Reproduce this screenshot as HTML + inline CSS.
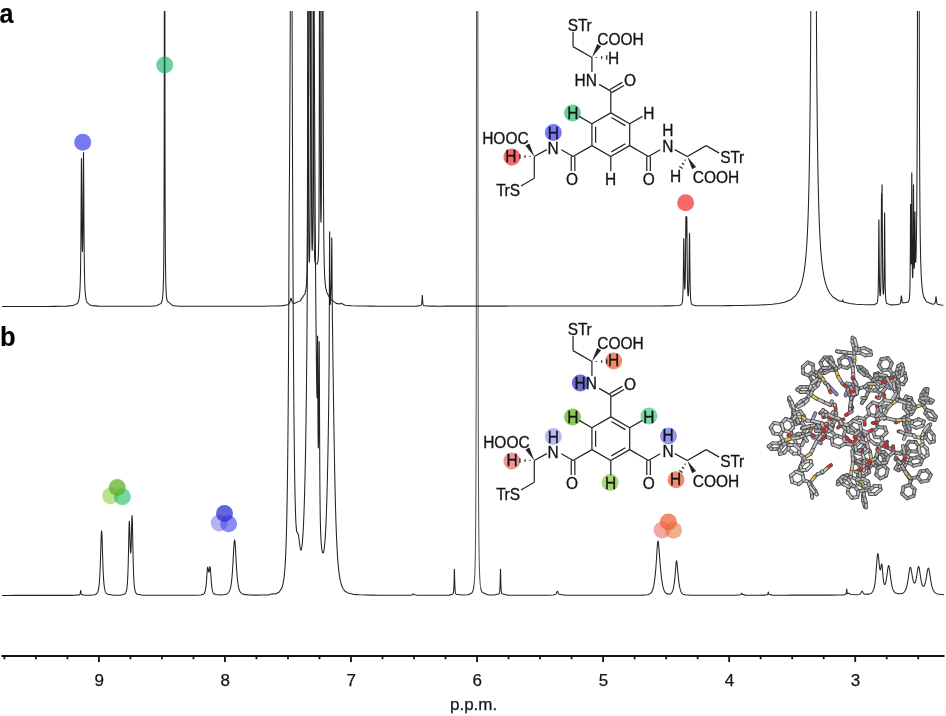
<!DOCTYPE html>
<html><head><meta charset="utf-8"><style>
html,body{margin:0;padding:0;background:#fff;overflow:hidden}
svg{display:block}
</style></head><body>
<svg width="946" height="716" viewBox="0 0 946 716">
<rect width="946" height="716" fill="#fff"/>
<defs><clipPath id="clp"><rect x="0" y="11" width="946" height="705"/></clipPath><clipPath id="clpb"><rect x="0" y="11" width="474" height="705"/><rect x="480.8" y="11" width="470" height="705"/><rect x="474" y="588" width="7" height="100"/></clipPath><clipPath id="clpg"><rect x="474" y="11" width="6.8" height="577"/></clipPath></defs>
<g clip-path="url(#clpb)" fill="none" stroke="#222" stroke-width="1.05" stroke-linejoin="round"><path d="M2.00 595.40 L8.50 595.40 L15.00 595.39 L21.50 595.39 L28.00 595.39 L34.50 595.39 L41.00 595.39 L47.50 595.38 L54.00 595.38 L60.50 595.38 L67.00 595.37 L73.50 595.35 L79.50 594.88 L79.90 594.40 L80.10 593.88 L80.23 593.33 L80.37 592.53 L80.57 591.05 L80.63 590.71 L80.70 590.57 L80.77 590.70 L80.83 591.05 L81.03 592.53 L81.17 593.33 L81.30 593.88 L81.50 594.39 L84.63 595.28 L90.78 595.19 L94.75 594.68 L96.16 594.01 L96.73 593.51 L97.01 593.17 L97.58 592.20 L97.86 591.52 L98.14 590.64 L98.43 589.50 L98.71 588.00 L99.00 585.98 L99.28 583.38 L99.50 580.69 L99.56 579.83 L99.84 575.13 L100.00 571.95 L100.13 568.97 L100.41 561.17 L100.50 558.45 L100.69 552.03 L101.00 541.83 L101.26 534.65 L101.50 531.12 L101.55 530.88 L101.83 532.58 L102.00 536.10 L102.11 539.14 L102.39 548.29 L102.50 551.86 L102.68 557.75 L102.96 566.14 L103.00 567.15 L103.25 572.92 L103.50 577.70 L103.53 578.15 L103.81 582.12 L104.00 584.18 L104.09 585.08 L104.38 587.29 L104.50 588.07 L104.66 588.96 L105.00 590.44 L105.23 591.20 L105.51 591.95 L105.80 592.54 L106.08 593.00 L106.64 593.68 L107.50 594.29 L113.73 595.21 L119.79 595.16 L123.75 594.54 L124.84 593.88 L125.50 593.08 L126.00 592.06 L126.35 590.95 L126.57 590.03 L126.79 588.84 L127.00 587.31 L127.16 585.90 L127.22 585.29 L127.38 583.43 L127.50 581.69 L127.59 580.15 L127.65 579.11 L127.81 575.82 L127.87 574.40 L128.00 570.86 L128.09 568.21 L128.24 562.61 L128.30 560.31 L128.46 553.41 L128.52 550.64 L128.74 539.92 L128.89 532.39 L128.95 529.90 L129.00 528.01 L129.11 524.42 L129.17 523.01 L129.33 521.28 L129.39 521.44 L129.50 522.89 L129.54 523.83 L129.60 525.32 L129.76 530.52 L130.00 539.58 L130.04 540.88 L130.19 546.02 L130.25 547.62 L130.41 550.99 L130.47 551.86 L130.50 552.22 L130.63 553.08 L130.69 553.11 L130.84 552.07 L130.90 551.27 L131.00 549.42 L131.06 547.99 L131.12 546.36 L131.28 541.05 L131.34 538.76 L131.50 531.85 L131.55 529.59 L131.71 523.07 L131.77 520.93 L131.93 516.67 L131.99 515.78 L132.00 515.63 L132.14 515.67 L132.20 516.49 L132.36 520.88 L132.42 523.21 L132.50 526.86 L132.58 530.70 L132.64 533.80 L132.85 545.42 L133.01 553.38 L133.07 556.13 L133.23 562.79 L133.29 565.01 L133.44 570.25 L133.50 571.94 L133.66 575.94 L133.72 577.24 L133.88 580.25 L134.00 582.19 L134.09 583.48 L134.15 584.20 L134.31 585.91 L134.37 586.47 L134.53 587.76 L134.74 589.19 L135.02 590.54 L135.24 591.35 L135.67 592.50 L136.10 593.26 L137.19 594.27 L143.19 595.24 L149.50 595.32 L156.00 595.33 L162.50 595.34 L169.00 595.34 L175.50 595.33 L182.00 595.33 L188.50 595.31 L194.80 595.27 L200.93 594.99 L203.17 594.32 L204.00 593.62 L204.50 592.88 L204.77 592.31 L205.03 591.57 L205.30 590.59 L205.57 589.30 L205.73 588.28 L205.83 587.58 L206.00 586.24 L206.10 585.32 L206.27 583.58 L206.37 582.41 L206.53 580.27 L206.63 578.87 L207.07 572.41 L207.22 570.42 L207.33 569.12 L207.43 568.24 L207.50 567.79 L207.60 567.33 L207.70 567.15 L207.87 567.41 L208.00 568.02 L208.40 570.67 L208.52 571.34 L208.67 571.93 L208.77 572.13 L208.95 572.06 L209.03 571.83 L209.20 571.07 L209.38 569.86 L209.57 568.50 L209.73 567.42 L209.83 566.96 L210.00 566.66 L210.10 566.83 L210.27 567.73 L210.37 568.62 L210.53 570.58 L210.68 572.70 L211.12 579.26 L211.33 582.14 L211.50 584.08 L211.60 585.11 L211.70 586.04 L211.87 587.41 L212.00 588.35 L212.13 589.16 L212.23 589.70 L212.50 590.88 L212.85 592.01 L213.30 592.98 L213.83 593.69 L215.17 594.54 L221.30 594.96 L225.00 594.52 L226.72 593.93 L227.58 593.40 L228.02 593.04 L228.50 592.52 L229.00 591.80 L229.50 590.85 L229.75 590.25 L230.00 589.56 L230.18 588.97 L230.50 587.77 L230.62 587.26 L231.05 584.99 L231.50 581.82 L231.92 577.90 L232.00 576.99 L232.35 572.61 L232.50 570.46 L232.78 565.94 L233.00 562.11 L233.22 558.06 L233.50 552.67 L233.65 549.90 L234.00 544.24 L234.08 543.16 L234.50 539.96 L234.52 539.92 L234.95 541.40 L235.00 541.86 L235.38 547.02 L235.50 549.01 L235.82 554.89 L236.00 558.38 L236.25 563.01 L236.50 567.32 L236.68 570.20 L237.00 574.60 L237.12 576.03 L237.50 580.07 L237.55 580.52 L238.00 584.03 L238.42 586.46 L238.50 586.87 L238.85 588.36 L239.00 588.90 L239.28 589.79 L239.72 590.88 L240.15 591.71 L240.58 592.36 L241.02 592.86 L242.00 593.65 L243.62 594.36 L249.68 595.05 L255.75 595.14 L261.82 595.09 L267.97 594.86 L270.63 594.40 L271.64 593.85 L275.13 594.03 L279.02 592.30 L281.81 588.10 L283.02 583.83 L283.72 579.86 L284.19 576.14 L284.56 572.49 L284.86 568.94 L285.11 565.26 L285.33 561.60 L285.51 558.16 L285.70 554.26 L285.92 548.93 L286.15 542.44 L286.32 536.81 L286.48 531.26 L286.58 527.34 L286.69 522.56 L286.81 517.07 L286.91 512.29 L287.02 506.12 L287.09 502.33 L287.17 497.99 L287.27 491.01 L287.35 486.01 L287.43 480.01 L287.50 474.96 L287.57 469.50 L287.65 463.09 L287.73 456.14 L287.79 450.22 L287.86 443.12 L287.90 439.28 L287.98 430.94 L288.02 426.75 L288.08 419.30 L288.15 410.48 L288.19 405.82 L288.23 401.01 L288.26 396.19 L288.31 389.67 L288.34 385.79 L288.38 380.48 L288.43 372.78 L288.45 368.95 L288.49 363.01 L288.53 355.25 L288.56 350.01 L288.60 342.28 L288.63 335.94 L288.66 330.58 L288.68 325.87 L288.70 320.34 L288.72 317.60 L288.74 311.74 L288.78 302.63 L288.81 293.27 L288.83 288.41 L288.85 283.16 L288.90 269.42 L288.96 250.69 L288.98 246.38 L289.00 240.48 L289.01 238.30 L289.04 231.22 L289.07 223.60 L289.07 222.50 L289.11 215.12 L289.12 212.37 L289.15 209.16 L289.18 204.45 L289.22 200.75 L289.25 197.57 L289.31 192.75 L289.33 191.23 L289.37 187.78 L289.40 183.80 L289.42 182.05 L289.44 179.35 L289.48 174.01 L289.51 169.21 L289.53 165.99 L289.55 163.46 L289.59 156.34 L289.62 151.13 L289.66 144.47 L289.71 135.31 L289.73 130.71 L289.77 123.49 L289.84 108.89 L289.92 93.95 L290.06 63.31 L290.25 24.75 L290.32 9.00 L290.41 -10.26 L290.43 -14.90 L290.48 -26.14 L290.50 -29.00 L290.54 -29.00 L290.57 -29.00 L290.58 -29.00 L290.61 -29.00 L290.65 -29.00 L290.67 -29.00 L290.69 -29.00 L290.70 -29.00 L290.72 -29.00 L290.76 -29.00 L290.80 -29.00 L290.81 -29.00 L290.82 -29.00 L290.83 -29.00 L290.87 -29.00 L290.88 -29.00 L290.90 -29.00 L290.90 -29.00 L290.93 -29.00 L290.94 -29.00 L290.95 -29.00 L290.98 -29.00 L290.99 -29.00 L291.00 -29.00 L291.01 -29.00 L291.03 -29.00 L291.05 -29.00 L291.05 -29.00 L291.09 -29.00 L291.11 -29.00 L291.12 -29.00 L291.15 -29.00 L291.16 -29.00 L291.17 -29.00 L291.20 -29.00 L291.23 -29.00 L291.24 -29.00 L291.24 -29.00 L291.27 -29.00 L291.28 -29.00 L291.31 -29.00 L291.31 -29.00 L291.34 -29.00 L291.35 -29.00 L291.38 -29.00 L291.40 -29.00 L291.42 -29.00 L291.45 -29.00 L291.46 -29.00 L291.48 -29.00 L291.49 -29.00 L291.50 -29.00 L291.52 -29.00 L291.53 -29.00 L291.56 -29.00 L291.57 -29.00 L291.60 -29.00 L291.63 -29.00 L291.64 -29.00 L291.65 -29.00 L291.68 -29.00 L291.69 -29.00 L291.71 -29.00 L291.75 -29.00 L291.75 -29.00 L291.79 -29.00 L291.80 -29.00 L291.81 -29.00 L291.81 -29.00 L291.82 -29.00 L291.86 -29.00 L291.87 -29.00 L291.89 -29.00 L291.90 -29.00 L291.93 -29.00 L291.93 -29.00 L291.97 -29.00 L291.98 -29.00 L292.00 -29.00 L292.00 -29.00 L292.03 -21.35 L292.04 -15.15 L292.08 2.92 L292.09 7.10 L292.10 12.56 L292.12 19.20 L292.15 32.36 L292.16 37.26 L292.19 49.51 L292.22 60.11 L292.23 63.06 L292.26 76.32 L292.27 80.84 L292.30 89.01 L292.31 93.34 L292.33 100.87 L292.37 112.62 L292.41 123.98 L292.45 136.14 L292.48 145.35 L292.52 155.72 L292.56 165.54 L292.59 175.37 L292.63 184.96 L292.67 194.06 L292.70 203.19 L292.74 212.82 L292.77 220.58 L292.81 229.09 L292.86 239.41 L292.90 248.58 L292.94 257.10 L293.00 269.49 L293.03 276.12 L293.07 283.20 L293.11 290.12 L293.15 297.82 L293.18 303.88 L293.22 311.95 L293.25 316.85 L293.29 323.20 L293.32 329.24 L293.36 335.31 L293.40 341.39 L293.44 346.87 L293.48 353.57 L293.55 363.28 L293.58 368.54 L293.62 373.67 L293.65 378.54 L293.69 383.43 L293.73 388.19 L293.76 392.71 L293.81 398.45 L293.88 405.85 L293.91 410.05 L293.95 414.14 L294.00 419.60 L294.08 427.38 L294.15 434.17 L294.20 439.63 L294.24 442.93 L294.31 449.18 L294.36 452.87 L294.43 457.98 L294.50 463.56 L294.57 468.61 L294.65 473.52 L294.72 478.08 L294.83 484.46 L294.90 488.39 L295.01 493.85 L295.08 497.21 L295.16 500.39 L295.23 503.32 L295.31 506.32 L295.42 509.86 L295.53 513.41 L295.65 516.58 L295.75 519.00 L295.86 521.38 L296.00 524.10 L296.15 526.35 L296.37 528.92 L296.55 530.44 L296.74 531.49 L297.03 532.43 L298.06 533.69 L298.42 535.12 L298.86 537.97 L299.93 546.52 L300.37 548.96 L300.69 549.96 L301.03 550.17 L301.36 549.56 L301.69 548.12 L302.05 545.54 L302.35 542.73 L302.64 539.20 L302.93 534.96 L303.09 532.35 L303.26 529.35 L303.45 525.54 L303.59 522.47 L303.76 518.60 L303.92 514.37 L304.03 511.48 L304.17 507.38 L304.34 502.23 L304.42 499.51 L304.53 495.86 L304.59 493.73 L304.67 490.69 L304.76 487.53 L304.92 480.79 L305.03 476.20 L305.17 469.71 L305.26 465.74 L305.34 461.57 L305.44 456.60 L305.53 451.52 L305.59 448.16 L305.67 443.35 L305.76 438.36 L305.84 433.11 L305.92 427.71 L306.03 420.43 L306.09 416.18 L306.17 410.09 L306.26 403.73 L306.34 397.02 L306.42 390.08 L306.51 382.81 L306.59 375.07 L306.67 367.02 L306.76 358.50 L306.84 349.33 L306.90 342.39 L306.92 339.63 L307.01 329.16 L307.03 325.97 L307.09 317.61 L307.14 310.17 L307.17 305.00 L307.26 290.90 L307.34 274.67 L307.40 261.58 L307.42 255.94 L307.50 236.31 L307.53 227.76 L307.59 209.20 L307.67 180.39 L307.71 167.33 L307.76 148.92 L307.84 117.27 L307.90 97.44 L307.92 90.95 L307.99 76.39 L308.00 75.22 L308.01 74.42 L308.03 71.86 L308.09 69.60 L308.17 74.05 L308.26 82.64 L308.28 84.79 L308.34 90.97 L308.40 95.17 L308.42 96.28 L308.50 97.93 L308.53 97.73 L308.56 97.09 L308.59 96.04 L308.67 91.25 L308.68 90.42 L308.76 84.13 L308.78 81.82 L308.84 74.63 L308.88 70.90 L308.90 67.76 L308.92 64.79 L308.97 58.31 L309.01 53.40 L309.03 49.94 L309.07 44.63 L309.09 41.02 L309.13 35.19 L309.17 28.13 L309.26 14.39 L309.35 -1.48 L309.45 -17.94 L309.55 -29.00 L309.70 -29.00 L310.34 -29.00 L310.55 -29.00 L310.69 -29.00 L310.84 -29.00 L310.92 -29.00 L311.03 -29.00 L311.12 -29.00 L311.17 -29.00 L311.27 -29.00 L311.36 -29.00 L311.42 -29.00 L311.46 -29.00 L311.51 -29.00 L311.55 -29.00 L311.59 -29.00 L311.65 -29.00 L311.68 -29.00 L311.75 -29.00 L311.76 -29.00 L311.84 -29.00 L311.90 -29.00 L311.94 -29.00 L311.97 -29.00 L312.01 -29.00 L312.03 -29.00 L312.09 -29.00 L312.13 -29.00 L312.17 -29.00 L312.22 -29.00 L312.26 -29.00 L312.31 -29.00 L312.32 -29.00 L312.34 -29.00 L312.37 -29.00 L312.40 -29.00 L312.43 -29.00 L312.49 -29.00 L312.51 -29.00 L312.54 -29.00 L312.55 -29.00 L312.59 -29.00 L312.61 -29.00 L312.67 -29.00 L312.67 -29.00 L312.70 -29.00 L312.73 -29.00 L312.76 -29.00 L312.78 -29.00 L312.80 -29.00 L312.82 -29.00 L312.84 -29.00 L312.89 -29.00 L312.92 -29.00 L312.96 -29.00 L313.01 -29.00 L313.03 -29.00 L313.09 -29.00 L313.14 -29.00 L313.18 -29.00 L313.20 -29.00 L313.28 -29.00 L313.53 -29.00 L313.59 -29.00 L313.68 -29.00 L313.76 -29.00 L313.80 -29.00 L313.86 -29.00 L313.92 -29.00 L313.98 -29.00 L314.04 -25.31 L314.10 -10.68 L314.14 -0.43 L314.17 8.66 L314.24 25.23 L314.28 33.94 L314.34 49.10 L314.40 62.95 L314.45 75.32 L314.53 91.73 L314.59 104.46 L314.63 113.59 L314.69 125.75 L314.76 137.98 L314.81 148.93 L314.87 160.15 L314.93 170.90 L315.01 183.98 L315.05 191.89 L315.11 201.80 L315.19 214.50 L315.26 225.06 L315.29 230.29 L315.35 239.33 L315.42 250.00 L315.48 257.53 L315.53 265.01 L315.59 273.10 L315.67 283.93 L315.71 288.37 L315.77 295.81 L315.86 306.69 L315.95 317.55 L316.03 325.87 L316.09 332.20 L316.15 337.94 L316.19 341.83 L316.26 348.70 L316.31 353.27 L316.36 358.58 L316.43 364.54 L316.51 370.98 L316.54 373.39 L316.60 377.86 L316.66 382.04 L316.72 385.83 L316.78 389.31 L316.81 391.04 L316.84 392.35 L316.90 394.80 L316.91 395.15 L316.96 396.61 L317.01 397.43 L317.03 397.62 L317.08 397.41 L317.10 397.02 L317.14 395.84 L317.20 392.41 L317.26 386.82 L317.29 382.30 L317.32 378.51 L317.36 370.55 L317.39 365.61 L317.44 355.37 L317.49 346.03 L317.50 343.43 L317.53 339.18 L317.56 336.70 L317.58 335.97 L317.62 337.44 L317.65 341.25 L317.68 346.70 L317.74 362.06 L317.77 372.29 L317.80 379.37 L317.86 396.15 L317.87 399.24 L317.90 406.95 L317.92 410.51 L317.93 413.86 L317.96 419.78 L317.98 421.88 L318.00 425.90 L318.03 430.17 L318.06 433.75 L318.10 437.52 L318.15 442.34 L318.22 445.62 L318.25 446.82 L318.27 447.41 L318.33 448.02 L318.35 447.99 L318.39 447.41 L318.40 447.26 L318.44 445.98 L318.45 445.54 L318.50 443.16 L318.51 442.41 L318.54 440.67 L318.57 437.79 L318.63 431.50 L318.69 423.91 L318.73 418.07 L318.75 414.38 L318.78 408.42 L318.81 403.21 L318.82 400.60 L318.87 390.92 L318.93 377.70 L318.99 364.74 L319.00 362.70 L319.02 359.54 L319.03 356.90 L319.05 353.56 L319.07 350.54 L319.11 345.30 L319.11 345.09 L319.17 341.54 L319.21 341.90 L319.23 343.05 L319.29 349.92 L319.30 352.40 L319.35 361.36 L319.35 362.25 L319.40 373.93 L319.41 375.75 L319.47 392.08 L319.53 409.61 L319.59 425.62 L319.64 437.05 L319.65 439.41 L319.69 448.24 L319.71 452.71 L319.76 464.21 L319.78 467.07 L319.82 474.38 L319.88 482.06 L319.90 485.16 L319.92 487.71 L319.94 490.60 L319.97 493.76 L320.00 497.12 L320.03 499.66 L320.07 503.10 L320.12 507.55 L320.16 510.52 L320.20 513.16 L320.26 516.44 L320.30 518.75 L320.36 521.65 L320.42 524.24 L320.50 527.21 L320.55 528.78 L320.60 530.51 L320.66 532.20 L320.74 534.22 L320.84 536.53 L320.96 538.90 L321.08 540.94 L321.22 542.98 L321.44 545.66 L321.62 547.52 L321.79 548.91 L322.09 550.79 L322.40 552.10 L322.69 552.80 L322.94 553.02 L323.13 552.95 L323.42 552.47 L323.61 551.87 L323.80 551.10 L324.09 549.47 L324.40 547.16 L324.67 544.57 L325.04 540.19 L325.26 537.13 L325.43 534.34 L325.62 531.09 L325.84 526.67 L326.03 522.52 L326.19 518.66 L326.31 515.66 L326.54 509.17 L326.67 505.30 L326.77 501.95 L326.89 498.03 L327.07 491.78 L327.18 487.34 L327.36 480.28 L327.53 472.71 L327.65 467.39 L327.82 458.90 L327.94 452.89 L328.06 446.59 L328.21 438.04 L328.32 430.95 L328.41 425.66 L328.50 419.49 L328.58 413.59 L328.64 409.23 L328.70 404.63 L328.73 401.81 L328.79 396.64 L328.82 394.43 L328.85 391.16 L328.87 388.75 L328.91 385.17 L328.93 382.40 L328.97 378.42 L329.01 373.23 L329.03 370.25 L329.06 365.78 L329.08 362.39 L329.11 358.31 L329.14 352.29 L329.17 347.68 L329.20 340.60 L329.22 335.16 L329.25 328.33 L329.26 326.79 L329.28 320.11 L329.29 317.60 L329.32 310.30 L329.34 302.90 L329.35 300.67 L329.38 291.83 L329.40 283.71 L329.44 268.67 L329.46 263.65 L329.49 252.95 L329.50 250.63 L329.52 246.27 L329.53 242.82 L329.54 240.81 L329.55 238.60 L329.57 234.77 L329.58 234.51 L329.61 231.90 L329.63 231.76 L329.63 231.82 L329.67 234.06 L329.69 237.16 L329.73 243.12 L329.75 248.06 L329.81 261.11 L329.84 268.40 L329.87 273.21 L329.90 279.40 L329.92 283.28 L329.96 288.09 L329.98 291.12 L330.00 292.95 L330.02 294.60 L330.04 296.65 L330.07 299.04 L330.10 300.41 L330.13 301.93 L330.16 302.79 L330.19 303.65 L330.22 304.06 L330.25 304.42 L330.27 304.54 L330.31 304.53 L330.33 304.42 L330.37 304.14 L330.43 303.34 L330.51 301.90 L330.62 299.33 L331.01 289.62 L331.09 287.28 L331.15 285.48 L331.21 283.40 L331.24 282.06 L331.28 280.39 L331.30 279.42 L331.32 278.17 L331.36 276.20 L331.38 274.59 L331.42 272.15 L331.44 270.22 L331.48 267.19 L331.50 264.73 L331.53 261.19 L331.56 257.59 L331.65 247.05 L331.67 244.33 L331.71 241.05 L331.73 239.26 L331.77 237.96 L331.79 237.95 L331.82 239.34 L331.85 241.27 L331.88 245.21 L331.91 248.84 L331.94 254.45 L331.97 258.71 L332.03 270.33 L332.06 275.25 L332.08 279.46 L332.12 284.89 L332.14 288.50 L332.18 293.28 L332.20 296.45 L332.23 300.66 L332.26 303.57 L332.29 307.31 L332.32 309.81 L332.35 313.19 L332.37 315.47 L332.43 320.78 L332.50 326.44 L332.55 330.39 L332.67 339.42 L333.07 369.25 L333.42 394.07 L333.66 410.13 L333.89 425.48 L334.07 436.48 L334.24 446.99 L334.42 456.96 L334.59 466.38 L334.77 475.26 L334.94 483.58 L335.12 491.36 L335.27 497.66 L335.38 502.24 L335.56 508.74 L335.68 512.83 L335.82 517.76 L336.03 524.06 L336.11 526.30 L336.39 533.85 L336.53 537.18 L336.68 540.50 L336.96 546.35 L337.03 547.69 L337.24 551.52 L337.53 556.10 L337.81 560.08 L338.10 563.62 L338.38 566.75 L338.53 568.25 L338.66 569.52 L339.03 572.63 L339.23 574.15 L339.53 576.18 L339.80 577.82 L340.08 579.36 L340.53 581.45 L341.03 583.42 L341.53 585.04 L342.07 586.50 L342.64 587.76 L343.21 588.80 L344.06 590.05 L345.20 591.27 L347.18 592.65 L353.43 594.36 L359.50 594.85 L365.53 595.05 L372.00 595.14 L378.50 595.19 L385.00 595.22 L391.50 595.23 L398.00 595.24 L404.50 595.24 L410.55 595.20 L412.55 594.79 L413.22 593.81 L413.38 593.81 L414.05 594.79 L417.50 595.23 L424.00 595.24 L430.50 595.24 L437.00 595.23 L443.04 595.21 L449.09 595.12 L452.68 594.19 L453.16 593.30 L453.38 592.49 L453.50 591.80 L453.61 590.97 L453.67 590.39 L453.73 589.71 L453.78 588.89 L453.84 587.88 L453.90 586.68 L453.96 585.21 L454.02 583.40 L454.04 582.64 L454.09 580.50 L454.15 578.07 L454.26 572.88 L454.31 570.73 L454.37 569.46 L454.43 569.39 L454.48 570.64 L454.50 571.21 L454.54 572.92 L454.66 578.39 L454.72 580.95 L454.75 582.38 L454.81 584.24 L454.86 585.79 L454.92 587.09 L454.97 588.17 L455.03 589.07 L455.08 589.82 L455.19 590.98 L455.30 591.82 L455.53 592.94 L456.13 594.18 L462.18 595.07 L468.23 594.68 L471.86 592.91 L472.79 591.26 L473.29 589.70 L473.62 588.17 L473.84 586.81 L474.00 585.54 L474.17 584.01 L474.28 582.80 L474.39 581.41 L474.50 579.79 L474.61 577.93 L474.66 576.88 L474.72 575.73 L474.77 574.49 L474.83 573.14 L474.88 571.67 L474.94 570.07 L475.00 568.11 L475.05 566.39 L475.10 564.27 L475.16 561.94 L475.21 559.36 L475.27 556.51 L475.32 553.35 L475.38 549.83 L475.43 545.89 L475.49 541.49 L475.50 540.54 L475.54 536.54 L475.60 530.96 L475.65 524.64 L475.71 517.46 L475.76 509.27 L475.82 499.88 L475.87 489.07 L475.93 476.55 L475.98 461.99 L476.00 457.32 L476.04 444.96 L476.09 424.91 L476.15 401.15 L476.20 372.80 L476.26 338.74 L476.31 297.48 L476.37 247.11 L476.42 185.06 L476.48 107.94 L476.50 73.61 L476.53 11.20 L476.59 -29.00 L476.64 -29.00 L476.70 -29.00 L476.75 -29.00 L476.81 -29.00 L476.86 -29.00 L476.92 -29.00 L476.97 -29.00 L477.00 -29.00 L477.03 -29.00 L477.08 -29.00 L477.14 -29.00 L477.19 -29.00 L477.25 -29.00 L477.30 -29.00 L477.36 -29.00 L477.41 -29.00 L477.47 -29.00 L477.50 -29.00 L477.52 -29.00 L477.58 -29.00 L477.63 -29.00 L477.69 -29.00 L477.74 -29.00 L477.80 -29.00 L477.85 -13.07 L477.91 88.69 L477.96 169.65 L478.00 213.76 L478.02 234.67 L478.07 287.35 L478.13 330.41 L478.18 365.90 L478.24 395.39 L478.29 420.07 L478.35 440.86 L478.40 458.51 L478.46 473.56 L478.50 483.38 L478.51 486.49 L478.57 497.65 L478.62 507.33 L478.68 515.76 L478.73 523.15 L478.79 529.64 L478.84 535.38 L478.90 540.46 L478.95 544.97 L479.01 549.00 L479.06 552.61 L479.12 555.85 L479.17 558.76 L479.23 561.40 L479.28 563.78 L479.34 565.94 L479.39 567.91 L479.45 569.70 L479.50 571.33 L479.56 572.83 L479.61 574.21 L479.67 575.47 L479.72 576.63 L479.78 577.71 L479.89 579.61 L480.00 581.26 L480.11 582.66 L480.22 583.89 L480.38 585.44 L480.60 587.10 L480.88 588.67 L481.32 590.44 L482.31 592.60 L488.36 594.92 L494.41 595.06 L499.03 593.80 L499.30 593.15 L499.53 592.19 L499.65 591.43 L499.77 590.38 L499.85 589.31 L499.91 588.46 L499.96 587.44 L500.02 586.21 L500.07 584.74 L500.13 582.97 L500.18 580.90 L500.24 578.52 L500.35 573.27 L500.41 570.92 L500.46 569.59 L500.47 569.47 L500.50 569.24 L500.52 569.37 L500.57 570.21 L500.58 570.62 L500.62 572.14 L500.68 574.62 L500.76 578.38 L500.82 580.94 L500.84 582.00 L500.90 583.91 L500.95 585.52 L501.01 586.87 L501.06 587.98 L501.12 588.91 L501.17 589.69 L501.23 590.34 L501.28 590.89 L501.40 591.79 L501.57 592.72 L502.00 593.86 L508.05 595.16 L514.50 595.21 L521.00 595.22 L527.50 595.22 L534.00 595.22 L540.50 595.21 L547.00 595.19 L553.07 595.02 L555.07 594.60 L555.73 594.16 L556.07 593.78 L556.57 592.86 L557.07 591.62 L557.23 591.33 L557.40 591.22 L557.57 591.33 L557.73 591.62 L558.40 593.22 L558.73 593.78 L559.23 594.30 L565.50 595.16 L572.00 595.20 L578.50 595.21 L585.00 595.21 L591.50 595.21 L598.00 595.21 L604.50 595.20 L611.00 595.20 L617.40 595.20 L623.50 595.20 L629.90 595.19 L636.00 595.18 L642.23 595.11 L647.57 594.70 L649.57 594.02 L650.57 593.32 L651.57 592.12 L652.00 591.37 L652.57 590.07 L653.00 588.78 L653.40 587.29 L653.57 586.57 L653.90 584.93 L654.23 583.00 L654.57 580.73 L654.90 578.06 L655.00 577.18 L655.23 574.97 L655.50 572.14 L655.57 571.38 L655.90 567.27 L656.00 565.93 L656.23 562.63 L656.57 557.51 L657.00 550.59 L657.23 547.12 L657.40 544.95 L657.50 543.83 L657.57 543.17 L657.90 541.19 L658.00 541.06 L658.23 541.60 L658.40 542.63 L658.50 543.47 L658.57 544.10 L658.90 547.92 L659.57 556.81 L660.00 562.39 L660.23 565.21 L660.57 568.99 L660.90 572.44 L661.23 575.56 L661.57 578.35 L661.90 580.82 L662.23 582.97 L662.57 584.83 L663.00 586.86 L663.57 588.95 L664.00 590.17 L664.57 591.41 L665.00 592.13 L666.00 593.26 L667.00 593.88 L669.00 594.25 L670.57 593.80 L671.57 592.89 L672.00 592.23 L672.57 591.00 L673.00 589.69 L673.25 588.74 L673.57 587.31 L673.75 586.35 L674.00 584.85 L674.25 583.13 L674.50 581.16 L674.75 578.92 L675.00 576.37 L675.25 573.53 L675.50 570.41 L675.75 567.18 L675.90 565.30 L676.00 564.15 L676.25 561.83 L676.40 561.03 L676.50 560.79 L676.75 561.25 L676.90 562.19 L677.00 563.03 L677.25 565.59 L677.75 571.32 L678.00 574.03 L678.25 576.54 L678.50 578.83 L678.75 580.92 L679.00 582.80 L679.25 584.48 L679.50 585.98 L679.75 587.29 L680.00 588.44 L680.25 589.43 L680.50 590.28 L681.00 591.64 L681.50 592.61 L682.00 593.32 L683.00 594.17 L685.00 594.85 L691.40 595.15 L697.50 595.17 L703.90 595.17 L710.00 595.17 L716.50 595.17 L723.00 595.17 L729.50 595.16 L736.00 595.15 L740.52 594.81 L741.02 594.32 L741.52 593.22 L741.60 593.16 L741.68 593.22 L742.18 594.32 L745.52 595.13 L752.00 595.15 L758.50 595.15 L764.57 595.12 L767.30 594.74 L767.63 594.36 L767.83 593.89 L768.03 593.08 L768.17 592.45 L768.23 592.24 L768.30 592.16 L768.37 592.24 L768.43 592.45 L768.70 593.65 L768.90 594.23 L772.23 595.12 L778.50 595.15 L785.00 595.15 L791.50 595.14 L798.00 595.14 L804.50 595.14 L811.00 595.13 L817.50 595.13 L824.00 595.12 L830.50 595.11 L837.00 595.09 L843.05 595.00 L845.56 594.46 L845.91 593.99 L846.08 593.52 L846.20 593.02 L846.33 592.16 L846.43 591.27 L846.55 590.04 L846.61 589.52 L846.67 589.19 L846.73 589.15 L846.78 589.41 L846.84 589.90 L847.02 591.60 L847.13 592.44 L847.25 593.00 L847.42 593.49 L847.77 593.81 L849.00 593.13 L850.69 594.54 L856.80 594.82 L859.20 594.41 L860.03 593.95 L860.60 593.36 L861.00 592.72 L861.60 591.52 L861.80 591.24 L862.00 591.13 L862.20 591.22 L862.63 591.94 L863.20 593.00 L863.60 593.52 L864.60 594.17 L869.20 594.13 L871.00 593.39 L872.00 592.55 L872.60 591.77 L873.10 590.87 L873.50 589.91 L873.70 589.33 L874.00 588.31 L874.40 586.59 L874.60 585.54 L874.77 584.55 L875.00 582.97 L875.20 581.42 L875.40 579.67 L875.63 577.36 L875.80 575.52 L876.10 571.84 L876.50 566.39 L876.70 563.58 L876.93 560.43 L877.00 559.58 L877.30 556.29 L877.40 555.43 L877.50 554.73 L877.60 554.19 L877.80 553.62 L877.90 553.61 L878.00 553.77 L878.20 554.59 L878.40 555.98 L878.50 556.85 L878.67 558.47 L879.10 563.10 L879.40 566.03 L879.53 567.14 L879.70 568.32 L879.90 569.35 L880.00 569.70 L880.30 570.05 L880.40 569.92 L880.50 569.68 L880.60 569.33 L880.83 568.15 L881.27 565.35 L881.40 564.64 L881.50 564.25 L881.70 563.97 L881.80 564.12 L881.90 564.48 L882.00 565.04 L882.13 566.08 L882.40 568.92 L882.90 575.08 L883.10 577.29 L883.30 579.20 L883.50 580.78 L883.60 581.45 L883.90 583.03 L884.10 583.74 L884.30 584.22 L884.50 584.49 L884.80 584.56 L885.17 584.13 L885.40 583.59 L885.70 582.60 L886.10 580.78 L886.50 578.42 L886.90 575.58 L887.60 570.18 L887.80 568.77 L888.00 567.54 L888.20 566.56 L888.40 565.88 L888.50 565.66 L888.63 565.53 L888.70 565.52 L888.90 565.75 L889.10 566.35 L889.30 567.28 L889.50 568.49 L889.60 569.18 L890.00 572.31 L890.60 577.31 L891.00 580.35 L891.23 581.94 L891.70 584.67 L892.10 586.55 L892.60 588.40 L893.20 590.03 L893.60 590.84 L894.70 592.34 L895.60 593.04 L898.17 593.85 L900.60 593.80 L902.60 593.20 L903.60 592.57 L904.60 591.54 L905.10 590.79 L905.60 589.82 L906.10 588.56 L906.60 586.95 L907.10 584.89 L907.50 582.87 L907.90 580.51 L908.10 579.21 L909.10 572.19 L909.40 570.30 L909.60 569.23 L909.90 568.02 L910.10 567.52 L910.40 567.31 L910.60 567.53 L910.90 568.34 L911.10 569.17 L911.40 570.73 L912.50 577.39 L912.90 579.43 L913.10 580.29 L913.40 581.38 L913.60 581.96 L913.90 582.62 L914.10 582.91 L914.40 583.13 L914.60 583.13 L914.90 582.91 L915.10 582.62 L915.40 581.95 L915.60 581.35 L915.90 580.21 L916.10 579.30 L916.40 577.72 L916.60 576.53 L917.60 569.98 L917.90 568.34 L918.10 567.50 L918.40 566.74 L918.60 566.61 L918.90 567.01 L919.10 567.66 L919.40 569.11 L919.60 570.32 L920.60 577.31 L921.00 579.81 L921.10 580.37 L921.40 581.90 L921.60 582.79 L922.00 584.23 L922.40 585.27 L922.60 585.65 L923.00 586.15 L923.50 586.32 L924.00 585.99 L924.40 585.36 L924.60 584.92 L925.00 583.79 L925.40 582.29 L925.60 581.40 L926.00 579.37 L926.60 575.79 L927.10 572.66 L927.40 570.95 L927.60 569.97 L927.90 568.83 L928.10 568.35 L928.40 568.11 L928.60 568.28 L928.90 569.03 L929.10 569.83 L929.40 571.38 L929.60 572.58 L930.60 579.26 L931.10 582.28 L931.60 584.82 L932.10 586.88 L932.60 588.52 L933.10 589.80 L933.60 590.80 L934.10 591.58 L935.10 592.69 L936.10 593.39 L937.50 593.99 L943.90 594.84 L944.00 594.84"/></g>
<g clip-path="url(#clpg)" fill="none" stroke="#555" stroke-width="1.05" stroke-linejoin="round"><path d="M2.00 595.40 L8.50 595.40 L15.00 595.39 L21.50 595.39 L28.00 595.39 L34.50 595.39 L41.00 595.39 L47.50 595.38 L54.00 595.38 L60.50 595.38 L67.00 595.37 L73.50 595.35 L79.50 594.88 L79.90 594.40 L80.10 593.88 L80.23 593.33 L80.37 592.53 L80.57 591.05 L80.63 590.71 L80.70 590.57 L80.77 590.70 L80.83 591.05 L81.03 592.53 L81.17 593.33 L81.30 593.88 L81.50 594.39 L84.63 595.28 L90.78 595.19 L94.75 594.68 L96.16 594.01 L96.73 593.51 L97.01 593.17 L97.58 592.20 L97.86 591.52 L98.14 590.64 L98.43 589.50 L98.71 588.00 L99.00 585.98 L99.28 583.38 L99.50 580.69 L99.56 579.83 L99.84 575.13 L100.00 571.95 L100.13 568.97 L100.41 561.17 L100.50 558.45 L100.69 552.03 L101.00 541.83 L101.26 534.65 L101.50 531.12 L101.55 530.88 L101.83 532.58 L102.00 536.10 L102.11 539.14 L102.39 548.29 L102.50 551.86 L102.68 557.75 L102.96 566.14 L103.00 567.15 L103.25 572.92 L103.50 577.70 L103.53 578.15 L103.81 582.12 L104.00 584.18 L104.09 585.08 L104.38 587.29 L104.50 588.07 L104.66 588.96 L105.00 590.44 L105.23 591.20 L105.51 591.95 L105.80 592.54 L106.08 593.00 L106.64 593.68 L107.50 594.29 L113.73 595.21 L119.79 595.16 L123.75 594.54 L124.84 593.88 L125.50 593.08 L126.00 592.06 L126.35 590.95 L126.57 590.03 L126.79 588.84 L127.00 587.31 L127.16 585.90 L127.22 585.29 L127.38 583.43 L127.50 581.69 L127.59 580.15 L127.65 579.11 L127.81 575.82 L127.87 574.40 L128.00 570.86 L128.09 568.21 L128.24 562.61 L128.30 560.31 L128.46 553.41 L128.52 550.64 L128.74 539.92 L128.89 532.39 L128.95 529.90 L129.00 528.01 L129.11 524.42 L129.17 523.01 L129.33 521.28 L129.39 521.44 L129.50 522.89 L129.54 523.83 L129.60 525.32 L129.76 530.52 L130.00 539.58 L130.04 540.88 L130.19 546.02 L130.25 547.62 L130.41 550.99 L130.47 551.86 L130.50 552.22 L130.63 553.08 L130.69 553.11 L130.84 552.07 L130.90 551.27 L131.00 549.42 L131.06 547.99 L131.12 546.36 L131.28 541.05 L131.34 538.76 L131.50 531.85 L131.55 529.59 L131.71 523.07 L131.77 520.93 L131.93 516.67 L131.99 515.78 L132.00 515.63 L132.14 515.67 L132.20 516.49 L132.36 520.88 L132.42 523.21 L132.50 526.86 L132.58 530.70 L132.64 533.80 L132.85 545.42 L133.01 553.38 L133.07 556.13 L133.23 562.79 L133.29 565.01 L133.44 570.25 L133.50 571.94 L133.66 575.94 L133.72 577.24 L133.88 580.25 L134.00 582.19 L134.09 583.48 L134.15 584.20 L134.31 585.91 L134.37 586.47 L134.53 587.76 L134.74 589.19 L135.02 590.54 L135.24 591.35 L135.67 592.50 L136.10 593.26 L137.19 594.27 L143.19 595.24 L149.50 595.32 L156.00 595.33 L162.50 595.34 L169.00 595.34 L175.50 595.33 L182.00 595.33 L188.50 595.31 L194.80 595.27 L200.93 594.99 L203.17 594.32 L204.00 593.62 L204.50 592.88 L204.77 592.31 L205.03 591.57 L205.30 590.59 L205.57 589.30 L205.73 588.28 L205.83 587.58 L206.00 586.24 L206.10 585.32 L206.27 583.58 L206.37 582.41 L206.53 580.27 L206.63 578.87 L207.07 572.41 L207.22 570.42 L207.33 569.12 L207.43 568.24 L207.50 567.79 L207.60 567.33 L207.70 567.15 L207.87 567.41 L208.00 568.02 L208.40 570.67 L208.52 571.34 L208.67 571.93 L208.77 572.13 L208.95 572.06 L209.03 571.83 L209.20 571.07 L209.38 569.86 L209.57 568.50 L209.73 567.42 L209.83 566.96 L210.00 566.66 L210.10 566.83 L210.27 567.73 L210.37 568.62 L210.53 570.58 L210.68 572.70 L211.12 579.26 L211.33 582.14 L211.50 584.08 L211.60 585.11 L211.70 586.04 L211.87 587.41 L212.00 588.35 L212.13 589.16 L212.23 589.70 L212.50 590.88 L212.85 592.01 L213.30 592.98 L213.83 593.69 L215.17 594.54 L221.30 594.96 L225.00 594.52 L226.72 593.93 L227.58 593.40 L228.02 593.04 L228.50 592.52 L229.00 591.80 L229.50 590.85 L229.75 590.25 L230.00 589.56 L230.18 588.97 L230.50 587.77 L230.62 587.26 L231.05 584.99 L231.50 581.82 L231.92 577.90 L232.00 576.99 L232.35 572.61 L232.50 570.46 L232.78 565.94 L233.00 562.11 L233.22 558.06 L233.50 552.67 L233.65 549.90 L234.00 544.24 L234.08 543.16 L234.50 539.96 L234.52 539.92 L234.95 541.40 L235.00 541.86 L235.38 547.02 L235.50 549.01 L235.82 554.89 L236.00 558.38 L236.25 563.01 L236.50 567.32 L236.68 570.20 L237.00 574.60 L237.12 576.03 L237.50 580.07 L237.55 580.52 L238.00 584.03 L238.42 586.46 L238.50 586.87 L238.85 588.36 L239.00 588.90 L239.28 589.79 L239.72 590.88 L240.15 591.71 L240.58 592.36 L241.02 592.86 L242.00 593.65 L243.62 594.36 L249.68 595.05 L255.75 595.14 L261.82 595.09 L267.97 594.86 L270.63 594.40 L271.64 593.85 L275.13 594.03 L279.02 592.30 L281.81 588.10 L283.02 583.83 L283.72 579.86 L284.19 576.14 L284.56 572.49 L284.86 568.94 L285.11 565.26 L285.33 561.60 L285.51 558.16 L285.70 554.26 L285.92 548.93 L286.15 542.44 L286.32 536.81 L286.48 531.26 L286.58 527.34 L286.69 522.56 L286.81 517.07 L286.91 512.29 L287.02 506.12 L287.09 502.33 L287.17 497.99 L287.27 491.01 L287.35 486.01 L287.43 480.01 L287.50 474.96 L287.57 469.50 L287.65 463.09 L287.73 456.14 L287.79 450.22 L287.86 443.12 L287.90 439.28 L287.98 430.94 L288.02 426.75 L288.08 419.30 L288.15 410.48 L288.19 405.82 L288.23 401.01 L288.26 396.19 L288.31 389.67 L288.34 385.79 L288.38 380.48 L288.43 372.78 L288.45 368.95 L288.49 363.01 L288.53 355.25 L288.56 350.01 L288.60 342.28 L288.63 335.94 L288.66 330.58 L288.68 325.87 L288.70 320.34 L288.72 317.60 L288.74 311.74 L288.78 302.63 L288.81 293.27 L288.83 288.41 L288.85 283.16 L288.90 269.42 L288.96 250.69 L288.98 246.38 L289.00 240.48 L289.01 238.30 L289.04 231.22 L289.07 223.60 L289.07 222.50 L289.11 215.12 L289.12 212.37 L289.15 209.16 L289.18 204.45 L289.22 200.75 L289.25 197.57 L289.31 192.75 L289.33 191.23 L289.37 187.78 L289.40 183.80 L289.42 182.05 L289.44 179.35 L289.48 174.01 L289.51 169.21 L289.53 165.99 L289.55 163.46 L289.59 156.34 L289.62 151.13 L289.66 144.47 L289.71 135.31 L289.73 130.71 L289.77 123.49 L289.84 108.89 L289.92 93.95 L290.06 63.31 L290.25 24.75 L290.32 9.00 L290.41 -10.26 L290.43 -14.90 L290.48 -26.14 L290.50 -29.00 L290.54 -29.00 L290.57 -29.00 L290.58 -29.00 L290.61 -29.00 L290.65 -29.00 L290.67 -29.00 L290.69 -29.00 L290.70 -29.00 L290.72 -29.00 L290.76 -29.00 L290.80 -29.00 L290.81 -29.00 L290.82 -29.00 L290.83 -29.00 L290.87 -29.00 L290.88 -29.00 L290.90 -29.00 L290.90 -29.00 L290.93 -29.00 L290.94 -29.00 L290.95 -29.00 L290.98 -29.00 L290.99 -29.00 L291.00 -29.00 L291.01 -29.00 L291.03 -29.00 L291.05 -29.00 L291.05 -29.00 L291.09 -29.00 L291.11 -29.00 L291.12 -29.00 L291.15 -29.00 L291.16 -29.00 L291.17 -29.00 L291.20 -29.00 L291.23 -29.00 L291.24 -29.00 L291.24 -29.00 L291.27 -29.00 L291.28 -29.00 L291.31 -29.00 L291.31 -29.00 L291.34 -29.00 L291.35 -29.00 L291.38 -29.00 L291.40 -29.00 L291.42 -29.00 L291.45 -29.00 L291.46 -29.00 L291.48 -29.00 L291.49 -29.00 L291.50 -29.00 L291.52 -29.00 L291.53 -29.00 L291.56 -29.00 L291.57 -29.00 L291.60 -29.00 L291.63 -29.00 L291.64 -29.00 L291.65 -29.00 L291.68 -29.00 L291.69 -29.00 L291.71 -29.00 L291.75 -29.00 L291.75 -29.00 L291.79 -29.00 L291.80 -29.00 L291.81 -29.00 L291.81 -29.00 L291.82 -29.00 L291.86 -29.00 L291.87 -29.00 L291.89 -29.00 L291.90 -29.00 L291.93 -29.00 L291.93 -29.00 L291.97 -29.00 L291.98 -29.00 L292.00 -29.00 L292.00 -29.00 L292.03 -21.35 L292.04 -15.15 L292.08 2.92 L292.09 7.10 L292.10 12.56 L292.12 19.20 L292.15 32.36 L292.16 37.26 L292.19 49.51 L292.22 60.11 L292.23 63.06 L292.26 76.32 L292.27 80.84 L292.30 89.01 L292.31 93.34 L292.33 100.87 L292.37 112.62 L292.41 123.98 L292.45 136.14 L292.48 145.35 L292.52 155.72 L292.56 165.54 L292.59 175.37 L292.63 184.96 L292.67 194.06 L292.70 203.19 L292.74 212.82 L292.77 220.58 L292.81 229.09 L292.86 239.41 L292.90 248.58 L292.94 257.10 L293.00 269.49 L293.03 276.12 L293.07 283.20 L293.11 290.12 L293.15 297.82 L293.18 303.88 L293.22 311.95 L293.25 316.85 L293.29 323.20 L293.32 329.24 L293.36 335.31 L293.40 341.39 L293.44 346.87 L293.48 353.57 L293.55 363.28 L293.58 368.54 L293.62 373.67 L293.65 378.54 L293.69 383.43 L293.73 388.19 L293.76 392.71 L293.81 398.45 L293.88 405.85 L293.91 410.05 L293.95 414.14 L294.00 419.60 L294.08 427.38 L294.15 434.17 L294.20 439.63 L294.24 442.93 L294.31 449.18 L294.36 452.87 L294.43 457.98 L294.50 463.56 L294.57 468.61 L294.65 473.52 L294.72 478.08 L294.83 484.46 L294.90 488.39 L295.01 493.85 L295.08 497.21 L295.16 500.39 L295.23 503.32 L295.31 506.32 L295.42 509.86 L295.53 513.41 L295.65 516.58 L295.75 519.00 L295.86 521.38 L296.00 524.10 L296.15 526.35 L296.37 528.92 L296.55 530.44 L296.74 531.49 L297.03 532.43 L298.06 533.69 L298.42 535.12 L298.86 537.97 L299.93 546.52 L300.37 548.96 L300.69 549.96 L301.03 550.17 L301.36 549.56 L301.69 548.12 L302.05 545.54 L302.35 542.73 L302.64 539.20 L302.93 534.96 L303.09 532.35 L303.26 529.35 L303.45 525.54 L303.59 522.47 L303.76 518.60 L303.92 514.37 L304.03 511.48 L304.17 507.38 L304.34 502.23 L304.42 499.51 L304.53 495.86 L304.59 493.73 L304.67 490.69 L304.76 487.53 L304.92 480.79 L305.03 476.20 L305.17 469.71 L305.26 465.74 L305.34 461.57 L305.44 456.60 L305.53 451.52 L305.59 448.16 L305.67 443.35 L305.76 438.36 L305.84 433.11 L305.92 427.71 L306.03 420.43 L306.09 416.18 L306.17 410.09 L306.26 403.73 L306.34 397.02 L306.42 390.08 L306.51 382.81 L306.59 375.07 L306.67 367.02 L306.76 358.50 L306.84 349.33 L306.90 342.39 L306.92 339.63 L307.01 329.16 L307.03 325.97 L307.09 317.61 L307.14 310.17 L307.17 305.00 L307.26 290.90 L307.34 274.67 L307.40 261.58 L307.42 255.94 L307.50 236.31 L307.53 227.76 L307.59 209.20 L307.67 180.39 L307.71 167.33 L307.76 148.92 L307.84 117.27 L307.90 97.44 L307.92 90.95 L307.99 76.39 L308.00 75.22 L308.01 74.42 L308.03 71.86 L308.09 69.60 L308.17 74.05 L308.26 82.64 L308.28 84.79 L308.34 90.97 L308.40 95.17 L308.42 96.28 L308.50 97.93 L308.53 97.73 L308.56 97.09 L308.59 96.04 L308.67 91.25 L308.68 90.42 L308.76 84.13 L308.78 81.82 L308.84 74.63 L308.88 70.90 L308.90 67.76 L308.92 64.79 L308.97 58.31 L309.01 53.40 L309.03 49.94 L309.07 44.63 L309.09 41.02 L309.13 35.19 L309.17 28.13 L309.26 14.39 L309.35 -1.48 L309.45 -17.94 L309.55 -29.00 L309.70 -29.00 L310.34 -29.00 L310.55 -29.00 L310.69 -29.00 L310.84 -29.00 L310.92 -29.00 L311.03 -29.00 L311.12 -29.00 L311.17 -29.00 L311.27 -29.00 L311.36 -29.00 L311.42 -29.00 L311.46 -29.00 L311.51 -29.00 L311.55 -29.00 L311.59 -29.00 L311.65 -29.00 L311.68 -29.00 L311.75 -29.00 L311.76 -29.00 L311.84 -29.00 L311.90 -29.00 L311.94 -29.00 L311.97 -29.00 L312.01 -29.00 L312.03 -29.00 L312.09 -29.00 L312.13 -29.00 L312.17 -29.00 L312.22 -29.00 L312.26 -29.00 L312.31 -29.00 L312.32 -29.00 L312.34 -29.00 L312.37 -29.00 L312.40 -29.00 L312.43 -29.00 L312.49 -29.00 L312.51 -29.00 L312.54 -29.00 L312.55 -29.00 L312.59 -29.00 L312.61 -29.00 L312.67 -29.00 L312.67 -29.00 L312.70 -29.00 L312.73 -29.00 L312.76 -29.00 L312.78 -29.00 L312.80 -29.00 L312.82 -29.00 L312.84 -29.00 L312.89 -29.00 L312.92 -29.00 L312.96 -29.00 L313.01 -29.00 L313.03 -29.00 L313.09 -29.00 L313.14 -29.00 L313.18 -29.00 L313.20 -29.00 L313.28 -29.00 L313.53 -29.00 L313.59 -29.00 L313.68 -29.00 L313.76 -29.00 L313.80 -29.00 L313.86 -29.00 L313.92 -29.00 L313.98 -29.00 L314.04 -25.31 L314.10 -10.68 L314.14 -0.43 L314.17 8.66 L314.24 25.23 L314.28 33.94 L314.34 49.10 L314.40 62.95 L314.45 75.32 L314.53 91.73 L314.59 104.46 L314.63 113.59 L314.69 125.75 L314.76 137.98 L314.81 148.93 L314.87 160.15 L314.93 170.90 L315.01 183.98 L315.05 191.89 L315.11 201.80 L315.19 214.50 L315.26 225.06 L315.29 230.29 L315.35 239.33 L315.42 250.00 L315.48 257.53 L315.53 265.01 L315.59 273.10 L315.67 283.93 L315.71 288.37 L315.77 295.81 L315.86 306.69 L315.95 317.55 L316.03 325.87 L316.09 332.20 L316.15 337.94 L316.19 341.83 L316.26 348.70 L316.31 353.27 L316.36 358.58 L316.43 364.54 L316.51 370.98 L316.54 373.39 L316.60 377.86 L316.66 382.04 L316.72 385.83 L316.78 389.31 L316.81 391.04 L316.84 392.35 L316.90 394.80 L316.91 395.15 L316.96 396.61 L317.01 397.43 L317.03 397.62 L317.08 397.41 L317.10 397.02 L317.14 395.84 L317.20 392.41 L317.26 386.82 L317.29 382.30 L317.32 378.51 L317.36 370.55 L317.39 365.61 L317.44 355.37 L317.49 346.03 L317.50 343.43 L317.53 339.18 L317.56 336.70 L317.58 335.97 L317.62 337.44 L317.65 341.25 L317.68 346.70 L317.74 362.06 L317.77 372.29 L317.80 379.37 L317.86 396.15 L317.87 399.24 L317.90 406.95 L317.92 410.51 L317.93 413.86 L317.96 419.78 L317.98 421.88 L318.00 425.90 L318.03 430.17 L318.06 433.75 L318.10 437.52 L318.15 442.34 L318.22 445.62 L318.25 446.82 L318.27 447.41 L318.33 448.02 L318.35 447.99 L318.39 447.41 L318.40 447.26 L318.44 445.98 L318.45 445.54 L318.50 443.16 L318.51 442.41 L318.54 440.67 L318.57 437.79 L318.63 431.50 L318.69 423.91 L318.73 418.07 L318.75 414.38 L318.78 408.42 L318.81 403.21 L318.82 400.60 L318.87 390.92 L318.93 377.70 L318.99 364.74 L319.00 362.70 L319.02 359.54 L319.03 356.90 L319.05 353.56 L319.07 350.54 L319.11 345.30 L319.11 345.09 L319.17 341.54 L319.21 341.90 L319.23 343.05 L319.29 349.92 L319.30 352.40 L319.35 361.36 L319.35 362.25 L319.40 373.93 L319.41 375.75 L319.47 392.08 L319.53 409.61 L319.59 425.62 L319.64 437.05 L319.65 439.41 L319.69 448.24 L319.71 452.71 L319.76 464.21 L319.78 467.07 L319.82 474.38 L319.88 482.06 L319.90 485.16 L319.92 487.71 L319.94 490.60 L319.97 493.76 L320.00 497.12 L320.03 499.66 L320.07 503.10 L320.12 507.55 L320.16 510.52 L320.20 513.16 L320.26 516.44 L320.30 518.75 L320.36 521.65 L320.42 524.24 L320.50 527.21 L320.55 528.78 L320.60 530.51 L320.66 532.20 L320.74 534.22 L320.84 536.53 L320.96 538.90 L321.08 540.94 L321.22 542.98 L321.44 545.66 L321.62 547.52 L321.79 548.91 L322.09 550.79 L322.40 552.10 L322.69 552.80 L322.94 553.02 L323.13 552.95 L323.42 552.47 L323.61 551.87 L323.80 551.10 L324.09 549.47 L324.40 547.16 L324.67 544.57 L325.04 540.19 L325.26 537.13 L325.43 534.34 L325.62 531.09 L325.84 526.67 L326.03 522.52 L326.19 518.66 L326.31 515.66 L326.54 509.17 L326.67 505.30 L326.77 501.95 L326.89 498.03 L327.07 491.78 L327.18 487.34 L327.36 480.28 L327.53 472.71 L327.65 467.39 L327.82 458.90 L327.94 452.89 L328.06 446.59 L328.21 438.04 L328.32 430.95 L328.41 425.66 L328.50 419.49 L328.58 413.59 L328.64 409.23 L328.70 404.63 L328.73 401.81 L328.79 396.64 L328.82 394.43 L328.85 391.16 L328.87 388.75 L328.91 385.17 L328.93 382.40 L328.97 378.42 L329.01 373.23 L329.03 370.25 L329.06 365.78 L329.08 362.39 L329.11 358.31 L329.14 352.29 L329.17 347.68 L329.20 340.60 L329.22 335.16 L329.25 328.33 L329.26 326.79 L329.28 320.11 L329.29 317.60 L329.32 310.30 L329.34 302.90 L329.35 300.67 L329.38 291.83 L329.40 283.71 L329.44 268.67 L329.46 263.65 L329.49 252.95 L329.50 250.63 L329.52 246.27 L329.53 242.82 L329.54 240.81 L329.55 238.60 L329.57 234.77 L329.58 234.51 L329.61 231.90 L329.63 231.76 L329.63 231.82 L329.67 234.06 L329.69 237.16 L329.73 243.12 L329.75 248.06 L329.81 261.11 L329.84 268.40 L329.87 273.21 L329.90 279.40 L329.92 283.28 L329.96 288.09 L329.98 291.12 L330.00 292.95 L330.02 294.60 L330.04 296.65 L330.07 299.04 L330.10 300.41 L330.13 301.93 L330.16 302.79 L330.19 303.65 L330.22 304.06 L330.25 304.42 L330.27 304.54 L330.31 304.53 L330.33 304.42 L330.37 304.14 L330.43 303.34 L330.51 301.90 L330.62 299.33 L331.01 289.62 L331.09 287.28 L331.15 285.48 L331.21 283.40 L331.24 282.06 L331.28 280.39 L331.30 279.42 L331.32 278.17 L331.36 276.20 L331.38 274.59 L331.42 272.15 L331.44 270.22 L331.48 267.19 L331.50 264.73 L331.53 261.19 L331.56 257.59 L331.65 247.05 L331.67 244.33 L331.71 241.05 L331.73 239.26 L331.77 237.96 L331.79 237.95 L331.82 239.34 L331.85 241.27 L331.88 245.21 L331.91 248.84 L331.94 254.45 L331.97 258.71 L332.03 270.33 L332.06 275.25 L332.08 279.46 L332.12 284.89 L332.14 288.50 L332.18 293.28 L332.20 296.45 L332.23 300.66 L332.26 303.57 L332.29 307.31 L332.32 309.81 L332.35 313.19 L332.37 315.47 L332.43 320.78 L332.50 326.44 L332.55 330.39 L332.67 339.42 L333.07 369.25 L333.42 394.07 L333.66 410.13 L333.89 425.48 L334.07 436.48 L334.24 446.99 L334.42 456.96 L334.59 466.38 L334.77 475.26 L334.94 483.58 L335.12 491.36 L335.27 497.66 L335.38 502.24 L335.56 508.74 L335.68 512.83 L335.82 517.76 L336.03 524.06 L336.11 526.30 L336.39 533.85 L336.53 537.18 L336.68 540.50 L336.96 546.35 L337.03 547.69 L337.24 551.52 L337.53 556.10 L337.81 560.08 L338.10 563.62 L338.38 566.75 L338.53 568.25 L338.66 569.52 L339.03 572.63 L339.23 574.15 L339.53 576.18 L339.80 577.82 L340.08 579.36 L340.53 581.45 L341.03 583.42 L341.53 585.04 L342.07 586.50 L342.64 587.76 L343.21 588.80 L344.06 590.05 L345.20 591.27 L347.18 592.65 L353.43 594.36 L359.50 594.85 L365.53 595.05 L372.00 595.14 L378.50 595.19 L385.00 595.22 L391.50 595.23 L398.00 595.24 L404.50 595.24 L410.55 595.20 L412.55 594.79 L413.22 593.81 L413.38 593.81 L414.05 594.79 L417.50 595.23 L424.00 595.24 L430.50 595.24 L437.00 595.23 L443.04 595.21 L449.09 595.12 L452.68 594.19 L453.16 593.30 L453.38 592.49 L453.50 591.80 L453.61 590.97 L453.67 590.39 L453.73 589.71 L453.78 588.89 L453.84 587.88 L453.90 586.68 L453.96 585.21 L454.02 583.40 L454.04 582.64 L454.09 580.50 L454.15 578.07 L454.26 572.88 L454.31 570.73 L454.37 569.46 L454.43 569.39 L454.48 570.64 L454.50 571.21 L454.54 572.92 L454.66 578.39 L454.72 580.95 L454.75 582.38 L454.81 584.24 L454.86 585.79 L454.92 587.09 L454.97 588.17 L455.03 589.07 L455.08 589.82 L455.19 590.98 L455.30 591.82 L455.53 592.94 L456.13 594.18 L462.18 595.07 L468.23 594.68 L471.86 592.91 L472.79 591.26 L473.29 589.70 L473.62 588.17 L473.84 586.81 L474.00 585.54 L474.17 584.01 L474.28 582.80 L474.39 581.41 L474.50 579.79 L474.61 577.93 L474.66 576.88 L474.72 575.73 L474.77 574.49 L474.83 573.14 L474.88 571.67 L474.94 570.07 L475.00 568.11 L475.05 566.39 L475.10 564.27 L475.16 561.94 L475.21 559.36 L475.27 556.51 L475.32 553.35 L475.38 549.83 L475.43 545.89 L475.49 541.49 L475.50 540.54 L475.54 536.54 L475.60 530.96 L475.65 524.64 L475.71 517.46 L475.76 509.27 L475.82 499.88 L475.87 489.07 L475.93 476.55 L475.98 461.99 L476.00 457.32 L476.04 444.96 L476.09 424.91 L476.15 401.15 L476.20 372.80 L476.26 338.74 L476.31 297.48 L476.37 247.11 L476.42 185.06 L476.48 107.94 L476.50 73.61 L476.53 11.20 L476.59 -29.00 L476.64 -29.00 L476.70 -29.00 L476.75 -29.00 L476.81 -29.00 L476.86 -29.00 L476.92 -29.00 L476.97 -29.00 L477.00 -29.00 L477.03 -29.00 L477.08 -29.00 L477.14 -29.00 L477.19 -29.00 L477.25 -29.00 L477.30 -29.00 L477.36 -29.00 L477.41 -29.00 L477.47 -29.00 L477.50 -29.00 L477.52 -29.00 L477.58 -29.00 L477.63 -29.00 L477.69 -29.00 L477.74 -29.00 L477.80 -29.00 L477.85 -13.07 L477.91 88.69 L477.96 169.65 L478.00 213.76 L478.02 234.67 L478.07 287.35 L478.13 330.41 L478.18 365.90 L478.24 395.39 L478.29 420.07 L478.35 440.86 L478.40 458.51 L478.46 473.56 L478.50 483.38 L478.51 486.49 L478.57 497.65 L478.62 507.33 L478.68 515.76 L478.73 523.15 L478.79 529.64 L478.84 535.38 L478.90 540.46 L478.95 544.97 L479.01 549.00 L479.06 552.61 L479.12 555.85 L479.17 558.76 L479.23 561.40 L479.28 563.78 L479.34 565.94 L479.39 567.91 L479.45 569.70 L479.50 571.33 L479.56 572.83 L479.61 574.21 L479.67 575.47 L479.72 576.63 L479.78 577.71 L479.89 579.61 L480.00 581.26 L480.11 582.66 L480.22 583.89 L480.38 585.44 L480.60 587.10 L480.88 588.67 L481.32 590.44 L482.31 592.60 L488.36 594.92 L494.41 595.06 L499.03 593.80 L499.30 593.15 L499.53 592.19 L499.65 591.43 L499.77 590.38 L499.85 589.31 L499.91 588.46 L499.96 587.44 L500.02 586.21 L500.07 584.74 L500.13 582.97 L500.18 580.90 L500.24 578.52 L500.35 573.27 L500.41 570.92 L500.46 569.59 L500.47 569.47 L500.50 569.24 L500.52 569.37 L500.57 570.21 L500.58 570.62 L500.62 572.14 L500.68 574.62 L500.76 578.38 L500.82 580.94 L500.84 582.00 L500.90 583.91 L500.95 585.52 L501.01 586.87 L501.06 587.98 L501.12 588.91 L501.17 589.69 L501.23 590.34 L501.28 590.89 L501.40 591.79 L501.57 592.72 L502.00 593.86 L508.05 595.16 L514.50 595.21 L521.00 595.22 L527.50 595.22 L534.00 595.22 L540.50 595.21 L547.00 595.19 L553.07 595.02 L555.07 594.60 L555.73 594.16 L556.07 593.78 L556.57 592.86 L557.07 591.62 L557.23 591.33 L557.40 591.22 L557.57 591.33 L557.73 591.62 L558.40 593.22 L558.73 593.78 L559.23 594.30 L565.50 595.16 L572.00 595.20 L578.50 595.21 L585.00 595.21 L591.50 595.21 L598.00 595.21 L604.50 595.20 L611.00 595.20 L617.40 595.20 L623.50 595.20 L629.90 595.19 L636.00 595.18 L642.23 595.11 L647.57 594.70 L649.57 594.02 L650.57 593.32 L651.57 592.12 L652.00 591.37 L652.57 590.07 L653.00 588.78 L653.40 587.29 L653.57 586.57 L653.90 584.93 L654.23 583.00 L654.57 580.73 L654.90 578.06 L655.00 577.18 L655.23 574.97 L655.50 572.14 L655.57 571.38 L655.90 567.27 L656.00 565.93 L656.23 562.63 L656.57 557.51 L657.00 550.59 L657.23 547.12 L657.40 544.95 L657.50 543.83 L657.57 543.17 L657.90 541.19 L658.00 541.06 L658.23 541.60 L658.40 542.63 L658.50 543.47 L658.57 544.10 L658.90 547.92 L659.57 556.81 L660.00 562.39 L660.23 565.21 L660.57 568.99 L660.90 572.44 L661.23 575.56 L661.57 578.35 L661.90 580.82 L662.23 582.97 L662.57 584.83 L663.00 586.86 L663.57 588.95 L664.00 590.17 L664.57 591.41 L665.00 592.13 L666.00 593.26 L667.00 593.88 L669.00 594.25 L670.57 593.80 L671.57 592.89 L672.00 592.23 L672.57 591.00 L673.00 589.69 L673.25 588.74 L673.57 587.31 L673.75 586.35 L674.00 584.85 L674.25 583.13 L674.50 581.16 L674.75 578.92 L675.00 576.37 L675.25 573.53 L675.50 570.41 L675.75 567.18 L675.90 565.30 L676.00 564.15 L676.25 561.83 L676.40 561.03 L676.50 560.79 L676.75 561.25 L676.90 562.19 L677.00 563.03 L677.25 565.59 L677.75 571.32 L678.00 574.03 L678.25 576.54 L678.50 578.83 L678.75 580.92 L679.00 582.80 L679.25 584.48 L679.50 585.98 L679.75 587.29 L680.00 588.44 L680.25 589.43 L680.50 590.28 L681.00 591.64 L681.50 592.61 L682.00 593.32 L683.00 594.17 L685.00 594.85 L691.40 595.15 L697.50 595.17 L703.90 595.17 L710.00 595.17 L716.50 595.17 L723.00 595.17 L729.50 595.16 L736.00 595.15 L740.52 594.81 L741.02 594.32 L741.52 593.22 L741.60 593.16 L741.68 593.22 L742.18 594.32 L745.52 595.13 L752.00 595.15 L758.50 595.15 L764.57 595.12 L767.30 594.74 L767.63 594.36 L767.83 593.89 L768.03 593.08 L768.17 592.45 L768.23 592.24 L768.30 592.16 L768.37 592.24 L768.43 592.45 L768.70 593.65 L768.90 594.23 L772.23 595.12 L778.50 595.15 L785.00 595.15 L791.50 595.14 L798.00 595.14 L804.50 595.14 L811.00 595.13 L817.50 595.13 L824.00 595.12 L830.50 595.11 L837.00 595.09 L843.05 595.00 L845.56 594.46 L845.91 593.99 L846.08 593.52 L846.20 593.02 L846.33 592.16 L846.43 591.27 L846.55 590.04 L846.61 589.52 L846.67 589.19 L846.73 589.15 L846.78 589.41 L846.84 589.90 L847.02 591.60 L847.13 592.44 L847.25 593.00 L847.42 593.49 L847.77 593.81 L849.00 593.13 L850.69 594.54 L856.80 594.82 L859.20 594.41 L860.03 593.95 L860.60 593.36 L861.00 592.72 L861.60 591.52 L861.80 591.24 L862.00 591.13 L862.20 591.22 L862.63 591.94 L863.20 593.00 L863.60 593.52 L864.60 594.17 L869.20 594.13 L871.00 593.39 L872.00 592.55 L872.60 591.77 L873.10 590.87 L873.50 589.91 L873.70 589.33 L874.00 588.31 L874.40 586.59 L874.60 585.54 L874.77 584.55 L875.00 582.97 L875.20 581.42 L875.40 579.67 L875.63 577.36 L875.80 575.52 L876.10 571.84 L876.50 566.39 L876.70 563.58 L876.93 560.43 L877.00 559.58 L877.30 556.29 L877.40 555.43 L877.50 554.73 L877.60 554.19 L877.80 553.62 L877.90 553.61 L878.00 553.77 L878.20 554.59 L878.40 555.98 L878.50 556.85 L878.67 558.47 L879.10 563.10 L879.40 566.03 L879.53 567.14 L879.70 568.32 L879.90 569.35 L880.00 569.70 L880.30 570.05 L880.40 569.92 L880.50 569.68 L880.60 569.33 L880.83 568.15 L881.27 565.35 L881.40 564.64 L881.50 564.25 L881.70 563.97 L881.80 564.12 L881.90 564.48 L882.00 565.04 L882.13 566.08 L882.40 568.92 L882.90 575.08 L883.10 577.29 L883.30 579.20 L883.50 580.78 L883.60 581.45 L883.90 583.03 L884.10 583.74 L884.30 584.22 L884.50 584.49 L884.80 584.56 L885.17 584.13 L885.40 583.59 L885.70 582.60 L886.10 580.78 L886.50 578.42 L886.90 575.58 L887.60 570.18 L887.80 568.77 L888.00 567.54 L888.20 566.56 L888.40 565.88 L888.50 565.66 L888.63 565.53 L888.70 565.52 L888.90 565.75 L889.10 566.35 L889.30 567.28 L889.50 568.49 L889.60 569.18 L890.00 572.31 L890.60 577.31 L891.00 580.35 L891.23 581.94 L891.70 584.67 L892.10 586.55 L892.60 588.40 L893.20 590.03 L893.60 590.84 L894.70 592.34 L895.60 593.04 L898.17 593.85 L900.60 593.80 L902.60 593.20 L903.60 592.57 L904.60 591.54 L905.10 590.79 L905.60 589.82 L906.10 588.56 L906.60 586.95 L907.10 584.89 L907.50 582.87 L907.90 580.51 L908.10 579.21 L909.10 572.19 L909.40 570.30 L909.60 569.23 L909.90 568.02 L910.10 567.52 L910.40 567.31 L910.60 567.53 L910.90 568.34 L911.10 569.17 L911.40 570.73 L912.50 577.39 L912.90 579.43 L913.10 580.29 L913.40 581.38 L913.60 581.96 L913.90 582.62 L914.10 582.91 L914.40 583.13 L914.60 583.13 L914.90 582.91 L915.10 582.62 L915.40 581.95 L915.60 581.35 L915.90 580.21 L916.10 579.30 L916.40 577.72 L916.60 576.53 L917.60 569.98 L917.90 568.34 L918.10 567.50 L918.40 566.74 L918.60 566.61 L918.90 567.01 L919.10 567.66 L919.40 569.11 L919.60 570.32 L920.60 577.31 L921.00 579.81 L921.10 580.37 L921.40 581.90 L921.60 582.79 L922.00 584.23 L922.40 585.27 L922.60 585.65 L923.00 586.15 L923.50 586.32 L924.00 585.99 L924.40 585.36 L924.60 584.92 L925.00 583.79 L925.40 582.29 L925.60 581.40 L926.00 579.37 L926.60 575.79 L927.10 572.66 L927.40 570.95 L927.60 569.97 L927.90 568.83 L928.10 568.35 L928.40 568.11 L928.60 568.28 L928.90 569.03 L929.10 569.83 L929.40 571.38 L929.60 572.58 L930.60 579.26 L931.10 582.28 L931.60 584.82 L932.10 586.88 L932.60 588.52 L933.10 589.80 L933.60 590.80 L934.10 591.58 L935.10 592.69 L936.10 593.39 L937.50 593.99 L943.90 594.84 L944.00 594.84"/></g>
<g clip-path="url(#clp)" fill="none" stroke="#222" stroke-width="1.05" stroke-linejoin="round"><path d="M2.00 306.48 L8.50 306.47 L15.00 306.47 L21.50 306.46 L28.00 306.45 L34.50 306.44 L41.00 306.42 L47.50 306.40 L54.00 306.36 L60.50 306.30 L67.00 306.14 L73.09 305.60 L77.28 303.51 L78.28 301.70 L78.78 300.05 L79.12 298.40 L79.37 296.69 L79.53 295.22 L79.70 293.37 L79.78 292.27 L79.87 291.00 L79.95 289.57 L80.03 287.93 L80.12 286.02 L80.20 283.81 L80.26 282.15 L80.28 281.24 L80.34 279.28 L80.37 278.16 L80.42 275.89 L80.45 274.55 L80.51 271.79 L80.53 270.25 L80.59 266.93 L80.62 265.00 L80.67 261.06 L80.70 258.74 L80.76 253.88 L80.78 251.15 L80.84 245.27 L80.87 241.86 L80.92 234.91 L80.95 230.84 L81.00 223.58 L81.03 217.89 L81.09 208.34 L81.12 203.07 L81.20 187.64 L81.26 177.85 L81.28 173.29 L81.34 165.67 L81.37 162.59 L81.42 159.05 L81.45 158.43 L81.50 159.43 L81.51 159.79 L81.53 161.68 L81.59 167.43 L81.62 171.33 L81.67 179.65 L81.70 184.47 L81.78 198.50 L81.84 207.36 L81.87 211.76 L81.92 219.31 L81.95 223.01 L82.00 228.56 L82.03 232.17 L82.09 237.12 L82.12 239.39 L82.17 243.04 L82.20 244.69 L82.26 247.30 L82.28 248.37 L82.34 250.00 L82.37 250.61 L82.42 251.31 L82.45 251.46 L82.51 251.31 L82.53 251.01 L82.59 249.99 L82.62 249.21 L82.67 247.29 L82.70 246.00 L82.76 243.03 L82.78 241.24 L82.84 237.12 L82.87 234.62 L82.92 229.31 L82.95 226.09 L83.00 220.18 L83.03 215.41 L83.09 207.16 L83.12 202.46 L83.17 193.21 L83.26 178.27 L83.28 173.43 L83.34 164.72 L83.37 160.79 L83.42 155.24 L83.45 153.41 L83.50 152.44 L83.51 152.52 L83.53 153.40 L83.59 157.64 L83.62 161.07 L83.67 169.18 L83.70 174.23 L83.76 184.56 L83.84 200.63 L83.87 206.09 L83.92 215.76 L83.95 220.64 L84.00 228.18 L84.03 233.25 L84.09 240.50 L84.12 243.98 L84.17 249.89 L84.20 252.77 L84.26 257.74 L84.28 260.03 L84.34 264.13 L84.37 266.09 L84.42 269.43 L84.45 271.06 L84.51 273.88 L84.53 275.20 L84.59 277.56 L84.62 278.71 L84.67 280.67 L84.70 281.64 L84.76 283.34 L84.84 285.59 L84.92 287.53 L85.03 289.74 L85.12 291.15 L85.20 292.38 L85.28 293.46 L85.45 295.28 L85.62 296.74 L85.87 298.43 L86.20 300.06 L86.87 302.09 L89.78 305.00 L92.03 305.61 L98.50 306.13 L105.00 306.26 L111.50 306.31 L118.00 306.33 L124.50 306.34 L131.00 306.33 L137.50 306.32 L144.00 306.28 L150.50 306.18 L156.51 305.81 L161.15 303.35 L161.95 301.27 L162.35 299.32 L162.58 297.61 L162.75 295.99 L162.88 294.34 L163.01 292.25 L163.08 291.02 L163.15 289.60 L163.22 287.98 L163.28 286.13 L163.31 285.07 L163.35 283.96 L163.38 282.77 L163.41 281.43 L163.45 280.03 L163.50 277.56 L163.55 274.97 L163.58 272.98 L163.62 270.72 L163.65 268.32 L163.68 265.66 L163.72 262.63 L163.75 259.36 L163.78 255.71 L163.81 251.50 L163.85 246.91 L163.88 241.72 L163.91 235.66 L163.95 228.96 L163.98 221.29 L164.00 216.36 L164.01 212.17 L164.05 201.92 L164.08 189.99 L164.12 175.56 L164.15 159.00 L164.18 139.35 L164.22 115.10 L164.25 86.72 L164.28 52.41 L164.31 9.39 L164.35 -29.00 L164.38 -29.00 L164.41 -29.00 L164.45 -29.00 L164.48 -29.00 L164.50 -29.00 L164.51 -29.00 L164.55 -29.00 L164.58 -29.00 L164.62 -29.00 L164.65 -29.00 L164.68 -29.00 L164.72 -29.00 L164.75 -29.00 L164.78 -29.00 L164.81 -29.00 L164.85 -29.00 L164.88 3.74 L164.91 47.78 L164.95 82.90 L164.98 111.93 L165.00 126.36 L165.01 136.73 L165.05 156.80 L165.08 173.69 L165.12 188.41 L165.15 200.57 L165.18 211.01 L165.22 220.28 L165.25 228.08 L165.28 234.90 L165.31 241.05 L165.35 246.31 L165.38 250.97 L165.41 255.24 L165.45 258.93 L165.48 262.25 L165.50 264.01 L165.51 265.32 L165.55 268.01 L165.58 270.44 L165.62 272.72 L165.65 274.73 L165.68 276.57 L165.72 278.30 L165.75 279.85 L165.78 281.27 L165.81 282.62 L165.85 283.82 L165.88 284.94 L165.95 286.97 L166.01 288.73 L166.08 290.24 L166.15 291.58 L166.25 293.30 L166.38 295.15 L166.55 296.97 L166.78 298.85 L167.22 301.12 L173.08 305.85 L179.50 306.19 L186.00 306.27 L192.50 306.29 L199.00 306.30 L205.50 306.31 L212.00 306.31 L218.50 306.30 L225.00 306.30 L231.50 306.29 L238.00 306.28 L244.50 306.27 L251.00 306.25 L257.50 306.22 L264.00 306.18 L270.50 306.10 L277.00 305.95 L283.03 305.62 L287.53 304.82 L288.57 304.22 L289.09 303.66 L289.50 302.97 L289.79 302.28 L290.00 301.61 L290.31 300.42 L290.65 298.99 L290.83 298.48 L291.00 298.27 L291.17 298.42 L291.35 298.87 L291.87 300.81 L292.04 301.36 L292.21 301.83 L292.56 302.52 L293.08 303.10 L294.12 303.47 L300.12 300.86 L304.77 294.06 L305.77 290.46 L306.12 288.20 L306.29 286.65 L306.43 285.06 L306.53 283.54 L306.58 282.50 L306.68 280.34 L306.77 277.84 L306.82 276.18 L306.88 274.22 L306.93 271.58 L306.98 269.34 L307.00 267.91 L307.03 265.68 L307.05 264.46 L307.07 262.60 L307.09 261.18 L307.12 258.16 L307.15 255.49 L307.18 252.78 L307.21 248.45 L307.23 246.04 L307.25 242.34 L307.27 238.05 L307.28 236.39 L307.32 228.57 L307.34 223.87 L307.35 221.86 L307.37 215.94 L307.38 212.43 L307.40 207.09 L307.42 199.85 L307.43 198.75 L307.44 192.20 L307.45 188.91 L307.46 185.05 L307.47 179.15 L307.48 177.73 L307.50 164.43 L307.52 155.29 L307.52 150.41 L307.55 133.75 L307.56 127.17 L307.57 117.09 L307.58 113.84 L307.62 76.07 L307.62 70.86 L307.62 67.66 L307.63 57.75 L307.65 38.90 L307.67 10.20 L307.68 4.61 L307.69 -18.93 L307.72 -29.00 L307.73 -29.00 L307.73 -29.00 L307.75 -29.00 L307.75 -29.00 L307.77 -29.00 L307.77 -29.00 L307.79 -29.00 L307.81 -29.00 L307.82 -29.00 L307.82 -29.00 L307.85 -29.00 L307.87 -29.00 L307.88 -29.00 L307.91 -29.00 L307.92 -29.00 L307.93 -29.00 L307.95 -29.00 L307.97 -29.00 L307.97 -29.00 L307.98 -29.00 L307.98 -29.00 L308.00 -29.00 L308.02 -29.00 L308.02 -29.00 L308.03 -29.00 L308.04 -29.00 L308.05 -29.00 L308.07 -29.00 L308.07 -29.00 L308.08 -29.00 L308.10 -29.00 L308.12 -29.00 L308.12 -29.00 L308.14 -29.00 L308.16 -29.00 L308.17 -29.00 L308.18 -29.00 L308.20 -29.00 L308.22 -29.00 L308.22 -29.00 L308.23 -29.00 L308.25 -29.00 L308.26 -29.00 L308.27 -29.00 L308.28 -29.00 L308.32 -8.54 L308.32 -1.37 L308.32 2.85 L308.33 15.10 L308.35 35.48 L308.37 60.76 L308.38 65.04 L308.39 81.25 L308.42 108.02 L308.43 110.46 L308.43 117.54 L308.45 129.99 L308.47 143.84 L308.48 145.69 L308.49 155.62 L308.50 159.98 L308.51 164.67 L308.52 171.05 L308.52 172.46 L308.55 183.78 L308.57 190.00 L308.57 192.93 L308.61 204.07 L308.63 208.96 L308.65 215.17 L308.67 219.15 L308.68 222.80 L308.72 229.94 L308.74 233.20 L308.75 234.42 L308.77 237.95 L308.78 239.12 L308.80 241.20 L308.82 243.87 L308.85 246.34 L308.88 248.55 L308.90 250.58 L308.93 252.25 L308.96 254.31 L308.98 255.22 L309.00 256.38 L309.03 257.79 L309.08 259.21 L309.09 259.67 L309.13 260.66 L309.18 261.37 L309.23 261.92 L309.27 262.16 L309.33 262.11 L309.38 261.68 L309.45 260.73 L309.50 259.64 L309.56 257.98 L309.60 256.48 L309.62 255.49 L309.66 253.92 L309.68 253.06 L309.73 250.22 L309.75 248.56 L309.78 246.66 L309.79 245.39 L309.82 242.53 L309.85 240.01 L309.88 237.46 L309.89 235.50 L309.91 233.41 L309.93 231.32 L309.95 227.62 L309.98 223.86 L310.00 219.53 L310.01 217.87 L310.03 214.54 L310.05 209.44 L310.07 205.50 L310.08 201.27 L310.12 190.62 L310.13 189.39 L310.14 184.27 L310.15 181.56 L310.17 173.62 L310.18 168.94 L310.20 161.87 L310.22 152.33 L310.23 150.90 L310.24 142.36 L310.25 138.10 L310.26 133.12 L310.27 125.55 L310.27 123.73 L310.30 106.89 L310.32 95.45 L310.32 89.40 L310.35 68.96 L310.36 60.99 L310.37 48.87 L310.38 44.99 L310.42 0.81 L310.42 -5.17 L310.43 -8.82 L310.43 -20.06 L310.45 -29.00 L310.47 -29.00 L310.48 -29.00 L310.49 -29.00 L310.50 -29.00 L310.52 -29.00 L310.52 -29.00 L310.53 -29.00 L310.55 -29.00 L310.55 -29.00 L310.57 -29.00 L310.57 -29.00 L310.59 -29.00 L310.61 -29.00 L310.62 -29.00 L310.65 -29.00 L310.67 -29.00 L310.67 -29.00 L310.68 -29.00 L310.71 -29.00 L310.72 -29.00 L310.73 -29.00 L310.75 -29.00 L310.77 -29.00 L310.77 -29.00 L310.77 -29.00 L310.78 -29.00 L310.82 -29.00 L310.83 -29.00 L310.84 -29.00 L310.85 -29.00 L310.87 -29.00 L310.88 -29.00 L310.88 -29.00 L310.90 -29.00 L310.92 -29.00 L310.93 -29.00 L310.94 -29.00 L310.95 -29.00 L310.96 -29.00 L310.98 -29.00 L311.00 -29.00 L311.02 -29.00 L311.02 -29.00 L311.05 -29.00 L311.06 -29.00 L311.07 -29.00 L311.08 -29.00 L311.12 -29.00 L311.12 -29.00 L311.12 -29.00 L311.13 -29.00 L311.15 -29.00 L311.17 -15.11 L311.18 -10.22 L311.19 8.49 L311.22 40.07 L311.23 42.99 L311.23 51.52 L311.25 66.66 L311.27 83.77 L311.27 86.08 L311.29 98.55 L311.31 110.05 L311.32 118.23 L311.32 120.05 L311.35 134.78 L311.37 142.98 L311.38 146.86 L311.41 161.81 L311.43 168.45 L311.45 176.99 L311.47 182.50 L311.48 184.94 L311.48 187.60 L311.50 192.06 L311.53 198.67 L311.54 202.37 L311.55 204.13 L311.57 209.25 L311.58 210.97 L311.60 214.03 L311.62 217.99 L311.64 220.57 L311.66 222.97 L311.68 225.08 L311.70 228.21 L311.73 230.83 L311.75 233.29 L311.78 235.59 L311.82 239.30 L311.85 240.92 L311.88 242.42 L311.89 243.27 L311.93 245.21 L311.98 246.75 L312.02 248.22 L312.07 249.28 L312.13 249.97 L312.18 250.30 L312.23 250.25 L312.28 249.76 L312.32 249.10 L312.38 247.92 L312.40 247.13 L312.43 246.27 L312.46 244.84 L312.48 244.03 L312.50 242.74 L312.53 240.64 L312.55 239.52 L312.58 237.50 L312.59 236.13 L312.62 232.95 L312.65 230.07 L312.68 227.07 L312.69 224.72 L312.71 222.17 L312.73 219.57 L312.75 214.87 L312.77 211.67 L312.77 209.97 L312.81 201.91 L312.83 197.32 L312.85 190.11 L312.87 184.42 L312.88 181.56 L312.88 178.19 L312.92 162.03 L312.93 160.12 L312.94 152.07 L312.95 147.78 L312.97 134.93 L312.98 133.06 L312.98 127.24 L313.00 115.43 L313.02 99.22 L313.02 96.75 L313.04 81.95 L313.05 74.50 L313.06 65.72 L313.07 52.28 L313.07 49.04 L313.10 18.78 L313.12 -1.90 L313.12 -8.70 L313.12 -12.86 L313.15 -29.00 L313.16 -29.00 L313.17 -29.00 L313.18 -29.00 L313.22 -29.00 L313.23 -29.00 L313.23 -29.00 L313.25 -29.00 L313.27 -29.00 L313.28 -29.00 L313.29 -29.00 L313.32 -29.00 L313.32 -29.00 L313.33 -29.00 L313.35 -29.00 L313.35 -29.00 L313.37 -29.00 L313.38 -29.00 L313.39 -29.00 L313.41 -29.00 L313.42 -29.00 L313.43 -29.00 L313.45 -29.00 L313.45 -29.00 L313.47 -29.00 L313.47 -29.00 L313.48 -29.00 L313.50 -29.00 L313.51 -29.00 L313.52 -29.00 L313.53 -29.00 L313.55 -29.00 L313.57 -29.00 L313.57 -29.00 L313.58 -29.00 L313.62 -29.00 L313.63 -29.00 L313.64 -29.00 L313.65 -29.00 L313.67 -17.08 L313.68 -12.87 L313.68 -0.57 L313.70 21.26 L313.72 45.77 L313.73 49.06 L313.74 66.75 L313.75 74.53 L313.76 82.90 L313.77 94.29 L313.77 96.80 L313.80 116.95 L313.82 127.99 L313.82 133.16 L313.85 147.91 L313.86 152.74 L313.87 159.32 L313.88 161.25 L313.92 178.82 L313.93 181.82 L313.93 185.05 L313.95 190.42 L313.97 197.12 L313.98 198.26 L313.99 202.58 L314.00 204.62 L314.02 210.48 L314.03 212.42 L314.05 215.86 L314.07 220.25 L314.09 223.08 L314.11 225.69 L314.12 227.96 L314.15 231.33 L314.18 234.10 L314.21 237.57 L314.23 239.13 L314.25 241.14 L314.28 243.67 L314.33 246.36 L314.35 247.71 L314.38 249.43 L314.43 251.22 L314.48 253.08 L314.52 254.65 L314.58 255.99 L314.65 257.58 L314.75 259.23 L314.88 260.68 L315.10 262.32 L315.57 263.79 L317.08 264.10 L317.62 262.96 L317.98 260.96 L318.08 260.00 L318.19 258.56 L318.32 256.28 L318.38 255.19 L318.43 253.91 L318.48 252.22 L318.55 249.91 L318.60 247.79 L318.66 244.94 L318.70 242.51 L318.73 240.97 L318.76 238.57 L318.78 237.26 L318.82 233.01 L318.85 230.55 L318.88 227.74 L318.89 225.87 L318.93 221.65 L318.95 217.93 L318.98 214.15 L318.99 211.25 L319.01 208.14 L319.02 205.01 L319.05 199.47 L319.07 193.80 L319.11 184.72 L319.13 179.65 L319.15 171.83 L319.17 165.76 L319.18 162.74 L319.18 159.21 L319.22 142.62 L319.23 140.70 L319.24 132.65 L319.25 128.40 L319.27 115.86 L319.28 108.45 L319.30 97.21 L319.32 82.03 L319.32 79.74 L319.34 66.11 L319.35 59.31 L319.36 51.34 L319.37 39.23 L319.38 36.33 L319.40 9.42 L319.42 -8.80 L319.42 -14.78 L319.43 -18.42 L319.45 -29.00 L319.46 -29.00 L319.47 -29.00 L319.48 -29.00 L319.50 -29.00 L319.52 -29.00 L319.52 -29.00 L319.52 -29.00 L319.53 -29.00 L319.55 -29.00 L319.57 -29.00 L319.58 -29.00 L319.59 -29.00 L319.62 -29.00 L319.63 -29.00 L319.65 -29.00 L319.67 -29.00 L319.68 -29.00 L319.69 -29.00 L319.71 -29.00 L319.72 -29.00 L319.73 -29.00 L319.75 -29.00 L319.75 -29.00 L319.77 -29.00 L319.77 -29.00 L319.77 -29.00 L319.81 -29.00 L319.82 -29.00 L319.83 -29.00 L319.85 -29.00 L319.87 -29.00 L319.87 -29.00 L319.88 -29.00 L319.88 -29.00 L319.92 -29.00 L319.93 -29.00 L319.94 -29.00 L319.95 -29.00 L319.98 -29.00 L319.98 -29.00 L320.00 -29.00 L320.02 -29.00 L320.02 -29.00 L320.04 -29.00 L320.05 -29.00 L320.06 -29.00 L320.07 -29.00 L320.07 -29.00 L320.10 -29.00 L320.12 -29.00 L320.12 -29.00 L320.12 -29.00 L320.15 -29.00 L320.16 -29.00 L320.17 -25.71 L320.18 -20.84 L320.22 24.27 L320.23 32.11 L320.23 40.58 L320.25 54.77 L320.27 72.59 L320.28 75.63 L320.29 87.23 L320.32 106.69 L320.33 113.72 L320.35 123.00 L320.37 133.46 L320.38 134.87 L320.39 142.49 L320.41 149.51 L320.43 155.61 L320.45 164.58 L320.47 169.57 L320.48 171.93 L320.50 178.74 L320.51 181.00 L320.53 185.01 L320.55 190.15 L320.57 194.90 L320.58 196.48 L320.62 202.41 L320.64 205.11 L320.65 206.12 L320.68 209.01 L320.68 209.95 L320.70 211.63 L320.73 213.73 L320.75 215.62 L320.77 217.24 L320.80 218.66 L320.82 219.73 L320.86 220.90 L320.88 221.34 L320.92 222.03 L320.95 222.22 L320.98 222.15 L321.00 221.92 L321.03 221.33 L321.05 220.91 L321.07 220.20 L321.11 218.91 L321.12 218.19 L321.15 216.88 L321.18 215.49 L321.21 213.24 L321.23 211.98 L321.25 210.05 L321.28 206.98 L321.33 202.63 L321.35 199.84 L321.38 196.69 L321.40 193.12 L321.43 189.56 L321.45 185.55 L321.48 181.22 L321.50 176.34 L321.52 171.49 L321.55 166.05 L321.56 163.98 L321.58 159.94 L321.62 149.29 L321.63 144.48 L321.65 139.73 L321.68 131.53 L321.69 126.16 L321.73 114.28 L321.73 110.83 L321.75 104.09 L321.77 93.99 L321.79 86.42 L321.81 78.47 L321.82 70.65 L321.85 57.18 L321.87 48.42 L321.88 43.89 L321.91 23.58 L321.93 12.74 L321.95 -3.35 L321.97 -15.31 L321.98 -21.11 L321.98 -27.75 L322.00 -29.00 L322.03 -29.00 L322.04 -29.00 L322.05 -29.00 L322.07 -29.00 L322.08 -29.00 L322.10 -29.00 L322.12 -29.00 L322.14 -29.00 L322.16 -29.00 L322.18 -29.00 L322.23 -29.00 L322.25 -29.00 L322.26 -29.00 L322.28 -29.00 L322.32 -29.00 L322.32 -29.00 L322.33 -29.00 L322.35 -29.00 L322.38 -29.00 L322.39 -29.00 L322.43 -29.00 L322.43 -29.00 L322.45 -29.00 L322.45 -29.00 L322.48 -29.00 L322.49 -29.00 L322.50 -29.00 L322.51 -29.00 L322.52 -29.00 L322.55 -29.00 L322.55 -29.00 L322.57 -29.00 L322.57 -29.00 L322.61 -29.00 L322.63 -29.00 L322.65 -29.00 L322.67 -29.00 L322.68 -29.00 L322.68 -29.00 L322.73 -29.00 L322.74 -29.00 L322.75 -29.00 L322.77 -29.00 L322.82 -29.00 L322.84 -29.00 L322.86 -29.00 L322.88 -29.00 L322.90 -29.00 L322.92 -29.00 L322.93 -29.00 L322.95 -29.00 L322.96 -29.00 L322.98 -29.00 L323.00 -29.00 L323.02 -21.17 L323.02 -15.17 L323.03 -8.54 L323.05 2.91 L323.08 20.63 L323.09 30.99 L323.12 51.12 L323.13 56.32 L323.15 65.83 L323.18 78.55 L323.19 87.09 L323.21 95.25 L323.23 102.60 L323.25 113.89 L323.27 120.45 L323.27 123.62 L323.31 136.37 L323.33 142.32 L323.35 150.25 L323.37 155.57 L323.38 160.65 L323.43 172.24 L323.44 176.32 L323.45 178.29 L323.48 184.20 L323.48 186.23 L323.50 189.94 L323.52 194.91 L323.55 199.76 L323.57 204.30 L323.60 208.73 L323.62 212.57 L323.65 216.32 L323.68 219.99 L323.72 225.31 L323.75 229.23 L323.78 232.11 L323.79 233.79 L323.83 237.93 L323.85 239.49 L323.89 243.02 L323.93 245.64 L323.98 249.26 L324.03 252.58 L324.08 255.95 L324.15 259.34 L324.20 261.68 L324.27 264.69 L324.36 267.65 L324.45 270.40 L324.55 273.02 L324.67 275.55 L324.78 277.71 L324.90 279.54 L325.08 281.83 L325.31 284.24 L325.60 286.56 L326.07 289.28 L326.88 292.49 L330.09 298.87 L336.13 303.37 L339.65 303.96 L341.05 303.25 L341.65 303.54 L345.10 305.25 L351.50 305.78 L358.00 305.98 L364.50 306.08 L371.00 306.12 L377.50 306.15 L384.00 306.16 L390.50 306.17 L397.00 306.17 L403.50 306.17 L410.00 306.16 L416.50 306.13 L420.87 305.56 L421.27 305.04 L421.51 304.40 L421.62 303.88 L421.74 303.12 L421.80 302.62 L421.86 302.01 L421.92 301.26 L422.00 299.95 L422.15 297.06 L422.21 296.08 L422.27 295.48 L422.32 295.44 L422.38 295.96 L422.44 296.91 L422.56 299.18 L422.62 300.24 L422.68 301.15 L422.73 301.90 L422.79 302.54 L422.85 303.06 L423.02 304.13 L423.20 304.75 L423.78 305.59 L426.50 306.09 L433.00 306.14 L439.50 306.15 L446.00 306.14 L452.50 306.14 L459.00 306.14 L465.50 306.13 L472.00 306.13 L478.50 306.12 L485.00 306.11 L491.50 306.11 L498.00 306.10 L504.50 306.10 L511.00 306.09 L517.50 306.09 L524.00 306.08 L530.50 306.07 L537.00 306.07 L543.50 306.06 L550.00 306.05 L556.50 306.05 L563.00 306.04 L569.50 306.03 L576.00 306.03 L582.50 306.02 L589.00 306.01 L595.50 306.00 L602.00 306.00 L608.50 305.99 L615.00 305.98 L621.50 305.97 L628.00 305.96 L634.50 305.95 L641.00 305.94 L647.50 305.93 L654.00 305.91 L660.50 305.90 L667.00 305.87 L673.50 305.83 L679.52 305.52 L681.53 304.38 L682.03 303.22 L682.28 302.11 L682.45 300.99 L682.58 299.77 L682.66 298.76 L682.75 297.53 L682.83 296.01 L682.87 295.21 L682.92 293.84 L682.95 293.11 L683.01 291.12 L683.03 290.43 L683.09 288.17 L683.12 287.08 L683.16 284.82 L683.20 282.88 L683.25 280.05 L683.29 277.22 L683.33 274.17 L683.37 271.18 L683.41 267.07 L683.47 261.49 L683.58 251.00 L683.62 247.61 L683.64 245.50 L683.66 243.81 L683.70 241.45 L683.74 239.79 L683.75 239.28 L683.78 238.49 L683.83 238.54 L683.84 238.79 L683.87 239.62 L683.92 242.12 L683.93 243.03 L683.95 244.38 L684.00 248.36 L684.03 251.51 L684.12 259.29 L684.16 263.57 L684.21 267.16 L684.25 270.40 L684.28 273.07 L684.33 276.06 L684.38 278.63 L684.41 280.58 L684.45 282.17 L684.50 284.02 L684.53 285.14 L684.58 286.39 L684.62 287.21 L684.66 288.03 L684.70 288.52 L684.76 289.02 L684.78 289.16 L684.85 289.23 L684.87 289.18 L684.95 288.56 L685.00 287.89 L685.03 287.26 L685.08 286.22 L685.12 285.02 L685.16 283.64 L685.20 282.22 L685.25 280.05 L685.29 277.59 L685.33 275.19 L685.37 272.54 L685.40 270.07 L685.41 268.70 L685.45 265.38 L685.48 262.87 L685.50 260.31 L685.53 256.31 L685.57 252.28 L685.58 250.50 L685.62 245.78 L685.70 234.61 L685.75 228.31 L685.76 226.69 L685.78 224.53 L685.83 220.41 L685.84 219.56 L685.86 218.70 L685.87 218.13 L685.91 216.74 L685.93 216.67 L685.95 216.83 L686.00 218.39 L686.03 219.77 L686.04 220.64 L686.08 223.52 L686.13 227.41 L686.16 229.87 L686.20 232.30 L686.22 233.66 L686.25 234.88 L686.28 236.30 L686.30 236.72 L686.32 237.00 L686.33 237.20 L686.37 237.21 L686.39 236.84 L686.41 236.27 L686.45 234.89 L686.49 233.11 L686.50 232.19 L686.53 229.81 L686.62 223.51 L686.67 220.06 L686.68 219.24 L686.70 218.28 L686.75 216.80 L686.76 216.66 L686.77 216.64 L686.78 216.72 L686.83 218.11 L686.85 219.23 L686.87 220.42 L686.91 224.69 L686.94 227.82 L686.96 229.51 L687.00 235.08 L687.08 246.19 L687.13 252.18 L687.16 257.08 L687.20 261.30 L687.23 264.66 L687.25 266.30 L687.28 269.84 L687.31 272.04 L687.33 273.76 L687.37 276.55 L687.40 278.79 L687.41 279.67 L687.45 281.77 L687.51 284.58 L687.53 285.81 L687.59 287.74 L687.62 288.85 L687.70 291.15 L687.78 292.89 L687.83 293.64 L687.87 294.22 L687.97 295.14 L688.06 295.69 L688.16 295.90 L688.25 295.75 L688.33 295.31 L688.42 294.47 L688.51 293.21 L688.59 291.70 L688.62 291.13 L688.66 289.90 L688.70 288.82 L688.75 287.21 L688.79 285.55 L688.83 283.72 L688.88 281.09 L688.91 279.17 L688.96 276.26 L689.00 273.36 L689.03 270.58 L689.07 268.02 L689.08 266.59 L689.12 263.12 L689.16 258.43 L689.25 249.65 L689.28 245.97 L689.33 241.60 L689.34 240.81 L689.37 238.55 L689.42 235.38 L689.43 234.73 L689.45 234.03 L689.50 233.29 L689.51 233.33 L689.52 233.50 L689.53 233.72 L689.58 235.48 L689.60 236.62 L689.62 237.76 L689.66 241.55 L689.71 245.56 L689.75 249.81 L689.83 258.65 L689.88 263.27 L689.91 267.04 L689.95 270.30 L689.98 272.93 L690.00 274.37 L690.03 277.00 L690.08 280.13 L690.12 282.39 L690.16 284.95 L690.20 286.70 L690.26 289.10 L690.28 290.16 L690.35 292.30 L690.41 294.14 L690.45 295.01 L690.50 296.07 L690.58 297.55 L690.66 298.79 L690.75 299.78 L690.91 301.28 L691.12 302.49 L691.45 303.68 L692.09 304.73 L696.03 305.68 L702.50 305.75 L709.00 305.73 L715.50 305.70 L722.00 305.65 L728.50 305.60 L735.00 305.53 L741.50 305.44 L748.00 305.33 L754.05 305.18 L760.10 304.98 L766.20 304.69 L772.35 304.25 L778.50 303.52 L784.60 302.25 L790.65 299.79 L795.15 296.19 L797.70 292.77 L799.20 289.94 L800.70 286.21 L801.60 283.37 L802.35 280.54 L803.10 277.16 L803.70 273.97 L804.15 271.22 L804.60 268.10 L805.10 264.11 L805.35 261.86 L805.65 258.92 L805.80 257.33 L806.00 255.07 L806.25 252.02 L806.55 247.96 L806.70 245.74 L806.85 243.39 L807.00 240.89 L807.15 238.23 L807.30 235.39 L807.50 231.29 L807.60 229.10 L807.75 225.62 L807.90 221.88 L808.05 217.86 L808.20 213.51 L808.35 208.82 L808.50 203.74 L808.60 200.11 L808.65 198.22 L808.80 192.21 L808.95 185.65 L809.00 183.33 L809.10 178.47 L809.25 170.59 L809.40 161.92 L809.50 155.64 L809.55 152.34 L809.60 148.92 L809.70 141.72 L809.85 129.91 L810.00 116.72 L810.10 107.06 L810.15 101.94 L810.30 85.30 L810.45 66.49 L810.50 59.67 L810.60 45.10 L810.75 20.68 L810.90 -7.36 L811.00 -28.42 L811.05 -29.00 L811.10 -29.00 L811.20 -29.00 L811.35 -29.00 L811.50 -29.00 L811.60 -29.00 L811.65 -29.00 L811.80 -29.00 L811.95 -29.00 L812.00 -29.00 L812.10 -29.00 L812.25 -29.00 L812.40 -29.00 L812.50 -29.00 L812.55 -29.00 L812.60 -29.00 L812.70 -29.00 L812.85 -29.00 L813.00 -29.00 L813.10 -29.00 L813.15 -29.00 L813.30 -29.00 L813.45 -29.00 L813.50 -29.00 L813.60 -29.00 L813.75 -29.00 L813.90 -29.00 L814.00 -29.00 L814.05 -29.00 L814.10 -29.00 L814.20 -29.00 L814.35 -29.00 L814.50 -29.00 L814.60 -29.00 L814.65 -29.00 L814.80 -29.00 L814.95 -29.00 L815.00 -29.00 L815.10 -29.00 L815.25 -29.00 L815.40 -29.00 L815.50 -29.00 L815.55 -29.00 L815.60 -29.00 L815.70 -29.00 L815.85 -29.00 L816.00 -29.00 L816.10 -29.00 L816.15 -29.00 L816.30 -7.37 L816.45 20.68 L816.50 29.19 L816.60 45.10 L816.75 66.48 L816.90 85.30 L817.00 96.61 L817.05 101.93 L817.10 107.05 L817.20 116.71 L817.35 129.90 L817.50 141.71 L817.60 148.91 L817.65 152.33 L817.80 161.91 L817.95 170.58 L818.00 173.29 L818.10 178.46 L818.25 185.64 L818.40 192.20 L818.50 196.26 L818.60 200.10 L818.70 203.73 L818.85 208.81 L819.00 213.50 L819.15 217.84 L819.30 221.87 L819.45 225.61 L819.60 229.09 L819.75 232.34 L819.90 235.37 L820.10 239.12 L820.20 240.87 L820.35 243.37 L820.50 245.72 L820.65 247.94 L820.80 250.03 L821.00 252.63 L821.25 255.63 L821.60 259.41 L821.85 261.84 L822.15 264.51 L822.50 267.33 L822.90 270.20 L823.35 273.07 L823.80 275.60 L824.25 277.86 L824.85 280.51 L825.60 283.34 L826.65 286.60 L827.85 289.58 L829.65 292.97 L832.65 296.77 L838.70 300.79 L841.83 301.55 L842.17 301.22 L842.43 300.52 L842.63 299.92 L842.70 299.88 L842.77 299.96 L843.17 301.35 L843.63 302.09 L849.75 303.57 L855.90 304.21 L862.00 304.59 L868.05 304.80 L874.09 304.74 L876.97 303.21 L877.33 302.14 L877.53 301.13 L877.66 300.15 L877.80 298.79 L877.87 297.89 L877.93 296.76 L878.00 295.37 L878.08 293.65 L878.13 291.98 L878.17 290.65 L878.22 288.80 L878.24 287.86 L878.26 286.49 L878.30 284.35 L878.33 282.62 L878.36 281.00 L878.37 280.00 L878.40 277.83 L878.42 275.45 L878.44 274.45 L878.46 271.75 L878.50 267.56 L878.53 264.24 L878.57 259.31 L878.60 255.40 L878.64 249.60 L878.71 238.86 L878.73 234.90 L878.77 229.53 L878.77 228.75 L878.80 226.09 L878.84 222.38 L878.85 221.74 L878.86 220.68 L878.90 219.85 L878.91 219.97 L878.93 220.41 L878.94 220.61 L878.97 222.64 L878.99 224.03 L879.01 226.22 L879.04 229.91 L879.06 233.82 L879.10 239.68 L879.17 249.80 L879.20 253.91 L879.22 256.58 L879.24 259.28 L879.26 262.96 L879.29 265.46 L879.30 267.37 L879.34 270.70 L879.36 272.71 L879.37 273.88 L879.40 276.87 L879.44 279.16 L879.48 281.70 L879.50 283.31 L879.54 285.43 L879.57 286.50 L879.62 288.31 L879.66 289.91 L879.71 291.07 L879.78 292.62 L879.85 293.78 L879.93 294.78 L880.00 295.32 L880.06 295.62 L880.13 295.77 L880.20 295.74 L880.27 295.54 L880.34 295.15 L880.41 294.55 L880.48 293.72 L880.55 292.61 L880.62 291.17 L880.66 289.92 L880.70 288.79 L880.74 287.71 L880.77 286.43 L880.80 284.88 L880.84 283.39 L880.88 281.25 L880.90 279.52 L880.93 277.60 L880.95 276.57 L880.97 274.67 L881.00 271.96 L881.01 270.54 L881.04 268.42 L881.06 265.34 L881.09 262.82 L881.11 260.13 L881.13 256.67 L881.15 253.10 L881.18 249.76 L881.20 246.24 L881.23 241.26 L881.25 237.34 L881.26 233.88 L881.33 220.58 L881.37 213.26 L881.39 210.18 L881.40 208.28 L881.44 202.30 L881.46 199.79 L881.46 198.91 L881.50 195.85 L881.50 195.54 L881.53 194.57 L881.53 194.42 L881.57 194.05 L881.58 194.12 L881.60 194.58 L881.64 196.03 L881.67 197.38 L881.70 198.93 L881.72 199.33 L881.74 199.88 L881.77 200.22 L881.78 200.12 L881.81 199.72 L881.84 198.62 L881.86 197.61 L881.88 196.25 L881.90 194.22 L881.97 188.79 L882.00 186.64 L882.02 185.78 L882.04 185.04 L882.07 184.75 L882.09 185.21 L882.10 186.02 L882.13 188.25 L882.13 188.65 L882.16 191.13 L882.17 192.95 L882.20 197.49 L882.21 198.93 L882.23 202.94 L882.24 204.96 L882.26 210.85 L882.33 225.51 L882.35 228.51 L882.37 233.53 L882.40 239.12 L882.41 242.53 L882.44 246.32 L882.46 251.05 L882.49 254.34 L882.51 257.42 L882.53 260.81 L882.55 263.81 L882.58 266.24 L882.60 268.49 L882.62 271.23 L882.65 273.12 L882.66 274.62 L882.70 277.56 L882.73 279.42 L882.77 281.66 L882.80 283.12 L882.84 284.92 L882.86 286.07 L882.90 287.54 L882.93 288.37 L882.98 289.60 L883.00 290.21 L883.07 291.57 L883.14 292.65 L883.21 293.44 L883.28 293.95 L883.37 294.26 L883.44 294.22 L883.50 293.97 L883.57 293.50 L883.64 292.76 L883.70 291.71 L883.77 290.31 L883.82 289.09 L883.86 287.51 L883.91 285.90 L883.93 284.81 L883.98 282.56 L884.00 281.20 L884.04 278.91 L884.06 276.91 L884.10 273.77 L884.13 271.23 L884.17 267.36 L884.20 264.19 L884.24 259.31 L884.26 255.46 L884.30 249.34 L884.33 245.22 L884.40 234.28 L884.44 227.94 L884.47 223.43 L884.50 219.01 L884.50 218.66 L884.53 215.85 L884.54 215.44 L884.57 213.45 L884.60 212.85 L884.61 212.88 L884.64 213.75 L884.66 215.59 L884.68 216.66 L884.70 219.61 L884.73 223.33 L884.75 225.54 L884.77 229.14 L884.80 233.77 L884.86 245.06 L884.89 248.65 L884.90 251.34 L884.93 255.58 L884.96 259.14 L884.97 260.90 L885.00 264.87 L885.03 267.92 L885.04 269.03 L885.06 271.96 L885.10 275.62 L885.13 277.97 L885.17 280.81 L885.20 282.68 L885.24 284.99 L885.26 286.48 L885.31 288.45 L885.33 289.50 L885.38 291.18 L885.40 291.89 L885.46 293.84 L885.53 295.43 L885.60 296.71 L885.66 297.79 L885.73 298.68 L885.87 300.07 L886.10 301.65 L886.60 303.26 L890.21 304.86 L896.26 304.80 L899.83 303.89 L900.32 303.12 L900.58 302.28 L900.74 301.46 L900.84 300.71 L901.00 299.24 L901.23 296.72 L901.27 296.41 L901.32 296.04 L901.38 295.86 L901.43 295.86 L901.50 296.16 L901.59 296.90 L901.86 299.74 L902.02 301.01 L902.18 301.89 L902.50 302.91 L908.21 301.99 L909.06 299.95 L909.35 298.31 L909.55 296.39 L909.64 295.09 L909.73 293.61 L909.78 292.31 L909.87 290.05 L909.91 288.51 L909.94 287.43 L909.96 286.24 L910.00 284.40 L910.02 283.35 L910.05 281.25 L910.08 279.59 L910.10 278.00 L910.12 275.93 L910.13 274.85 L910.16 272.75 L910.18 270.77 L910.19 268.75 L910.22 266.21 L910.23 264.40 L910.25 261.20 L910.27 258.04 L910.29 255.97 L910.31 251.90 L910.34 247.16 L910.35 245.44 L910.37 240.69 L910.40 233.64 L910.45 224.16 L910.46 221.51 L910.49 216.85 L910.50 214.17 L910.51 213.00 L910.52 210.98 L910.54 207.84 L910.55 207.30 L910.57 205.86 L910.58 205.02 L910.60 204.30 L910.62 204.59 L910.64 205.19 L910.66 206.68 L910.66 207.05 L910.68 209.56 L910.70 211.33 L910.71 213.46 L910.72 215.08 L910.74 218.73 L910.82 232.85 L910.84 237.29 L910.86 240.00 L910.87 242.11 L910.90 246.47 L910.93 250.33 L910.96 253.68 L910.98 255.60 L910.99 256.53 L911.01 258.51 L911.03 260.05 L911.04 260.83 L911.07 262.26 L911.09 262.86 L911.10 263.26 L911.14 263.90 L911.16 264.05 L911.19 263.83 L911.21 263.55 L911.22 263.22 L911.25 262.21 L911.26 261.47 L911.28 260.78 L911.31 258.90 L911.32 257.67 L911.34 256.56 L911.35 255.34 L911.37 253.60 L911.38 251.79 L911.40 249.16 L911.42 246.22 L911.44 243.77 L911.46 241.12 L911.48 236.42 L911.50 232.86 L911.51 230.56 L911.53 225.25 L911.56 218.58 L911.60 209.42 L911.66 194.32 L911.67 190.37 L911.69 187.32 L911.71 182.22 L911.72 179.82 L911.73 178.33 L911.75 176.45 L911.77 173.97 L911.78 173.50 L911.79 172.93 L911.80 172.84 L911.83 173.81 L911.83 174.19 L911.85 175.82 L911.86 177.56 L911.88 181.66 L911.89 182.85 L911.91 186.27 L911.92 189.29 L911.94 193.23 L911.95 196.58 L912.01 212.07 L912.02 216.29 L912.04 221.40 L912.07 227.02 L912.08 230.73 L912.10 233.84 L912.12 238.64 L912.14 242.70 L912.15 245.05 L912.18 249.08 L912.20 253.02 L912.21 254.15 L912.24 257.30 L912.26 259.90 L912.27 261.32 L912.30 264.18 L912.32 265.60 L912.33 266.67 L912.36 269.23 L912.39 270.68 L912.42 272.32 L912.45 273.65 L912.47 274.77 L912.50 275.69 L912.53 276.43 L912.56 277.00 L912.59 277.43 L912.63 277.73 L912.68 277.73 L912.72 277.41 L912.77 276.76 L912.79 276.12 L912.82 275.31 L912.85 274.32 L912.88 273.13 L912.91 271.73 L912.95 269.54 L912.97 268.12 L913.00 265.59 L913.03 263.38 L913.06 260.48 L913.07 258.71 L913.09 257.18 L913.11 254.11 L913.13 251.01 L913.14 249.04 L913.17 244.28 L913.19 241.43 L913.20 239.00 L913.22 236.46 L913.23 233.20 L913.25 229.79 L913.27 225.13 L913.29 220.05 L913.35 206.38 L913.37 202.74 L913.38 199.91 L913.40 195.07 L913.41 194.15 L913.42 191.43 L913.44 189.50 L913.46 186.76 L913.47 186.25 L913.48 185.22 L913.50 184.87 L913.50 184.82 L913.52 185.14 L913.52 185.36 L913.54 186.09 L913.54 186.41 L913.55 187.64 L913.58 190.75 L913.59 192.65 L913.60 194.21 L913.61 196.64 L913.63 201.55 L913.66 206.39 L913.72 219.54 L913.73 222.41 L913.76 228.56 L913.77 231.77 L913.79 234.27 L913.81 238.61 L913.83 242.27 L913.85 244.29 L913.86 245.92 L913.87 248.42 L913.89 250.48 L913.91 252.73 L913.93 255.20 L913.95 256.75 L913.96 258.10 L913.99 260.33 L914.02 262.29 L914.05 263.93 L914.08 265.27 L914.11 266.34 L914.14 267.16 L914.18 267.99 L914.23 268.27 L914.25 268.21 L914.28 267.92 L914.31 267.45 L914.34 266.72 L914.37 265.78 L914.40 264.60 L914.43 263.16 L914.46 261.45 L914.49 259.43 L914.52 257.01 L914.53 255.56 L914.55 253.91 L914.57 251.26 L914.59 249.42 L914.60 247.84 L914.63 244.07 L914.66 239.96 L914.69 235.45 L914.75 226.41 L914.76 224.00 L914.78 222.11 L914.80 218.88 L914.82 217.20 L914.82 216.43 L914.84 215.13 L914.86 213.25 L914.87 212.73 L914.88 212.19 L914.89 211.88 L914.92 211.95 L914.92 212.07 L914.94 212.68 L914.95 213.42 L914.98 215.33 L915.00 217.71 L915.01 219.00 L915.04 222.89 L915.14 236.24 L915.16 238.99 L915.19 242.88 L915.22 245.84 L915.25 248.69 L915.27 251.19 L915.30 253.36 L915.33 255.23 L915.35 256.19 L915.39 258.19 L915.41 258.82 L915.46 260.38 L915.51 261.49 L915.52 261.70 L915.57 262.15 L915.62 262.35 L915.68 262.16 L915.74 261.63 L915.82 260.54 L915.88 259.17 L915.94 257.88 L916.00 256.06 L916.05 254.51 L916.11 252.40 L916.16 250.07 L916.22 247.50 L916.28 244.61 L916.34 241.48 L916.40 238.03 L916.47 233.33 L916.52 229.37 L916.58 225.11 L916.63 220.18 L916.69 214.53 L916.74 209.62 L916.75 208.28 L916.79 203.19 L916.81 201.19 L916.85 195.65 L916.87 193.43 L916.91 187.23 L916.92 184.73 L916.95 180.50 L916.97 177.61 L916.98 174.80 L917.00 170.96 L917.02 166.96 L917.04 163.78 L917.06 160.50 L917.08 154.91 L917.10 151.31 L917.11 148.76 L917.13 142.48 L917.16 135.28 L917.19 126.76 L917.22 120.32 L917.25 109.02 L917.27 101.95 L917.32 86.27 L917.33 79.98 L917.37 62.16 L917.39 54.83 L917.43 35.56 L917.45 25.39 L917.48 5.15 L917.49 0.23 L917.50 -5.45 L917.51 -9.97 L917.54 -29.00 L917.55 -29.00 L917.57 -29.00 L917.59 -29.00 L917.61 -29.00 L917.62 -29.00 L917.64 -29.00 L917.67 -29.00 L917.68 -29.00 L917.70 -29.00 L917.72 -29.00 L917.74 -29.00 L917.75 -29.00 L917.78 -29.00 L917.80 -29.00 L917.80 -29.00 L917.84 -29.00 L917.86 -29.00 L917.86 -29.00 L917.90 -29.00 L917.91 -29.00 L917.91 -29.00 L917.96 -29.00 L917.96 -29.00 L917.97 -29.00 L918.00 -29.00 L918.02 -29.00 L918.03 -29.00 L918.07 -29.00 L918.07 -29.00 L918.09 -29.00 L918.12 -29.00 L918.13 -29.00 L918.15 -29.00 L918.18 -29.00 L918.19 -29.00 L918.21 -29.00 L918.23 -29.00 L918.25 -29.00 L918.26 -29.00 L918.28 -29.00 L918.31 -29.00 L918.32 -29.00 L918.34 -29.00 L918.37 -29.00 L918.38 -29.00 L918.39 -29.00 L918.42 -29.00 L918.44 -29.00 L918.44 -29.00 L918.48 -29.00 L918.50 -29.00 L918.50 -29.00 L918.54 -29.00 L918.55 -29.00 L918.56 -29.00 L918.60 -29.00 L918.60 -29.00 L918.66 -29.00 L918.66 -29.00 L918.71 -29.00 L918.72 -29.00 L918.76 -29.00 L918.77 -29.00 L918.82 -29.00 L918.83 -29.00 L918.87 -29.00 L918.89 -29.00 L918.92 -29.00 L918.95 -29.00 L918.98 -29.00 L919.00 -29.00 L919.01 -29.00 L919.03 -29.00 L919.08 -29.00 L919.14 -29.00 L919.19 -12.16 L919.24 20.85 L919.30 48.66 L919.35 72.71 L919.40 94.00 L919.46 112.25 L919.50 125.71 L919.51 128.29 L919.56 142.71 L919.62 155.25 L919.67 166.42 L919.72 176.59 L919.78 185.54 L919.83 193.60 L919.88 201.02 L919.94 207.61 L919.99 213.61 L920.00 214.79 L920.04 219.18 L920.10 224.17 L920.15 228.75 L920.20 233.03 L920.26 236.89 L920.31 240.46 L920.36 243.82 L920.42 246.87 L920.47 249.70 L920.52 252.38 L920.58 254.83 L920.63 257.11 L920.68 259.29 L920.74 261.28 L920.79 263.15 L920.84 264.94 L920.90 266.58 L920.95 268.13 L921.00 269.62 L921.11 272.29 L921.22 274.69 L921.32 276.85 L921.43 278.77 L921.54 280.52 L921.70 282.84 L921.86 284.84 L922.07 287.13 L922.34 289.50 L922.66 291.79 L923.14 294.40 L923.94 297.36 L926.55 301.76 L932.58 304.19 L934.60 303.75 L935.03 303.03 L935.25 302.27 L935.42 301.36 L935.58 300.05 L935.83 297.59 L935.94 296.93 L936.00 296.81 L936.04 296.87 L936.10 297.10 L936.17 297.63 L936.42 300.13 L936.52 301.04 L936.68 302.08 L936.95 303.16 L937.59 304.22 L941.00 305.07 L943.50 305.21"/></g>
<line x1="1.5" y1="656.0" x2="944.5" y2="656.0" stroke="#111" stroke-width="2"/>
<path d="M4.36 656.0V659.2 M35.88 656.0V659.2 M67.39 656.0V659.2 M98.90 656.0V662.0 M130.41 656.0V659.2 M161.93 656.0V659.2 M193.44 656.0V659.2 M224.95 656.0V662.0 M256.46 656.0V659.2 M287.98 656.0V659.2 M319.49 656.0V659.2 M351.00 656.0V662.0 M382.51 656.0V659.2 M414.02 656.0V659.2 M445.54 656.0V659.2 M477.05 656.0V662.0 M508.56 656.0V659.2 M540.08 656.0V659.2 M571.59 656.0V659.2 M603.10 656.0V662.0 M634.61 656.0V659.2 M666.12 656.0V659.2 M697.64 656.0V659.2 M729.15 656.0V662.0 M760.66 656.0V659.2 M792.17 656.0V659.2 M823.69 656.0V659.2 M855.20 656.0V662.0 M886.71 656.0V659.2 M918.22 656.0V659.2" stroke="#111" stroke-width="1.8" fill="none"/>
<g opacity="0.99">
<text x="855.5" y="685.9" font-family="Liberation Sans, sans-serif" font-size="17" text-anchor="middle" fill="#111" stroke="#111" stroke-width="0.25" opacity="0.99">3</text>
<text x="729.4" y="685.9" font-family="Liberation Sans, sans-serif" font-size="17" text-anchor="middle" fill="#111" stroke="#111" stroke-width="0.25" opacity="0.99">4</text>
<text x="603.4" y="685.9" font-family="Liberation Sans, sans-serif" font-size="17" text-anchor="middle" fill="#111" stroke="#111" stroke-width="0.25" opacity="0.99">5</text>
<text x="477.3" y="685.9" font-family="Liberation Sans, sans-serif" font-size="17" text-anchor="middle" fill="#111" stroke="#111" stroke-width="0.25" opacity="0.99">6</text>
<text x="351.3" y="685.9" font-family="Liberation Sans, sans-serif" font-size="17" text-anchor="middle" fill="#111" stroke="#111" stroke-width="0.25" opacity="0.99">7</text>
<text x="225.2" y="685.9" font-family="Liberation Sans, sans-serif" font-size="17" text-anchor="middle" fill="#111" stroke="#111" stroke-width="0.25" opacity="0.99">8</text>
<text x="99.2" y="685.9" font-family="Liberation Sans, sans-serif" font-size="17" text-anchor="middle" fill="#111" stroke="#111" stroke-width="0.25" opacity="0.99">9</text>
<text x="473.6" y="710.2" font-family="Liberation Sans, sans-serif" font-size="17" text-anchor="middle" fill="#111" stroke="#111" stroke-width="0.25" opacity="0.99">p.p.m.</text></g>
<filter id="gs" x="0" y="0" width="1" height="1"><feOffset dx="0" dy="0"/></filter><g filter="url(#gs)"><text transform="translate(-0.4,22.7) scale(0.93,1)" font-family="Liberation Sans, sans-serif" font-size="27" font-weight="bold" fill="#000" stroke="#000" stroke-width="0.15">a</text>
<text transform="translate(0.1,345.6) scale(0.95,1)" font-family="Liberation Sans, sans-serif" font-size="27" font-weight="bold" fill="#000" stroke="#000" stroke-width="0.15">b</text></g>
<circle cx="82.7" cy="142.2" r="8.5" fill="#7878f5" fill-opacity="1.0"/>
<circle cx="164.7" cy="65.1" r="8.5" fill="#00a85a" fill-opacity="0.56"/>
<circle cx="685.6" cy="202.8" r="8.5" fill="#f36b6b" fill-opacity="1.0"/>
<circle cx="110.6" cy="495.8" r="8.5" fill="#89c82e" fill-opacity="0.55"/>
<circle cx="122.4" cy="496.7" r="8.5" fill="#1ebc61" fill-opacity="0.6"/>
<circle cx="117.2" cy="487.5" r="8.5" fill="#5fb32a" fill-opacity="0.75"/>
<circle cx="219.2" cy="523.0" r="8.5" fill="#6969e1" fill-opacity="0.5"/>
<circle cx="228.6" cy="523.8" r="8.5" fill="#3f3fee" fill-opacity="0.6"/>
<circle cx="224.5" cy="513.4" r="8.5" fill="#3030d0" fill-opacity="0.75"/>
<circle cx="662.1" cy="529.9" r="8.5" fill="#ee6969" fill-opacity="0.6"/>
<circle cx="673.5" cy="530.2" r="8.5" fill="#e67a3f" fill-opacity="0.6"/>
<circle cx="668.4" cy="522.0" r="8.5" fill="#ee663e" fill-opacity="0.75"/>
<circle cx="553.3" cy="132.6" r="8.5" fill="#7878f5"/>
<circle cx="511.9" cy="157.1" r="8.5" fill="#f36b6b"/>
<circle cx="572.5" cy="113.0" r="8.5" fill="#6ecf9c"/>
<path d="M610.80 112.90L629.68 123.80M629.68 123.80L629.68 145.60M629.68 145.60L610.80 156.50M610.80 156.50L591.92 145.60M591.92 145.60L591.92 123.80M591.92 123.80L610.80 112.90M610.80 112.90L610.80 91.10M610.80 91.10L599.11 84.35M591.92 71.90L591.92 57.50M591.92 57.50L573.04 46.60M573.04 46.60L573.04 32.00M629.68 123.80L642.50 116.40M629.68 145.60L648.56 156.50M648.56 156.50L660.25 149.75M674.72 149.59L687.32 156.50M687.32 156.50L706.20 145.60M706.20 145.60L719.19 153.10M610.80 156.50L610.80 171.30M591.92 145.60L573.04 156.50M573.04 156.50L561.44 149.80M546.80 149.64L534.28 156.50M534.28 156.50L534.28 178.30M534.28 178.30L521.03 185.95M591.92 123.80L579.10 116.40M595.62 126.63L595.62 142.77M611.40 117.52L625.38 125.59M625.38 143.81L611.40 151.88M611.70 92.66L624.08 85.51M609.90 89.54L622.28 82.39M646.76 156.50L646.76 171.00M650.36 156.50L650.36 171.00M571.24 156.50L571.24 171.00M574.84 156.50L574.84 171.00" stroke="#262626" stroke-width="1.25" fill="none" stroke-linecap="butt"/>
<path d="M591.92 57.50L601.11 46.19L597.12 43.89Z" fill="#262626"/>
<path d="M687.32 156.50L692.08 169.36L696.07 167.06Z" fill="#262626"/>
<path d="M534.28 156.50L529.41 143.46L525.42 145.76Z" fill="#262626"/>
<path d="M596.32 58.00L596.32 57.00M601.62 58.80L601.62 56.20M606.72 59.80L606.72 55.20M684.65 159.92L685.69 160.52M681.94 163.21L684.19 164.51M679.24 166.50L682.70 168.50M530.08 156.00L530.08 157.00M524.98 155.30L524.98 157.70M519.88 154.30L519.88 158.70" stroke="#262626" stroke-width="1.3" fill="none"/>
<g font-family="Liberation Sans, sans-serif" font-size="15.9" fill="#111" stroke="#111" stroke-width="0.3" opacity="0.99">
<text transform="translate(567.69,30.80) scale(0.975,1)">ST<tspan dx="-1.1">r</tspan></text>
<text transform="translate(597.32,44.50) scale(0.975,1)">COOH</text>
<text transform="translate(608.06,63.90) scale(0.975,1)">H</text>
<text transform="translate(574.46,86.20) scale(0.975,1)">HN</text>
<text transform="translate(624.06,86.40) scale(0.975,1)">O</text>
<text transform="translate(643.16,119.20) scale(0.975,1)">H</text>
<text transform="translate(567.36,118.80) scale(0.975,1)">H</text>
<text transform="translate(482.16,144.00) scale(0.975,1)">HOOC</text>
<text transform="translate(547.86,138.80) scale(0.975,1)">H</text>
<text transform="translate(547.46,154.40) scale(0.975,1)">N</text>
<text transform="translate(505.26,161.70) scale(0.975,1)">H</text>
<text transform="translate(496.19,196.20) scale(0.975,1)">T<tspan dx="-1.1">r</tspan>S</text>
<text transform="translate(566.06,184.60) scale(0.975,1)">O</text>
<text transform="translate(604.96,185.00) scale(0.975,1)">H</text>
<text transform="translate(642.86,185.00) scale(0.975,1)">O</text>
<text transform="translate(662.16,136.00) scale(0.975,1)">H</text>
<text transform="translate(662.16,151.50) scale(0.975,1)">N</text>
<text transform="translate(720.19,163.20) scale(0.975,1)">ST<tspan dx="-1.1">r</tspan></text>
<text transform="translate(669.96,181.90) scale(0.975,1)">H</text>
<text transform="translate(692.72,182.80) scale(0.975,1)">COOH</text>
</g>
<circle cx="613.7" cy="360.9" r="8.5" fill="#f08c6e"/>
<circle cx="580.3" cy="383.1" r="8.5" fill="#6e6ed2"/>
<circle cx="572.5" cy="417.0" r="8.5" fill="#8cc85a"/>
<circle cx="648.9" cy="415.9" r="8.5" fill="#7dd7a5"/>
<circle cx="553.3" cy="436.6" r="8.5" fill="#b9b9f0"/>
<circle cx="511.9" cy="461.1" r="8.5" fill="#f0969b"/>
<circle cx="668.5" cy="435.9" r="8.5" fill="#9696f0"/>
<circle cx="676.1" cy="479.7" r="8.5" fill="#eb8c73"/>
<circle cx="610.1" cy="482.5" r="8.5" fill="#a5d773"/>
<path d="M610.80 416.90L629.68 427.80M629.68 427.80L629.68 449.60M629.68 449.60L610.80 460.50M610.80 460.50L591.92 449.60M591.92 449.60L591.92 427.80M591.92 427.80L610.80 416.90M610.80 416.90L610.80 395.10M610.80 395.10L599.11 388.35M591.92 375.90L591.92 361.50M591.92 361.50L573.04 350.60M573.04 350.60L573.04 336.00M629.68 427.80L642.50 420.40M629.68 449.60L648.56 460.50M648.56 460.50L660.25 453.75M674.72 453.59L687.32 460.50M687.32 460.50L706.20 449.60M706.20 449.60L719.19 457.10M610.80 460.50L610.80 475.30M591.92 449.60L573.04 460.50M573.04 460.50L561.44 453.80M546.80 453.64L534.28 460.50M534.28 460.50L534.28 482.30M534.28 482.30L521.03 489.95M591.92 427.80L579.10 420.40M595.62 430.63L595.62 446.77M611.40 421.52L625.38 429.59M625.38 447.81L611.40 455.88M611.70 396.66L624.08 389.51M609.90 393.54L622.28 386.39M646.76 460.50L646.76 475.00M650.36 460.50L650.36 475.00M571.24 460.50L571.24 475.00M574.84 460.50L574.84 475.00" stroke="#262626" stroke-width="1.25" fill="none" stroke-linecap="butt"/>
<path d="M591.92 361.50L601.11 350.19L597.12 347.89Z" fill="#262626"/>
<path d="M687.32 460.50L692.08 473.36L696.07 471.06Z" fill="#262626"/>
<path d="M534.28 460.50L529.41 447.46L525.42 449.76Z" fill="#262626"/>
<path d="M596.32 362.00L596.32 361.00M601.62 362.80L601.62 360.20M606.72 363.80L606.72 359.20M684.65 463.92L685.69 464.52M681.94 467.21L684.19 468.51M679.24 470.50L682.70 472.50M530.08 460.00L530.08 461.00M524.98 459.30L524.98 461.70M519.88 458.30L519.88 462.70" stroke="#262626" stroke-width="1.3" fill="none"/>
<g font-family="Liberation Sans, sans-serif" font-size="15.9" fill="#111" stroke="#111" stroke-width="0.3" opacity="0.99">
<text transform="translate(567.69,334.80) scale(0.975,1)">ST<tspan dx="-1.1">r</tspan></text>
<text transform="translate(597.32,348.50) scale(0.975,1)">COOH</text>
<text transform="translate(608.06,365.90) scale(0.975,1)">H</text>
<text transform="translate(574.46,388.70) scale(0.975,1)">HN</text>
<text transform="translate(624.06,390.40) scale(0.975,1)">O</text>
<text transform="translate(643.16,423.20) scale(0.975,1)">H</text>
<text transform="translate(567.36,422.80) scale(0.975,1)">H</text>
<text transform="translate(483.16,448.00) scale(0.975,1)">HOOC</text>
<text transform="translate(547.86,442.80) scale(0.975,1)">H</text>
<text transform="translate(547.46,458.40) scale(0.975,1)">N</text>
<text transform="translate(506.56,466.20) scale(0.975,1)">H</text>
<text transform="translate(496.19,500.20) scale(0.975,1)">T<tspan dx="-1.1">r</tspan>S</text>
<text transform="translate(566.06,488.60) scale(0.975,1)">O</text>
<text transform="translate(604.96,489.00) scale(0.975,1)">H</text>
<text transform="translate(642.86,489.00) scale(0.975,1)">O</text>
<text transform="translate(662.46,441.20) scale(0.975,1)">H</text>
<text transform="translate(662.46,456.70) scale(0.975,1)">N</text>
<text transform="translate(720.19,467.20) scale(0.975,1)">ST<tspan dx="-1.1">r</tspan></text>
<text transform="translate(669.96,484.70) scale(0.975,1)">H</text>
<text transform="translate(692.72,486.80) scale(0.975,1)">COOH</text>
</g><g stroke-linecap="round" fill="none">
<path d="M883.0 377.6L878.1 373.3" stroke="#4a4a4a" stroke-width="3.8"/>
<path d="M883.0 377.6L878.1 373.3" stroke="#969696" stroke-width="2.1"/>
<path d="M884.6 382.8L883.0 377.6" stroke="#4a4a4a" stroke-width="3.8"/>
<path d="M884.6 382.8L883.0 377.6" stroke="#969696" stroke-width="2.1"/>
<path d="M878.1 373.3L874.8 374.0" stroke="#4a4a4a" stroke-width="3.8"/>
<path d="M878.1 373.3L874.8 374.0" stroke="#989898" stroke-width="2.1"/>
<path d="M909.5 478.1L905.7 472.6" stroke="#4a4a4a" stroke-width="3.8"/>
<path d="M909.5 478.1L905.7 472.6" stroke="#9a9a9a" stroke-width="2.1"/>
<path d="M881.3 383.5L884.6 382.8" stroke="#4a4a4a" stroke-width="3.8"/>
<path d="M881.3 383.5L884.6 382.8" stroke="#9a9a9a" stroke-width="2.1"/>
<path d="M905.7 472.6L903.5 469.0" stroke="#4a4a4a" stroke-width="3.8"/>
<path d="M905.7 472.6L903.5 469.0" stroke="#9b9b9b" stroke-width="2.1"/>
<path d="M874.8 374.0L876.4 379.1" stroke="#4a4a4a" stroke-width="3.8"/>
<path d="M874.8 374.0L876.4 379.1" stroke="#9c9c9c" stroke-width="2.1"/>
<path d="M924.9 389.3L921.4 394.8" stroke="#4a4a4a" stroke-width="3.8"/>
<path d="M924.9 389.3L921.4 394.8" stroke="#9c9c9c" stroke-width="2.1"/>
<path d="M877.9 409.0L887.0 405.6" stroke="#4a4a4a" stroke-width="3.8"/>
<path d="M877.9 409.0L887.0 405.6" stroke="#9c9c9c" stroke-width="2.1"/>
<path d="M911.3 480.0L909.5 478.1" stroke="#4a4a4a" stroke-width="3.8"/>
<path d="M911.3 480.0L909.5 478.1" stroke="#9c9c9c" stroke-width="2.1"/>
<path d="M876.4 379.1L881.3 383.5" stroke="#4a4a4a" stroke-width="3.8"/>
<path d="M876.4 379.1L881.3 383.5" stroke="#9d9d9d" stroke-width="2.1"/>
<path d="M883.7 463.7L883.7 457.0" stroke="#4a4a4a" stroke-width="3.8"/>
<path d="M883.7 463.7L883.7 457.0" stroke="#9d9d9d" stroke-width="2.1"/>
<path d="M921.4 394.8L920.7 400.0" stroke="#4a4a4a" stroke-width="3.8"/>
<path d="M921.4 394.8L920.7 400.0" stroke="#9d9d9d" stroke-width="2.1"/>
<path d="M825.6 367.8L819.8 370.7" stroke="#4a4a4a" stroke-width="3.8"/>
<path d="M825.6 367.8L819.8 370.7" stroke="#9d9d9d" stroke-width="2.1"/>
<path d="M877.9 409.0L876.7 405.4" stroke="#4a4a4a" stroke-width="3.8"/>
<path d="M877.9 409.0L877.3 407.2" stroke="#9d9d9d" stroke-width="2.1"/>
<path d="M877.3 407.2L876.7 405.4" stroke="#e42828" stroke-width="2.1"/>
<path d="M866.5 371.7L861.4 367.3" stroke="#4a4a4a" stroke-width="3.8"/>
<path d="M866.5 371.7L861.4 367.3" stroke="#9e9e9e" stroke-width="2.1"/>
<path d="M830.8 367.5L825.6 367.8" stroke="#4a4a4a" stroke-width="3.8"/>
<path d="M830.8 367.5L825.6 367.8" stroke="#9e9e9e" stroke-width="2.1"/>
<path d="M883.7 457.0L880.4 452.8" stroke="#4a4a4a" stroke-width="3.8"/>
<path d="M883.7 457.0L880.4 452.8" stroke="#9e9e9e" stroke-width="2.1"/>
<path d="M809.2 375.6L812.1 381.2" stroke="#4a4a4a" stroke-width="3.8"/>
<path d="M809.2 375.6L812.1 381.2" stroke="#9e9e9e" stroke-width="2.1"/>
<path d="M812.1 381.2L817.2 384.1" stroke="#4a4a4a" stroke-width="3.8"/>
<path d="M812.1 381.2L817.2 384.1" stroke="#9e9e9e" stroke-width="2.1"/>
<path d="M898.4 470.3L904.0 467.1" stroke="#4a4a4a" stroke-width="3.8"/>
<path d="M898.4 470.3L904.0 467.1" stroke="#9f9f9f" stroke-width="2.1"/>
<path d="M906.2 379.5L904.7 373.0" stroke="#4a4a4a" stroke-width="3.8"/>
<path d="M906.2 379.5L904.7 373.0" stroke="#9f9f9f" stroke-width="2.1"/>
<path d="M927.6 388.9L924.9 389.3" stroke="#4a4a4a" stroke-width="3.8"/>
<path d="M927.6 388.9L924.9 389.3" stroke="#9f9f9f" stroke-width="2.1"/>
<path d="M880.3 466.1L883.7 463.7" stroke="#4a4a4a" stroke-width="3.8"/>
<path d="M880.3 466.1L883.7 463.7" stroke="#9f9f9f" stroke-width="2.1"/>
<path d="M904.0 467.1L906.7 462.3" stroke="#4a4a4a" stroke-width="3.8"/>
<path d="M904.0 467.1L906.7 462.3" stroke="#9f9f9f" stroke-width="2.1"/>
<path d="M873.1 379.9L876.4 379.1" stroke="#4a4a4a" stroke-width="3.8"/>
<path d="M873.1 379.9L876.4 379.1" stroke="#9f9f9f" stroke-width="2.1"/>
<path d="M903.5 469.0L905.2 470.9" stroke="#4a4a4a" stroke-width="3.8"/>
<path d="M903.5 469.0L905.2 470.9" stroke="#9f9f9f" stroke-width="2.1"/>
<path d="M903.2 384.4L906.2 379.5" stroke="#4a4a4a" stroke-width="3.8"/>
<path d="M903.2 384.4L906.2 379.5" stroke="#a0a0a0" stroke-width="2.1"/>
<path d="M868.0 375.5L866.5 371.7" stroke="#4a4a4a" stroke-width="3.8"/>
<path d="M868.0 375.5L866.5 371.7" stroke="#a0a0a0" stroke-width="2.1"/>
<path d="M915.6 442.0L908.9 441.6" stroke="#4a4a4a" stroke-width="3.8"/>
<path d="M915.6 442.0L908.9 441.6" stroke="#a0a0a0" stroke-width="2.1"/>
<path d="M861.4 367.3L857.7 366.7" stroke="#4a4a4a" stroke-width="3.8"/>
<path d="M861.4 367.3L857.7 366.7" stroke="#a0a0a0" stroke-width="2.1"/>
<path d="M925.3 413.2L929.3 418.4" stroke="#4a4a4a" stroke-width="3.8"/>
<path d="M925.3 413.2L929.3 418.4" stroke="#a0a0a0" stroke-width="2.1"/>
<path d="M819.8 370.7L819.3 373.4" stroke="#4a4a4a" stroke-width="3.8"/>
<path d="M819.8 370.7L819.3 373.4" stroke="#a0a0a0" stroke-width="2.1"/>
<path d="M919.2 447.0L915.6 442.0" stroke="#4a4a4a" stroke-width="3.8"/>
<path d="M919.2 447.0L915.6 442.0" stroke="#a0a0a0" stroke-width="2.1"/>
<path d="M909.1 476.4L911.3 480.0" stroke="#4a4a4a" stroke-width="3.8"/>
<path d="M909.1 476.4L911.3 480.0" stroke="#a0a0a0" stroke-width="2.1"/>
<path d="M929.3 418.4L934.6 420.1" stroke="#4a4a4a" stroke-width="3.8"/>
<path d="M929.3 418.4L934.6 420.1" stroke="#a1a1a1" stroke-width="2.1"/>
<path d="M876.3 417.0L877.9 409.0" stroke="#4a4a4a" stroke-width="3.8"/>
<path d="M876.3 417.0L877.9 409.0" stroke="#a1a1a1" stroke-width="2.1"/>
<path d="M920.7 400.0L923.4 399.6" stroke="#4a4a4a" stroke-width="3.8"/>
<path d="M920.7 400.0L923.4 399.6" stroke="#a1a1a1" stroke-width="2.1"/>
<path d="M850.3 358.5L843.8 356.4" stroke="#4a4a4a" stroke-width="3.8"/>
<path d="M850.3 358.5L843.8 356.4" stroke="#a1a1a1" stroke-width="2.1"/>
<path d="M904.7 373.0L900.4 371.3" stroke="#4a4a4a" stroke-width="3.8"/>
<path d="M904.7 373.0L900.4 371.3" stroke="#a1a1a1" stroke-width="2.1"/>
<path d="M811.4 372.9L809.2 375.6" stroke="#4a4a4a" stroke-width="3.8"/>
<path d="M811.4 372.9L809.2 375.6" stroke="#a1a1a1" stroke-width="2.1"/>
<path d="M861.8 403.0L865.0 398.4" stroke="#4a4a4a" stroke-width="3.8"/>
<path d="M861.8 403.0L863.4 400.7" stroke="#a1a1a1" stroke-width="2.1"/>
<path d="M863.4 400.7L865.0 398.4" stroke="#e42828" stroke-width="2.1"/>
<path d="M880.4 452.8L877.0 455.2" stroke="#4a4a4a" stroke-width="3.8"/>
<path d="M880.4 452.8L877.0 455.2" stroke="#a1a1a1" stroke-width="2.1"/>
<path d="M895.5 468.7L898.4 470.3" stroke="#4a4a4a" stroke-width="3.8"/>
<path d="M895.5 468.7L898.4 470.3" stroke="#a1a1a1" stroke-width="2.1"/>
<path d="M873.1 379.9L868.0 375.5" stroke="#4a4a4a" stroke-width="3.8"/>
<path d="M873.1 379.9L868.0 375.5" stroke="#a1a1a1" stroke-width="2.1"/>
<path d="M870.6 386.8L867.7 393.0" stroke="#4a4a4a" stroke-width="3.8"/>
<path d="M870.6 386.8L869.1 389.9" stroke="#eec840" stroke-width="2.1"/>
<path d="M869.1 389.9L867.7 393.0" stroke="#a1a1a1" stroke-width="2.1"/>
<path d="M908.9 441.6L905.9 446.2" stroke="#4a4a4a" stroke-width="3.8"/>
<path d="M908.9 441.6L905.9 446.2" stroke="#a1a1a1" stroke-width="2.1"/>
<path d="M830.3 370.1L830.8 367.5" stroke="#4a4a4a" stroke-width="3.8"/>
<path d="M830.3 370.1L830.8 367.5" stroke="#a2a2a2" stroke-width="2.1"/>
<path d="M817.2 384.1L819.4 381.5" stroke="#4a4a4a" stroke-width="3.8"/>
<path d="M817.2 384.1L819.4 381.5" stroke="#a2a2a2" stroke-width="2.1"/>
<path d="M873.1 379.9L870.6 386.8" stroke="#4a4a4a" stroke-width="3.8"/>
<path d="M873.1 379.9L871.9 383.3" stroke="#a2a2a2" stroke-width="2.1"/>
<path d="M871.9 383.3L870.6 386.8" stroke="#eec840" stroke-width="2.1"/>
<path d="M843.8 356.4L838.9 360.2" stroke="#4a4a4a" stroke-width="3.8"/>
<path d="M843.8 356.4L838.9 360.2" stroke="#a2a2a2" stroke-width="2.1"/>
<path d="M867.7 393.0L865.5 398.0" stroke="#4a4a4a" stroke-width="3.8"/>
<path d="M867.7 393.0L865.5 398.0" stroke="#a2a2a2" stroke-width="2.1"/>
<path d="M864.0 476.0L869.2 472.2" stroke="#4a4a4a" stroke-width="3.8"/>
<path d="M864.0 476.0L869.2 472.2" stroke="#a2a2a2" stroke-width="2.1"/>
<path d="M851.8 364.3L850.3 358.5" stroke="#4a4a4a" stroke-width="3.8"/>
<path d="M851.8 364.3L850.3 358.5" stroke="#a2a2a2" stroke-width="2.1"/>
<path d="M905.2 470.9L909.1 476.4" stroke="#4a4a4a" stroke-width="3.8"/>
<path d="M905.2 470.9L909.1 476.4" stroke="#a2a2a2" stroke-width="2.1"/>
<path d="M865.5 398.0L861.8 403.0" stroke="#4a4a4a" stroke-width="3.8"/>
<path d="M865.5 398.0L861.8 403.0" stroke="#a2a2a2" stroke-width="2.1"/>
<path d="M858.0 475.5L864.0 476.0" stroke="#4a4a4a" stroke-width="3.8"/>
<path d="M858.0 475.5L864.0 476.0" stroke="#a2a2a2" stroke-width="2.1"/>
<path d="M850.6 408.4L849.8 409.9" stroke="#4a4a4a" stroke-width="3.8"/>
<path d="M850.6 408.4L849.8 409.9" stroke="#a2a2a2" stroke-width="2.1"/>
<path d="M865.5 398.0L862.1 397.9" stroke="#4a4a4a" stroke-width="3.8"/>
<path d="M865.5 398.0L862.1 397.9" stroke="#a2a2a2" stroke-width="2.1"/>
<path d="M926.6 409.9L925.3 413.2" stroke="#4a4a4a" stroke-width="3.8"/>
<path d="M926.6 409.9L925.3 413.2" stroke="#a3a3a3" stroke-width="2.1"/>
<path d="M877.0 461.8L880.3 466.1" stroke="#4a4a4a" stroke-width="3.8"/>
<path d="M877.0 461.8L880.3 466.1" stroke="#a3a3a3" stroke-width="2.1"/>
<path d="M898.9 382.7L903.2 384.4" stroke="#4a4a4a" stroke-width="3.8"/>
<path d="M898.9 382.7L903.2 384.4" stroke="#a3a3a3" stroke-width="2.1"/>
<path d="M916.2 451.6L919.2 447.0" stroke="#4a4a4a" stroke-width="3.8"/>
<path d="M916.2 451.6L919.2 447.0" stroke="#a3a3a3" stroke-width="2.1"/>
<path d="M926.9 394.1L927.6 388.9" stroke="#4a4a4a" stroke-width="3.8"/>
<path d="M926.9 394.1L927.6 388.9" stroke="#a3a3a3" stroke-width="2.1"/>
<path d="M906.7 462.3L903.8 460.7" stroke="#4a4a4a" stroke-width="3.8"/>
<path d="M906.7 462.3L903.8 460.7" stroke="#a3a3a3" stroke-width="2.1"/>
<path d="M849.8 409.9L851.5 411.5" stroke="#4a4a4a" stroke-width="3.8"/>
<path d="M849.8 409.9L851.5 411.5" stroke="#a3a3a3" stroke-width="2.1"/>
<path d="M873.1 379.9L877.4 378.5" stroke="#4a4a4a" stroke-width="3.8"/>
<path d="M873.1 379.9L877.4 378.5" stroke="#a3a3a3" stroke-width="2.1"/>
<path d="M923.4 399.6L926.9 394.1" stroke="#4a4a4a" stroke-width="3.8"/>
<path d="M923.4 399.6L926.9 394.1" stroke="#a4a4a4" stroke-width="2.1"/>
<path d="M864.3 374.9L868.0 375.5" stroke="#4a4a4a" stroke-width="3.8"/>
<path d="M864.3 374.9L868.0 375.5" stroke="#a4a4a4" stroke-width="2.1"/>
<path d="M877.0 455.2L877.0 461.8" stroke="#4a4a4a" stroke-width="3.8"/>
<path d="M877.0 455.2L877.0 461.8" stroke="#a4a4a4" stroke-width="2.1"/>
<path d="M819.3 373.4L824.6 373.1" stroke="#4a4a4a" stroke-width="3.8"/>
<path d="M819.3 373.4L824.6 373.1" stroke="#a4a4a4" stroke-width="2.1"/>
<path d="M838.9 360.2L840.5 366.0" stroke="#4a4a4a" stroke-width="3.8"/>
<path d="M838.9 360.2L840.5 366.0" stroke="#a4a4a4" stroke-width="2.1"/>
<path d="M857.7 366.7L859.1 370.5" stroke="#4a4a4a" stroke-width="3.8"/>
<path d="M857.7 366.7L859.1 370.5" stroke="#a4a4a4" stroke-width="2.1"/>
<path d="M900.4 371.3L897.4 376.2" stroke="#4a4a4a" stroke-width="3.8"/>
<path d="M900.4 371.3L897.4 376.2" stroke="#a4a4a4" stroke-width="2.1"/>
<path d="M905.9 446.2L909.5 451.2" stroke="#4a4a4a" stroke-width="3.8"/>
<path d="M905.9 446.2L909.5 451.2" stroke="#a4a4a4" stroke-width="2.1"/>
<path d="M934.6 420.1L935.9 416.8" stroke="#4a4a4a" stroke-width="3.8"/>
<path d="M934.6 420.1L935.9 416.8" stroke="#a4a4a4" stroke-width="2.1"/>
<path d="M846.9 368.1L851.8 364.3" stroke="#4a4a4a" stroke-width="3.8"/>
<path d="M846.9 368.1L851.8 364.3" stroke="#a4a4a4" stroke-width="2.1"/>
<path d="M816.5 375.9L811.4 372.9" stroke="#4a4a4a" stroke-width="3.8"/>
<path d="M816.5 375.9L811.4 372.9" stroke="#a4a4a4" stroke-width="2.1"/>
<path d="M881.4 359.2L878.7 365.4" stroke="#4a4a4a" stroke-width="3.8"/>
<path d="M881.4 359.2L878.7 365.4" stroke="#a4a4a4" stroke-width="2.1"/>
<path d="M922.6 404.7L923.4 399.6" stroke="#4a4a4a" stroke-width="3.8"/>
<path d="M922.6 404.7L923.4 399.6" stroke="#a4a4a4" stroke-width="2.1"/>
<path d="M909.5 451.2L916.2 451.6" stroke="#4a4a4a" stroke-width="3.8"/>
<path d="M909.5 451.2L916.2 451.6" stroke="#a4a4a4" stroke-width="2.1"/>
<path d="M869.2 472.2L868.4 468.0" stroke="#4a4a4a" stroke-width="3.8"/>
<path d="M869.2 472.2L868.4 468.0" stroke="#a4a4a4" stroke-width="2.1"/>
<path d="M824.6 373.1L830.3 370.1" stroke="#4a4a4a" stroke-width="3.8"/>
<path d="M824.6 373.1L830.3 370.1" stroke="#a4a4a4" stroke-width="2.1"/>
<path d="M819.4 381.5L816.5 375.9" stroke="#4a4a4a" stroke-width="3.8"/>
<path d="M819.4 381.5L816.5 375.9" stroke="#a5a5a5" stroke-width="2.1"/>
<path d="M887.9 358.1L881.4 359.2" stroke="#4a4a4a" stroke-width="3.8"/>
<path d="M887.9 358.1L881.4 359.2" stroke="#a5a5a5" stroke-width="2.1"/>
<path d="M910.8 478.3L909.1 476.4" stroke="#4a4a4a" stroke-width="3.8"/>
<path d="M910.8 478.3L909.1 476.4" stroke="#a5a5a5" stroke-width="2.1"/>
<path d="M877.4 378.5L884.0 379.8" stroke="#4a4a4a" stroke-width="3.8"/>
<path d="M877.4 378.5L884.0 379.8" stroke="#a5a5a5" stroke-width="2.1"/>
<path d="M897.4 376.2L898.9 382.7" stroke="#4a4a4a" stroke-width="3.8"/>
<path d="M897.4 376.2L898.9 382.7" stroke="#a5a5a5" stroke-width="2.1"/>
<path d="M898.2 463.9L895.5 468.7" stroke="#4a4a4a" stroke-width="3.8"/>
<path d="M898.2 463.9L895.5 468.7" stroke="#a5a5a5" stroke-width="2.1"/>
<path d="M840.5 366.0L846.9 368.1" stroke="#4a4a4a" stroke-width="3.8"/>
<path d="M840.5 366.0L846.9 368.1" stroke="#a5a5a5" stroke-width="2.1"/>
<path d="M857.2 471.3L858.0 475.5" stroke="#4a4a4a" stroke-width="3.8"/>
<path d="M857.2 471.3L858.0 475.5" stroke="#a5a5a5" stroke-width="2.1"/>
<path d="M835.6 369.8L830.3 370.1" stroke="#4a4a4a" stroke-width="3.8"/>
<path d="M835.6 369.8L830.3 370.1" stroke="#a5a5a5" stroke-width="2.1"/>
<path d="M922.6 404.7L926.6 409.9" stroke="#4a4a4a" stroke-width="3.8"/>
<path d="M922.6 404.7L926.6 409.9" stroke="#a5a5a5" stroke-width="2.1"/>
<path d="M878.7 365.4L882.6 370.5" stroke="#4a4a4a" stroke-width="3.8"/>
<path d="M878.7 365.4L882.6 370.5" stroke="#a5a5a5" stroke-width="2.1"/>
<path d="M851.5 411.5L851.5 405.6" stroke="#4a4a4a" stroke-width="3.8"/>
<path d="M851.5 411.5L851.5 408.6" stroke="#a6a6a6" stroke-width="2.1"/>
<path d="M851.5 408.6L851.5 405.6" stroke="#e42828" stroke-width="2.1"/>
<path d="M903.8 460.7L898.2 463.9" stroke="#4a4a4a" stroke-width="3.8"/>
<path d="M903.8 460.7L898.2 463.9" stroke="#a6a6a6" stroke-width="2.1"/>
<path d="M859.1 370.5L864.3 374.9" stroke="#4a4a4a" stroke-width="3.8"/>
<path d="M859.1 370.5L864.3 374.9" stroke="#a6a6a6" stroke-width="2.1"/>
<path d="M824.5 357.4L820.4 362.7" stroke="#4a4a4a" stroke-width="3.8"/>
<path d="M824.5 357.4L820.4 362.7" stroke="#a6a6a6" stroke-width="2.1"/>
<path d="M835.6 369.8L840.5 366.0" stroke="#4a4a4a" stroke-width="3.8"/>
<path d="M835.6 369.8L840.5 366.0" stroke="#a6a6a6" stroke-width="2.1"/>
<path d="M891.8 363.2L887.9 358.1" stroke="#4a4a4a" stroke-width="3.8"/>
<path d="M891.8 363.2L887.9 358.1" stroke="#a6a6a6" stroke-width="2.1"/>
<path d="M873.6 464.2L877.0 461.8" stroke="#4a4a4a" stroke-width="3.8"/>
<path d="M873.6 464.2L877.0 461.8" stroke="#a6a6a6" stroke-width="2.1"/>
<path d="M830.9 357.5L824.5 357.4" stroke="#4a4a4a" stroke-width="3.8"/>
<path d="M830.9 357.5L824.5 357.4" stroke="#a6a6a6" stroke-width="2.1"/>
<path d="M931.9 411.6L926.6 409.9" stroke="#4a4a4a" stroke-width="3.8"/>
<path d="M931.9 411.6L926.6 409.9" stroke="#a6a6a6" stroke-width="2.1"/>
<path d="M922.6 404.7L915.5 406.9" stroke="#4a4a4a" stroke-width="3.8"/>
<path d="M922.6 404.7L919.1 405.8" stroke="#a6a6a6" stroke-width="2.1"/>
<path d="M919.1 405.8L915.5 406.9" stroke="#eec840" stroke-width="2.1"/>
<path d="M851.5 411.5L845.9 415.1" stroke="#4a4a4a" stroke-width="3.8"/>
<path d="M851.5 411.5L848.7 413.3" stroke="#a6a6a6" stroke-width="2.1"/>
<path d="M848.7 413.3L845.9 415.1" stroke="#e42828" stroke-width="2.1"/>
<path d="M926.9 470.3L920.3 471.5" stroke="#4a4a4a" stroke-width="3.8"/>
<path d="M926.9 470.3L920.3 471.5" stroke="#a6a6a6" stroke-width="2.1"/>
<path d="M906.5 455.8L909.5 451.2" stroke="#4a4a4a" stroke-width="3.8"/>
<path d="M906.5 455.8L909.5 451.2" stroke="#a6a6a6" stroke-width="2.1"/>
<path d="M906.5 455.8L903.8 460.7" stroke="#4a4a4a" stroke-width="3.8"/>
<path d="M906.5 455.8L903.8 460.7" stroke="#a6a6a6" stroke-width="2.1"/>
<path d="M884.0 379.8L888.3 378.5" stroke="#4a4a4a" stroke-width="3.8"/>
<path d="M884.0 379.8L888.3 378.5" stroke="#a6a6a6" stroke-width="2.1"/>
<path d="M851.3 407.3L850.6 408.4" stroke="#4a4a4a" stroke-width="3.8"/>
<path d="M851.3 407.3L850.6 408.4" stroke="#a6a6a6" stroke-width="2.1"/>
<path d="M851.3 407.3L852.4 407.5" stroke="#4a4a4a" stroke-width="3.8"/>
<path d="M851.3 407.3L851.8 407.4" stroke="#a7a7a7" stroke-width="2.1"/>
<path d="M851.8 407.4L852.4 407.5" stroke="#e42828" stroke-width="2.1"/>
<path d="M882.6 370.5L889.2 369.4" stroke="#4a4a4a" stroke-width="3.8"/>
<path d="M882.6 370.5L889.2 369.4" stroke="#a7a7a7" stroke-width="2.1"/>
<path d="M920.3 471.5L917.5 477.1" stroke="#4a4a4a" stroke-width="3.8"/>
<path d="M920.3 471.5L917.5 477.1" stroke="#a7a7a7" stroke-width="2.1"/>
<path d="M878.1 419.8L876.3 417.0" stroke="#4a4a4a" stroke-width="3.8"/>
<path d="M878.1 419.8L877.2 418.4" stroke="#8c8ce6" stroke-width="2.1"/>
<path d="M877.2 418.4L876.3 417.0" stroke="#a7a7a7" stroke-width="2.1"/>
<path d="M935.9 416.8L931.9 411.6" stroke="#4a4a4a" stroke-width="3.8"/>
<path d="M935.9 416.8L931.9 411.6" stroke="#a7a7a7" stroke-width="2.1"/>
<path d="M843.7 436.0L851.3 442.0" stroke="#4a4a4a" stroke-width="3.8"/>
<path d="M843.7 436.0L847.5 439.0" stroke="#a7a7a7" stroke-width="2.1"/>
<path d="M847.5 439.0L851.3 442.0" stroke="#e42828" stroke-width="2.1"/>
<path d="M889.2 369.4L891.8 363.2" stroke="#4a4a4a" stroke-width="3.8"/>
<path d="M889.2 369.4L891.8 363.2" stroke="#a7a7a7" stroke-width="2.1"/>
<path d="M893.1 374.5L897.4 376.2" stroke="#4a4a4a" stroke-width="3.8"/>
<path d="M893.1 374.5L897.4 376.2" stroke="#a7a7a7" stroke-width="2.1"/>
<path d="M875.0 375.8L877.4 378.5" stroke="#4a4a4a" stroke-width="3.8"/>
<path d="M875.0 375.8L877.4 378.5" stroke="#a7a7a7" stroke-width="2.1"/>
<path d="M873.6 464.2L868.4 468.0" stroke="#4a4a4a" stroke-width="3.8"/>
<path d="M873.6 464.2L868.4 468.0" stroke="#a7a7a7" stroke-width="2.1"/>
<path d="M910.8 478.3L909.7 484.9" stroke="#4a4a4a" stroke-width="3.8"/>
<path d="M910.8 478.3L909.7 484.9" stroke="#a7a7a7" stroke-width="2.1"/>
<path d="M914.7 489.4L909.7 484.9" stroke="#4a4a4a" stroke-width="3.8"/>
<path d="M914.7 489.4L909.7 484.9" stroke="#a7a7a7" stroke-width="2.1"/>
<path d="M913.5 496.0L914.7 489.4" stroke="#4a4a4a" stroke-width="3.8"/>
<path d="M913.5 496.0L914.7 489.4" stroke="#a7a7a7" stroke-width="2.1"/>
<path d="M910.8 478.3L917.5 477.1" stroke="#4a4a4a" stroke-width="3.8"/>
<path d="M910.8 478.3L917.5 477.1" stroke="#a7a7a7" stroke-width="2.1"/>
<path d="M835.6 369.8L838.2 376.7" stroke="#4a4a4a" stroke-width="3.8"/>
<path d="M835.6 369.8L836.9 373.2" stroke="#a7a7a7" stroke-width="2.1"/>
<path d="M836.9 373.2L838.2 376.7" stroke="#eec840" stroke-width="2.1"/>
<path d="M820.4 362.7L822.8 368.0" stroke="#4a4a4a" stroke-width="3.8"/>
<path d="M820.4 362.7L822.8 368.0" stroke="#a7a7a7" stroke-width="2.1"/>
<path d="M868.4 468.0L862.4 467.5" stroke="#4a4a4a" stroke-width="3.8"/>
<path d="M868.4 468.0L862.4 467.5" stroke="#a7a7a7" stroke-width="2.1"/>
<path d="M818.7 373.3L816.5 375.9" stroke="#4a4a4a" stroke-width="3.8"/>
<path d="M818.7 373.3L816.5 375.9" stroke="#a7a7a7" stroke-width="2.1"/>
<path d="M915.5 406.9L911.4 413.7" stroke="#4a4a4a" stroke-width="3.8"/>
<path d="M915.5 406.9L913.4 410.3" stroke="#eec840" stroke-width="2.1"/>
<path d="M913.4 410.3L911.4 413.7" stroke="#a7a7a7" stroke-width="2.1"/>
<path d="M930.7 474.8L926.9 470.3" stroke="#4a4a4a" stroke-width="3.8"/>
<path d="M930.7 474.8L926.9 470.3" stroke="#a8a8a8" stroke-width="2.1"/>
<path d="M862.4 467.5L857.2 471.3" stroke="#4a4a4a" stroke-width="3.8"/>
<path d="M862.4 467.5L857.2 471.3" stroke="#a8a8a8" stroke-width="2.1"/>
<path d="M909.7 484.9L903.4 487.1" stroke="#4a4a4a" stroke-width="3.8"/>
<path d="M909.7 484.9L903.4 487.1" stroke="#a8a8a8" stroke-width="2.1"/>
<path d="M907.3 498.2L913.5 496.0" stroke="#4a4a4a" stroke-width="3.8"/>
<path d="M907.3 498.2L913.5 496.0" stroke="#a8a8a8" stroke-width="2.1"/>
<path d="M893.1 374.5L889.2 369.4" stroke="#4a4a4a" stroke-width="3.8"/>
<path d="M893.1 374.5L889.2 369.4" stroke="#a8a8a8" stroke-width="2.1"/>
<path d="M833.3 362.8L830.9 357.5" stroke="#4a4a4a" stroke-width="3.8"/>
<path d="M833.3 362.8L830.9 357.5" stroke="#a8a8a8" stroke-width="2.1"/>
<path d="M904.0 424.4L906.7 430.6" stroke="#4a4a4a" stroke-width="3.8"/>
<path d="M904.0 424.4L906.7 430.6" stroke="#a8a8a8" stroke-width="2.1"/>
<path d="M922.6 404.7L924.5 402.7" stroke="#4a4a4a" stroke-width="3.8"/>
<path d="M922.6 404.7L924.5 402.7" stroke="#a8a8a8" stroke-width="2.1"/>
<path d="M838.2 376.7L842.4 383.5" stroke="#4a4a4a" stroke-width="3.8"/>
<path d="M838.2 376.7L840.3 380.1" stroke="#eec840" stroke-width="2.1"/>
<path d="M840.3 380.1L842.4 383.5" stroke="#a8a8a8" stroke-width="2.1"/>
<path d="M903.4 487.1L902.2 493.8" stroke="#4a4a4a" stroke-width="3.8"/>
<path d="M903.4 487.1L902.2 493.8" stroke="#a9a9a9" stroke-width="2.1"/>
<path d="M910.8 478.3L906.9 474.5" stroke="#4a4a4a" stroke-width="3.8"/>
<path d="M910.8 478.3L908.9 476.4" stroke="#a9a9a9" stroke-width="2.1"/>
<path d="M908.9 476.4L906.9 474.5" stroke="#eec840" stroke-width="2.1"/>
<path d="M902.2 493.8L907.3 498.2" stroke="#4a4a4a" stroke-width="3.8"/>
<path d="M902.2 493.8L907.3 498.2" stroke="#a9a9a9" stroke-width="2.1"/>
<path d="M917.5 477.1L921.3 481.7" stroke="#4a4a4a" stroke-width="3.8"/>
<path d="M917.5 477.1L921.3 481.7" stroke="#a9a9a9" stroke-width="2.1"/>
<path d="M835.6 369.8L833.6 366.9" stroke="#4a4a4a" stroke-width="3.8"/>
<path d="M835.6 369.8L833.6 366.9" stroke="#a9a9a9" stroke-width="2.1"/>
<path d="M906.5 455.8L901.1 452.6" stroke="#4a4a4a" stroke-width="3.8"/>
<path d="M906.5 455.8L903.8 454.2" stroke="#a9a9a9" stroke-width="2.1"/>
<path d="M903.8 454.2L901.1 452.6" stroke="#eec840" stroke-width="2.1"/>
<path d="M906.5 455.8L911.1 458.6" stroke="#4a4a4a" stroke-width="3.8"/>
<path d="M906.5 455.8L911.1 458.6" stroke="#a9a9a9" stroke-width="2.1"/>
<path d="M818.7 373.3L822.8 368.0" stroke="#4a4a4a" stroke-width="3.8"/>
<path d="M818.7 373.3L822.8 368.0" stroke="#a9a9a9" stroke-width="2.1"/>
<path d="M859.3 464.6L853.8 462.1" stroke="#4a4a4a" stroke-width="3.8"/>
<path d="M859.3 464.6L856.6 463.4" stroke="#a9a9a9" stroke-width="2.1"/>
<path d="M856.6 463.4L853.8 462.1" stroke="#e42828" stroke-width="2.1"/>
<path d="M911.4 413.7L904.4 417.3" stroke="#4a4a4a" stroke-width="3.8"/>
<path d="M911.4 413.7L904.4 417.3" stroke="#a9a9a9" stroke-width="2.1"/>
<path d="M873.6 464.2L877.8 468.1" stroke="#4a4a4a" stroke-width="3.8"/>
<path d="M873.6 464.2L877.8 468.1" stroke="#a9a9a9" stroke-width="2.1"/>
<path d="M904.4 417.3L904.9 424.6" stroke="#4a4a4a" stroke-width="3.8"/>
<path d="M904.4 417.3L904.9 424.6" stroke="#a9a9a9" stroke-width="2.1"/>
<path d="M893.1 374.5L888.8 380.4" stroke="#4a4a4a" stroke-width="3.8"/>
<path d="M893.1 374.5L890.9 377.5" stroke="#a9a9a9" stroke-width="2.1"/>
<path d="M890.9 377.5L888.8 380.4" stroke="#eec840" stroke-width="2.1"/>
<path d="M873.6 464.2L871.1 458.5" stroke="#4a4a4a" stroke-width="3.8"/>
<path d="M873.6 464.2L872.3 461.4" stroke="#a9a9a9" stroke-width="2.1"/>
<path d="M872.3 461.4L871.1 458.5" stroke="#eec840" stroke-width="2.1"/>
<path d="M842.4 383.5L848.0 388.4" stroke="#4a4a4a" stroke-width="3.8"/>
<path d="M842.4 383.5L848.0 388.4" stroke="#a9a9a9" stroke-width="2.1"/>
<path d="M904.4 417.3L898.5 421.2" stroke="#4a4a4a" stroke-width="3.8"/>
<path d="M904.4 417.3L898.5 421.2" stroke="#a9a9a9" stroke-width="2.1"/>
<path d="M822.8 368.0L829.2 368.1" stroke="#4a4a4a" stroke-width="3.8"/>
<path d="M822.8 368.0L829.2 368.1" stroke="#a9a9a9" stroke-width="2.1"/>
<path d="M927.9 480.5L930.7 474.8" stroke="#4a4a4a" stroke-width="3.8"/>
<path d="M927.9 480.5L930.7 474.8" stroke="#aaaaaa" stroke-width="2.1"/>
<path d="M829.2 368.1L833.3 362.8" stroke="#4a4a4a" stroke-width="3.8"/>
<path d="M829.2 368.1L833.3 362.8" stroke="#aaaaaa" stroke-width="2.1"/>
<path d="M843.7 436.0L847.2 438.0" stroke="#4a4a4a" stroke-width="3.8"/>
<path d="M843.7 436.0L845.4 437.0" stroke="#aaaaaa" stroke-width="2.1"/>
<path d="M845.4 437.0L847.2 438.0" stroke="#e42828" stroke-width="2.1"/>
<path d="M848.0 388.4L845.5 395.5" stroke="#4a4a4a" stroke-width="3.8"/>
<path d="M848.0 388.4L846.7 392.0" stroke="#aaaaaa" stroke-width="2.1"/>
<path d="M846.7 392.0L845.5 395.5" stroke="#8c8ce6" stroke-width="2.1"/>
<path d="M859.1 431.2L858.0 430.6" stroke="#4a4a4a" stroke-width="3.8"/>
<path d="M859.1 431.2L858.0 430.6" stroke="#aaaaaa" stroke-width="2.1"/>
<path d="M906.7 430.6L909.5 433.1" stroke="#4a4a4a" stroke-width="3.8"/>
<path d="M906.7 430.6L909.5 433.1" stroke="#aaaaaa" stroke-width="2.1"/>
<path d="M904.2 420.6L904.0 424.4" stroke="#4a4a4a" stroke-width="3.8"/>
<path d="M904.2 420.6L904.0 424.4" stroke="#aaaaaa" stroke-width="2.1"/>
<path d="M832.6 424.8L833.0 426.6" stroke="#4a4a4a" stroke-width="3.8"/>
<path d="M832.6 424.8L832.8 425.7" stroke="#aaaaaa" stroke-width="2.1"/>
<path d="M832.8 425.7L833.0 426.6" stroke="#e42828" stroke-width="2.1"/>
<path d="M850.7 406.1L851.3 407.3" stroke="#4a4a4a" stroke-width="3.8"/>
<path d="M850.7 406.1L851.3 407.3" stroke="#aaaaaa" stroke-width="2.1"/>
<path d="M888.3 378.5L885.9 375.8" stroke="#4a4a4a" stroke-width="3.8"/>
<path d="M888.3 378.5L885.9 375.8" stroke="#aaaaaa" stroke-width="2.1"/>
<path d="M921.3 481.7L927.9 480.5" stroke="#4a4a4a" stroke-width="3.8"/>
<path d="M921.3 481.7L927.9 480.5" stroke="#aaaaaa" stroke-width="2.1"/>
<path d="M917.6 457.1L911.1 458.6" stroke="#4a4a4a" stroke-width="3.8"/>
<path d="M917.6 457.1L911.1 458.6" stroke="#aaaaaa" stroke-width="2.1"/>
<path d="M888.8 380.4L886.6 386.9" stroke="#4a4a4a" stroke-width="3.8"/>
<path d="M888.8 380.4L887.7 383.6" stroke="#eec840" stroke-width="2.1"/>
<path d="M887.7 383.6L886.6 386.9" stroke="#aaaaaa" stroke-width="2.1"/>
<path d="M876.3 423.5L878.1 419.8" stroke="#4a4a4a" stroke-width="3.8"/>
<path d="M876.3 423.5L877.2 421.7" stroke="#aaaaaa" stroke-width="2.1"/>
<path d="M877.2 421.7L878.1 419.8" stroke="#8c8ce6" stroke-width="2.1"/>
<path d="M876.3 423.5L872.6 422.8" stroke="#4a4a4a" stroke-width="3.8"/>
<path d="M876.3 423.5L874.5 423.2" stroke="#aaaaaa" stroke-width="2.1"/>
<path d="M874.5 423.2L872.6 422.8" stroke="#e42828" stroke-width="2.1"/>
<path d="M845.8 428.8L843.7 436.0" stroke="#4a4a4a" stroke-width="3.8"/>
<path d="M845.8 428.8L843.7 436.0" stroke="#ababab" stroke-width="2.1"/>
<path d="M898.5 421.2L895.8 422.4" stroke="#4a4a4a" stroke-width="3.8"/>
<path d="M898.5 421.2L897.2 421.8" stroke="#ababab" stroke-width="2.1"/>
<path d="M897.2 421.8L895.8 422.4" stroke="#e42828" stroke-width="2.1"/>
<path d="M848.0 388.4L849.3 395.2" stroke="#4a4a4a" stroke-width="3.8"/>
<path d="M848.0 388.4L849.3 395.2" stroke="#ababab" stroke-width="2.1"/>
<path d="M893.1 374.5L896.5 372.5" stroke="#4a4a4a" stroke-width="3.8"/>
<path d="M893.1 374.5L896.5 372.5" stroke="#ababab" stroke-width="2.1"/>
<path d="M792.5 437.0L791.4 432.9" stroke="#4a4a4a" stroke-width="3.8"/>
<path d="M792.5 437.0L791.4 432.9" stroke="#ababab" stroke-width="2.1"/>
<path d="M818.7 373.3L813.4 371.1" stroke="#4a4a4a" stroke-width="3.8"/>
<path d="M818.7 373.3L813.4 371.1" stroke="#ababab" stroke-width="2.1"/>
<path d="M828.9 362.0L833.6 366.9" stroke="#4a4a4a" stroke-width="3.8"/>
<path d="M828.9 362.0L833.6 366.9" stroke="#ababab" stroke-width="2.1"/>
<path d="M798.4 433.7L792.5 437.0" stroke="#4a4a4a" stroke-width="3.8"/>
<path d="M798.4 433.7L795.4 435.3" stroke="#8c8ce6" stroke-width="2.1"/>
<path d="M795.4 435.3L792.5 437.0" stroke="#ababab" stroke-width="2.1"/>
<path d="M860.0 472.8L859.3 464.6" stroke="#4a4a4a" stroke-width="3.8"/>
<path d="M860.0 472.8L859.3 464.6" stroke="#ababab" stroke-width="2.1"/>
<path d="M877.8 468.1L876.2 474.6" stroke="#4a4a4a" stroke-width="3.8"/>
<path d="M877.8 468.1L876.2 474.6" stroke="#ababab" stroke-width="2.1"/>
<path d="M879.3 374.5L875.0 375.8" stroke="#4a4a4a" stroke-width="3.8"/>
<path d="M879.3 374.5L875.0 375.8" stroke="#ababab" stroke-width="2.1"/>
<path d="M818.7 373.3L822.5 378.4" stroke="#4a4a4a" stroke-width="3.8"/>
<path d="M818.7 373.3L820.6 375.9" stroke="#ababab" stroke-width="2.1"/>
<path d="M820.6 375.9L822.5 378.4" stroke="#eec840" stroke-width="2.1"/>
<path d="M931.0 402.7L924.5 402.7" stroke="#4a4a4a" stroke-width="3.8"/>
<path d="M931.0 402.7L924.5 402.7" stroke="#ababab" stroke-width="2.1"/>
<path d="M886.6 386.9L880.8 393.7" stroke="#4a4a4a" stroke-width="3.8"/>
<path d="M886.6 386.9L880.8 393.7" stroke="#ababab" stroke-width="2.1"/>
<path d="M859.1 431.2L864.1 437.1" stroke="#4a4a4a" stroke-width="3.8"/>
<path d="M859.1 431.2L861.6 434.2" stroke="#ababab" stroke-width="2.1"/>
<path d="M861.6 434.2L864.1 437.1" stroke="#e42828" stroke-width="2.1"/>
<path d="M880.8 393.7L875.3 389.9" stroke="#4a4a4a" stroke-width="3.8"/>
<path d="M880.8 393.7L878.0 391.8" stroke="#ababab" stroke-width="2.1"/>
<path d="M878.0 391.8L875.3 389.9" stroke="#8c8ce6" stroke-width="2.1"/>
<path d="M901.1 452.6L895.2 452.7" stroke="#4a4a4a" stroke-width="3.8"/>
<path d="M901.1 452.6L898.1 452.6" stroke="#eec840" stroke-width="2.1"/>
<path d="M898.1 452.6L895.2 452.7" stroke="#ababab" stroke-width="2.1"/>
<path d="M883.5 465.5L877.8 468.1" stroke="#4a4a4a" stroke-width="3.8"/>
<path d="M883.5 465.5L877.8 468.1" stroke="#ababab" stroke-width="2.1"/>
<path d="M922.2 459.9L917.6 457.1" stroke="#4a4a4a" stroke-width="3.8"/>
<path d="M922.2 459.9L917.6 457.1" stroke="#ababab" stroke-width="2.1"/>
<path d="M906.9 474.5L904.0 469.3" stroke="#4a4a4a" stroke-width="3.8"/>
<path d="M906.9 474.5L905.5 471.9" stroke="#eec840" stroke-width="2.1"/>
<path d="M905.5 471.9L904.0 469.3" stroke="#ababab" stroke-width="2.1"/>
<path d="M924.5 402.7L919.8 400.5" stroke="#4a4a4a" stroke-width="3.8"/>
<path d="M924.5 402.7L919.8 400.5" stroke="#acacac" stroke-width="2.1"/>
<path d="M912.9 404.7L911.0 398.2" stroke="#4a4a4a" stroke-width="3.8"/>
<path d="M912.9 404.7L911.0 398.2" stroke="#acacac" stroke-width="2.1"/>
<path d="M874.5 390.6L867.8 390.3" stroke="#4a4a4a" stroke-width="3.8"/>
<path d="M874.5 390.6L867.8 390.3" stroke="#acacac" stroke-width="2.1"/>
<path d="M880.8 393.7L879.0 397.9" stroke="#4a4a4a" stroke-width="3.8"/>
<path d="M880.8 393.7L879.0 397.9" stroke="#acacac" stroke-width="2.1"/>
<path d="M860.0 472.8L855.5 471.7" stroke="#4a4a4a" stroke-width="3.8"/>
<path d="M860.0 472.8L855.5 471.7" stroke="#acacac" stroke-width="2.1"/>
<path d="M911.1 458.6L909.1 462.9" stroke="#4a4a4a" stroke-width="3.8"/>
<path d="M911.1 458.6L909.1 462.9" stroke="#acacac" stroke-width="2.1"/>
<path d="M791.4 432.9L790.1 430.5" stroke="#4a4a4a" stroke-width="3.8"/>
<path d="M791.4 432.9L790.1 430.5" stroke="#acacac" stroke-width="2.1"/>
<path d="M849.3 395.2L854.9 388.8" stroke="#4a4a4a" stroke-width="3.8"/>
<path d="M849.3 395.2L852.1 392.0" stroke="#acacac" stroke-width="2.1"/>
<path d="M852.1 392.0L854.9 388.8" stroke="#e42828" stroke-width="2.1"/>
<path d="M863.1 500.6L864.8 506.7" stroke="#4a4a4a" stroke-width="3.8"/>
<path d="M863.1 500.6L864.8 506.7" stroke="#acacac" stroke-width="2.1"/>
<path d="M885.9 375.8L879.3 374.5" stroke="#4a4a4a" stroke-width="3.8"/>
<path d="M885.9 375.8L879.3 374.5" stroke="#acacac" stroke-width="2.1"/>
<path d="M850.7 406.1L851.6 398.9" stroke="#4a4a4a" stroke-width="3.8"/>
<path d="M850.7 406.1L851.6 398.9" stroke="#adadad" stroke-width="2.1"/>
<path d="M876.2 474.6L880.3 478.4" stroke="#4a4a4a" stroke-width="3.8"/>
<path d="M876.2 474.6L880.3 478.4" stroke="#adadad" stroke-width="2.1"/>
<path d="M808.5 375.4L813.4 371.1" stroke="#4a4a4a" stroke-width="3.8"/>
<path d="M808.5 375.4L813.4 371.1" stroke="#adadad" stroke-width="2.1"/>
<path d="M898.3 366.0L896.5 372.5" stroke="#4a4a4a" stroke-width="3.8"/>
<path d="M898.3 366.0L896.5 372.5" stroke="#adadad" stroke-width="2.1"/>
<path d="M813.4 371.1L813.0 364.6" stroke="#4a4a4a" stroke-width="3.8"/>
<path d="M813.4 371.1L813.0 364.6" stroke="#adadad" stroke-width="2.1"/>
<path d="M826.9 359.1L828.9 362.0" stroke="#4a4a4a" stroke-width="3.8"/>
<path d="M826.9 359.1L828.9 362.0" stroke="#adadad" stroke-width="2.1"/>
<path d="M871.1 458.5L869.9 451.2" stroke="#4a4a4a" stroke-width="3.8"/>
<path d="M871.1 458.5L870.5 454.8" stroke="#eec840" stroke-width="2.1"/>
<path d="M870.5 454.8L869.9 451.2" stroke="#adadad" stroke-width="2.1"/>
<path d="M895.2 452.7L890.2 448.7" stroke="#4a4a4a" stroke-width="3.8"/>
<path d="M895.2 452.7L890.2 448.7" stroke="#adadad" stroke-width="2.1"/>
<path d="M862.8 495.2L863.1 500.6" stroke="#4a4a4a" stroke-width="3.8"/>
<path d="M862.8 495.2L863.1 500.6" stroke="#adadad" stroke-width="2.1"/>
<path d="M833.6 366.9L836.4 368.8" stroke="#4a4a4a" stroke-width="3.8"/>
<path d="M833.6 366.9L836.4 368.8" stroke="#adadad" stroke-width="2.1"/>
<path d="M824.1 425.2L832.6 424.8" stroke="#4a4a4a" stroke-width="3.8"/>
<path d="M824.1 425.2L832.6 424.8" stroke="#adadad" stroke-width="2.1"/>
<path d="M895.5 385.5L896.4 386.7" stroke="#4a4a4a" stroke-width="3.8"/>
<path d="M895.5 385.5L896.0 386.1" stroke="#adadad" stroke-width="2.1"/>
<path d="M896.0 386.1L896.4 386.7" stroke="#e42828" stroke-width="2.1"/>
<path d="M822.5 378.4L825.2 383.0" stroke="#4a4a4a" stroke-width="3.8"/>
<path d="M822.5 378.4L823.8 380.7" stroke="#eec840" stroke-width="2.1"/>
<path d="M823.8 380.7L825.2 383.0" stroke="#adadad" stroke-width="2.1"/>
<path d="M804.1 436.3L798.4 433.7" stroke="#4a4a4a" stroke-width="3.8"/>
<path d="M804.1 436.3L801.3 435.0" stroke="#adadad" stroke-width="2.1"/>
<path d="M801.3 435.0L798.4 433.7" stroke="#8c8ce6" stroke-width="2.1"/>
<path d="M910.1 409.4L912.9 404.7" stroke="#4a4a4a" stroke-width="3.8"/>
<path d="M910.1 409.4L912.9 404.7" stroke="#adadad" stroke-width="2.1"/>
<path d="M804.1 436.3L803.4 441.9" stroke="#4a4a4a" stroke-width="3.8"/>
<path d="M804.1 436.3L803.8 439.1" stroke="#adadad" stroke-width="2.1"/>
<path d="M803.8 439.1L803.4 441.9" stroke="#e42828" stroke-width="2.1"/>
<path d="M895.5 385.5L895.4 386.3" stroke="#4a4a4a" stroke-width="3.8"/>
<path d="M895.5 385.5L895.4 386.3" stroke="#adadad" stroke-width="2.1"/>
<path d="M878.1 427.2L876.3 423.5" stroke="#4a4a4a" stroke-width="3.8"/>
<path d="M878.1 427.2L876.3 423.5" stroke="#adadad" stroke-width="2.1"/>
<path d="M887.7 469.3L883.5 465.5" stroke="#4a4a4a" stroke-width="3.8"/>
<path d="M887.7 469.3L883.5 465.5" stroke="#adadad" stroke-width="2.1"/>
<path d="M851.1 386.7L844.2 385.2" stroke="#4a4a4a" stroke-width="3.8"/>
<path d="M851.1 386.7L847.6 386.0" stroke="#aeaeae" stroke-width="2.1"/>
<path d="M847.6 386.0L844.2 385.2" stroke="#e42828" stroke-width="2.1"/>
<path d="M878.1 387.5L874.5 390.6" stroke="#4a4a4a" stroke-width="3.8"/>
<path d="M878.1 387.5L874.5 390.6" stroke="#aeaeae" stroke-width="2.1"/>
<path d="M843.0 476.4L838.2 481.2" stroke="#4a4a4a" stroke-width="3.8"/>
<path d="M843.0 476.4L838.2 481.2" stroke="#aeaeae" stroke-width="2.1"/>
<path d="M911.0 398.2L906.3 396.4" stroke="#4a4a4a" stroke-width="3.8"/>
<path d="M911.0 398.2L906.3 396.4" stroke="#aeaeae" stroke-width="2.1"/>
<path d="M932.8 400.7L931.0 402.7" stroke="#4a4a4a" stroke-width="3.8"/>
<path d="M932.8 400.7L931.0 402.7" stroke="#aeaeae" stroke-width="2.1"/>
<path d="M867.8 390.3L864.8 386.8" stroke="#4a4a4a" stroke-width="3.8"/>
<path d="M867.8 390.3L864.8 386.8" stroke="#aeaeae" stroke-width="2.1"/>
<path d="M855.4 430.6L859.1 431.2" stroke="#4a4a4a" stroke-width="3.8"/>
<path d="M855.4 430.6L859.1 431.2" stroke="#aeaeae" stroke-width="2.1"/>
<path d="M897.9 384.1L895.5 385.5" stroke="#4a4a4a" stroke-width="3.8"/>
<path d="M897.9 384.1L895.5 385.5" stroke="#aeaeae" stroke-width="2.1"/>
<path d="M840.7 425.5L845.8 428.8" stroke="#4a4a4a" stroke-width="3.8"/>
<path d="M840.7 425.5L843.3 427.1" stroke="#8c8ce6" stroke-width="2.1"/>
<path d="M843.3 427.1L845.8 428.8" stroke="#aeaeae" stroke-width="2.1"/>
<path d="M890.2 448.7L893.0 448.0" stroke="#4a4a4a" stroke-width="3.8"/>
<path d="M890.2 448.7L891.6 448.3" stroke="#aeaeae" stroke-width="2.1"/>
<path d="M891.6 448.3L893.0 448.0" stroke="#8c8ce6" stroke-width="2.1"/>
<path d="M909.5 433.1L909.7 429.4" stroke="#4a4a4a" stroke-width="3.8"/>
<path d="M909.5 433.1L909.7 429.4" stroke="#aeaeae" stroke-width="2.1"/>
<path d="M907.0 423.1L904.2 420.6" stroke="#4a4a4a" stroke-width="3.8"/>
<path d="M907.0 423.1L904.2 420.6" stroke="#aeaeae" stroke-width="2.1"/>
<path d="M896.5 372.5L898.2 377.0" stroke="#4a4a4a" stroke-width="3.8"/>
<path d="M896.5 372.5L898.2 377.0" stroke="#aeaeae" stroke-width="2.1"/>
<path d="M820.3 430.8L818.7 429.6" stroke="#4a4a4a" stroke-width="3.8"/>
<path d="M820.3 430.8L819.5 430.2" stroke="#aeaeae" stroke-width="2.1"/>
<path d="M819.5 430.2L818.7 429.6" stroke="#e42828" stroke-width="2.1"/>
<path d="M791.4 432.9L788.3 435.3" stroke="#4a4a4a" stroke-width="3.8"/>
<path d="M791.4 432.9L789.8 434.1" stroke="#aeaeae" stroke-width="2.1"/>
<path d="M789.8 434.1L788.3 435.3" stroke="#e42828" stroke-width="2.1"/>
<path d="M860.2 479.9L860.0 472.8" stroke="#4a4a4a" stroke-width="3.8"/>
<path d="M860.2 479.9L860.0 472.8" stroke="#aeaeae" stroke-width="2.1"/>
<path d="M797.8 433.9L794.7 439.8" stroke="#4a4a4a" stroke-width="3.8"/>
<path d="M797.8 433.9L794.7 439.8" stroke="#aeaeae" stroke-width="2.1"/>
<path d="M809.6 433.2L804.1 436.3" stroke="#4a4a4a" stroke-width="3.8"/>
<path d="M809.6 433.2L804.1 436.3" stroke="#afafaf" stroke-width="2.1"/>
<path d="M803.2 373.3L808.5 375.4" stroke="#4a4a4a" stroke-width="3.8"/>
<path d="M803.2 373.3L808.5 375.4" stroke="#afafaf" stroke-width="2.1"/>
<path d="M920.3 464.2L922.2 459.9" stroke="#4a4a4a" stroke-width="3.8"/>
<path d="M920.3 464.2L922.2 459.9" stroke="#afafaf" stroke-width="2.1"/>
<path d="M890.2 388.2L897.9 384.1" stroke="#4a4a4a" stroke-width="3.8"/>
<path d="M890.2 388.2L894.1 386.2" stroke="#8c8ce6" stroke-width="2.1"/>
<path d="M894.1 386.2L897.9 384.1" stroke="#afafaf" stroke-width="2.1"/>
<path d="M850.0 409.7L850.7 406.1" stroke="#4a4a4a" stroke-width="3.8"/>
<path d="M850.0 409.7L850.7 406.1" stroke="#afafaf" stroke-width="2.1"/>
<path d="M824.1 425.2L834.7 434.7" stroke="#4a4a4a" stroke-width="3.8"/>
<path d="M824.1 425.2L834.7 434.7" stroke="#afafaf" stroke-width="2.1"/>
<path d="M904.5 453.3L904.5 459.6" stroke="#4a4a4a" stroke-width="3.8"/>
<path d="M904.5 453.3L904.5 456.4" stroke="#afafaf" stroke-width="2.1"/>
<path d="M904.5 456.4L904.5 459.6" stroke="#e42828" stroke-width="2.1"/>
<path d="M794.1 412.5L791.8 418.9" stroke="#4a4a4a" stroke-width="3.8"/>
<path d="M794.1 412.5L791.8 418.9" stroke="#afafaf" stroke-width="2.1"/>
<path d="M900.1 453.7L905.4 447.7" stroke="#4a4a4a" stroke-width="3.8"/>
<path d="M900.1 453.7L905.4 447.7" stroke="#afafaf" stroke-width="2.1"/>
<path d="M813.0 364.6L807.7 362.4" stroke="#4a4a4a" stroke-width="3.8"/>
<path d="M813.0 364.6L807.7 362.4" stroke="#afafaf" stroke-width="2.1"/>
<path d="M851.6 398.9L851.8 395.4" stroke="#4a4a4a" stroke-width="3.8"/>
<path d="M851.6 398.9L851.8 395.4" stroke="#afafaf" stroke-width="2.1"/>
<path d="M880.3 478.4L886.1 475.8" stroke="#4a4a4a" stroke-width="3.8"/>
<path d="M880.3 478.4L886.1 475.8" stroke="#afafaf" stroke-width="2.1"/>
<path d="M847.0 383.4L851.1 386.7" stroke="#4a4a4a" stroke-width="3.8"/>
<path d="M847.0 383.4L851.1 386.7" stroke="#afafaf" stroke-width="2.1"/>
<path d="M901.8 364.0L898.3 366.0" stroke="#4a4a4a" stroke-width="3.8"/>
<path d="M901.8 364.0L898.3 366.0" stroke="#afafaf" stroke-width="2.1"/>
<path d="M851.1 386.7L853.7 395.9" stroke="#4a4a4a" stroke-width="3.8"/>
<path d="M851.1 386.7L852.4 391.3" stroke="#afafaf" stroke-width="2.1"/>
<path d="M852.4 391.3L853.7 395.9" stroke="#e42828" stroke-width="2.1"/>
<path d="M905.4 447.7L904.5 453.3" stroke="#4a4a4a" stroke-width="3.8"/>
<path d="M905.4 447.7L904.5 453.3" stroke="#afafaf" stroke-width="2.1"/>
<path d="M809.6 433.2L811.9 427.0" stroke="#4a4a4a" stroke-width="3.8"/>
<path d="M809.6 433.2L811.9 427.0" stroke="#afafaf" stroke-width="2.1"/>
<path d="M904.0 469.3L900.4 463.0" stroke="#4a4a4a" stroke-width="3.8"/>
<path d="M904.0 469.3L900.4 463.0" stroke="#afafaf" stroke-width="2.1"/>
<path d="M818.6 426.5L824.1 425.2" stroke="#4a4a4a" stroke-width="3.8"/>
<path d="M818.6 426.5L824.1 425.2" stroke="#afafaf" stroke-width="2.1"/>
<path d="M794.7 439.8L796.8 445.5" stroke="#4a4a4a" stroke-width="3.8"/>
<path d="M794.7 439.8L796.8 445.5" stroke="#afafaf" stroke-width="2.1"/>
<path d="M847.2 475.0L843.0 476.4" stroke="#4a4a4a" stroke-width="3.8"/>
<path d="M847.2 475.0L843.0 476.4" stroke="#afafaf" stroke-width="2.1"/>
<path d="M893.5 452.3L900.1 453.7" stroke="#4a4a4a" stroke-width="3.8"/>
<path d="M893.5 452.3L900.1 453.7" stroke="#afafaf" stroke-width="2.1"/>
<path d="M893.5 452.3L893.1 446.2" stroke="#4a4a4a" stroke-width="3.8"/>
<path d="M893.5 452.3L893.3 449.2" stroke="#afafaf" stroke-width="2.1"/>
<path d="M893.3 449.2L893.1 446.2" stroke="#e42828" stroke-width="2.1"/>
<path d="M884.3 384.8L890.2 388.2" stroke="#4a4a4a" stroke-width="3.8"/>
<path d="M884.3 384.8L887.3 386.5" stroke="#afafaf" stroke-width="2.1"/>
<path d="M887.3 386.5L890.2 388.2" stroke="#8c8ce6" stroke-width="2.1"/>
<path d="M884.3 384.8L885.8 378.9" stroke="#4a4a4a" stroke-width="3.8"/>
<path d="M884.3 384.8L885.1 381.9" stroke="#afafaf" stroke-width="2.1"/>
<path d="M885.1 381.9L885.8 378.9" stroke="#e42828" stroke-width="2.1"/>
<path d="M886.1 475.8L887.7 469.3" stroke="#4a4a4a" stroke-width="3.8"/>
<path d="M886.1 475.8L887.7 469.3" stroke="#afafaf" stroke-width="2.1"/>
<path d="M878.1 387.5L884.3 384.8" stroke="#4a4a4a" stroke-width="3.8"/>
<path d="M878.1 387.5L884.3 384.8" stroke="#afafaf" stroke-width="2.1"/>
<path d="M811.9 427.0L818.0 425.3" stroke="#4a4a4a" stroke-width="3.8"/>
<path d="M811.9 427.0L818.0 425.3" stroke="#afafaf" stroke-width="2.1"/>
<path d="M913.2 411.2L914.1 404.7" stroke="#4a4a4a" stroke-width="3.8"/>
<path d="M913.2 411.2L914.1 404.7" stroke="#afafaf" stroke-width="2.1"/>
<path d="M888.4 456.6L884.0 451.7" stroke="#4a4a4a" stroke-width="3.8"/>
<path d="M888.4 456.6L884.0 451.7" stroke="#afafaf" stroke-width="2.1"/>
<path d="M791.8 418.9L795.8 424.0" stroke="#4a4a4a" stroke-width="3.8"/>
<path d="M791.8 418.9L795.8 424.0" stroke="#afafaf" stroke-width="2.1"/>
<path d="M890.2 448.7L883.3 445.4" stroke="#4a4a4a" stroke-width="3.8"/>
<path d="M890.2 448.7L883.3 445.4" stroke="#afafaf" stroke-width="2.1"/>
<path d="M884.0 451.7L877.5 452.6" stroke="#4a4a4a" stroke-width="3.8"/>
<path d="M884.0 451.7L877.5 452.6" stroke="#afafaf" stroke-width="2.1"/>
<path d="M825.2 383.0L827.9 385.0" stroke="#4a4a4a" stroke-width="3.8"/>
<path d="M825.2 383.0L827.9 385.0" stroke="#afafaf" stroke-width="2.1"/>
<path d="M909.1 462.9L913.7 465.7" stroke="#4a4a4a" stroke-width="3.8"/>
<path d="M909.1 462.9L913.7 465.7" stroke="#afafaf" stroke-width="2.1"/>
<path d="M869.9 451.2L864.9 444.4" stroke="#4a4a4a" stroke-width="3.8"/>
<path d="M869.9 451.2L864.9 444.4" stroke="#afafaf" stroke-width="2.1"/>
<path d="M888.4 456.6L893.5 452.3" stroke="#4a4a4a" stroke-width="3.8"/>
<path d="M888.4 456.6L893.5 452.3" stroke="#afafaf" stroke-width="2.1"/>
<path d="M914.1 404.7L910.0 399.9" stroke="#4a4a4a" stroke-width="3.8"/>
<path d="M914.1 404.7L910.0 399.9" stroke="#b0b0b0" stroke-width="2.1"/>
<path d="M800.3 411.2L794.1 412.5" stroke="#4a4a4a" stroke-width="3.8"/>
<path d="M800.3 411.2L794.1 412.5" stroke="#b0b0b0" stroke-width="2.1"/>
<path d="M864.8 506.7L866.0 507.4" stroke="#4a4a4a" stroke-width="3.8"/>
<path d="M864.8 506.7L866.0 507.4" stroke="#b0b0b0" stroke-width="2.1"/>
<path d="M919.8 400.5L921.6 398.4" stroke="#4a4a4a" stroke-width="3.8"/>
<path d="M919.8 400.5L921.6 398.4" stroke="#b0b0b0" stroke-width="2.1"/>
<path d="M852.9 384.5L847.0 383.4" stroke="#4a4a4a" stroke-width="3.8"/>
<path d="M852.9 384.5L850.0 384.0" stroke="#8c8ce6" stroke-width="2.1"/>
<path d="M850.0 384.0L847.0 383.4" stroke="#b0b0b0" stroke-width="2.1"/>
<path d="M859.7 450.1L856.6 452.0" stroke="#4a4a4a" stroke-width="3.8"/>
<path d="M859.7 450.1L856.6 452.0" stroke="#b0b0b0" stroke-width="2.1"/>
<path d="M864.8 386.8L858.3 388.6" stroke="#4a4a4a" stroke-width="3.8"/>
<path d="M864.8 386.8L858.3 388.6" stroke="#b0b0b0" stroke-width="2.1"/>
<path d="M864.9 444.4L860.3 451.0" stroke="#4a4a4a" stroke-width="3.8"/>
<path d="M864.9 444.4L862.6 447.7" stroke="#b0b0b0" stroke-width="2.1"/>
<path d="M862.6 447.7L860.3 451.0" stroke="#8c8ce6" stroke-width="2.1"/>
<path d="M909.7 429.4L907.0 423.1" stroke="#4a4a4a" stroke-width="3.8"/>
<path d="M909.7 429.4L907.0 423.1" stroke="#b0b0b0" stroke-width="2.1"/>
<path d="M838.2 481.2L837.7 484.4" stroke="#4a4a4a" stroke-width="3.8"/>
<path d="M838.2 481.2L837.7 484.4" stroke="#b0b0b0" stroke-width="2.1"/>
<path d="M812.6 427.5L818.6 426.5" stroke="#4a4a4a" stroke-width="3.8"/>
<path d="M812.6 427.5L815.6 427.0" stroke="#eec840" stroke-width="2.1"/>
<path d="M815.6 427.0L818.6 426.5" stroke="#b0b0b0" stroke-width="2.1"/>
<path d="M858.3 388.6L856.1 394.3" stroke="#4a4a4a" stroke-width="3.8"/>
<path d="M858.3 388.6L857.2 391.5" stroke="#b0b0b0" stroke-width="2.1"/>
<path d="M857.2 391.5L856.1 394.3" stroke="#e42828" stroke-width="2.1"/>
<path d="M873.2 432.0L878.1 427.2" stroke="#4a4a4a" stroke-width="3.8"/>
<path d="M873.2 432.0L878.1 427.2" stroke="#b0b0b0" stroke-width="2.1"/>
<path d="M858.3 388.6L852.9 384.5" stroke="#4a4a4a" stroke-width="3.8"/>
<path d="M858.3 388.6L855.6 386.6" stroke="#b0b0b0" stroke-width="2.1"/>
<path d="M855.6 386.6L852.9 384.5" stroke="#8c8ce6" stroke-width="2.1"/>
<path d="M905.4 407.6L910.1 409.4" stroke="#4a4a4a" stroke-width="3.8"/>
<path d="M905.4 407.6L910.1 409.4" stroke="#b0b0b0" stroke-width="2.1"/>
<path d="M820.3 430.8L818.9 428.5" stroke="#4a4a4a" stroke-width="3.8"/>
<path d="M820.3 430.8L819.6 429.7" stroke="#b0b0b0" stroke-width="2.1"/>
<path d="M819.6 429.7L818.9 428.5" stroke="#e42828" stroke-width="2.1"/>
<path d="M878.1 427.2L884.8 427.5" stroke="#4a4a4a" stroke-width="3.8"/>
<path d="M878.1 427.2L884.8 427.5" stroke="#b0b0b0" stroke-width="2.1"/>
<path d="M839.9 421.1L840.7 425.5" stroke="#4a4a4a" stroke-width="3.8"/>
<path d="M839.9 421.1L840.3 423.3" stroke="#b0b0b0" stroke-width="2.1"/>
<path d="M840.3 423.3L840.7 425.5" stroke="#8c8ce6" stroke-width="2.1"/>
<path d="M839.9 421.1L843.5 419.3" stroke="#4a4a4a" stroke-width="3.8"/>
<path d="M839.9 421.1L841.7 420.2" stroke="#b0b0b0" stroke-width="2.1"/>
<path d="M841.7 420.2L843.5 419.3" stroke="#e42828" stroke-width="2.1"/>
<path d="M886.2 462.5L888.4 456.6" stroke="#4a4a4a" stroke-width="3.8"/>
<path d="M886.2 462.5L888.4 456.6" stroke="#b0b0b0" stroke-width="2.1"/>
<path d="M802.8 366.8L803.2 373.3" stroke="#4a4a4a" stroke-width="3.8"/>
<path d="M802.8 366.8L803.2 373.3" stroke="#b1b1b1" stroke-width="2.1"/>
<path d="M803.0 433.7L797.8 433.9" stroke="#4a4a4a" stroke-width="3.8"/>
<path d="M803.0 433.7L797.8 433.9" stroke="#b1b1b1" stroke-width="2.1"/>
<path d="M813.5 437.6L809.6 433.2" stroke="#4a4a4a" stroke-width="3.8"/>
<path d="M813.5 437.6L809.6 433.2" stroke="#b1b1b1" stroke-width="2.1"/>
<path d="M859.7 450.1L862.6 450.0" stroke="#4a4a4a" stroke-width="3.8"/>
<path d="M859.7 450.1L861.1 450.1" stroke="#b1b1b1" stroke-width="2.1"/>
<path d="M861.1 450.1L862.6 450.0" stroke="#e42828" stroke-width="2.1"/>
<path d="M899.3 389.4L898.0 382.8" stroke="#4a4a4a" stroke-width="3.8"/>
<path d="M899.3 389.4L898.0 382.8" stroke="#b1b1b1" stroke-width="2.1"/>
<path d="M913.7 465.7L920.3 464.2" stroke="#4a4a4a" stroke-width="3.8"/>
<path d="M913.7 465.7L920.3 464.2" stroke="#b1b1b1" stroke-width="2.1"/>
<path d="M807.7 362.4L802.8 366.8" stroke="#4a4a4a" stroke-width="3.8"/>
<path d="M807.7 362.4L802.8 366.8" stroke="#b1b1b1" stroke-width="2.1"/>
<path d="M771.5 449.2L778.3 449.1" stroke="#4a4a4a" stroke-width="3.8"/>
<path d="M771.5 449.2L778.3 449.1" stroke="#b1b1b1" stroke-width="2.1"/>
<path d="M877.5 452.6L875.4 458.5" stroke="#4a4a4a" stroke-width="3.8"/>
<path d="M877.5 452.6L875.4 458.5" stroke="#b1b1b1" stroke-width="2.1"/>
<path d="M906.3 396.4L903.5 401.1" stroke="#4a4a4a" stroke-width="3.8"/>
<path d="M906.3 396.4L903.5 401.1" stroke="#b1b1b1" stroke-width="2.1"/>
<path d="M883.3 445.4L887.2 441.7" stroke="#4a4a4a" stroke-width="3.8"/>
<path d="M883.3 445.4L885.2 443.5" stroke="#b1b1b1" stroke-width="2.1"/>
<path d="M885.2 443.5L887.2 441.7" stroke="#e42828" stroke-width="2.1"/>
<path d="M864.1 495.9L862.8 495.2" stroke="#4a4a4a" stroke-width="3.8"/>
<path d="M864.1 495.9L862.8 495.2" stroke="#b1b1b1" stroke-width="2.1"/>
<path d="M879.0 397.9L876.6 397.3" stroke="#4a4a4a" stroke-width="3.8"/>
<path d="M879.0 397.9L877.8 397.6" stroke="#b1b1b1" stroke-width="2.1"/>
<path d="M877.8 397.6L876.6 397.3" stroke="#e42828" stroke-width="2.1"/>
<path d="M827.9 385.0L836.7 394.4" stroke="#4a4a4a" stroke-width="3.8"/>
<path d="M827.9 385.0L832.3 389.7" stroke="#b1b1b1" stroke-width="2.1"/>
<path d="M832.3 389.7L836.7 394.4" stroke="#8c8ce6" stroke-width="2.1"/>
<path d="M795.8 424.0L802.1 422.7" stroke="#4a4a4a" stroke-width="3.8"/>
<path d="M795.8 424.0L802.1 422.7" stroke="#b1b1b1" stroke-width="2.1"/>
<path d="M875.1 384.0L878.1 387.5" stroke="#4a4a4a" stroke-width="3.8"/>
<path d="M875.1 384.0L878.1 387.5" stroke="#b1b1b1" stroke-width="2.1"/>
<path d="M829.6 361.1L826.9 359.1" stroke="#4a4a4a" stroke-width="3.8"/>
<path d="M829.6 361.1L826.9 359.1" stroke="#b1b1b1" stroke-width="2.1"/>
<path d="M836.4 368.8L834.4 365.9" stroke="#4a4a4a" stroke-width="3.8"/>
<path d="M836.4 368.8L834.4 365.9" stroke="#b1b1b1" stroke-width="2.1"/>
<path d="M804.3 416.3L800.3 411.2" stroke="#4a4a4a" stroke-width="3.8"/>
<path d="M804.3 416.3L800.3 411.2" stroke="#b1b1b1" stroke-width="2.1"/>
<path d="M818.0 425.3L821.9 429.7" stroke="#4a4a4a" stroke-width="3.8"/>
<path d="M818.0 425.3L821.9 429.7" stroke="#b1b1b1" stroke-width="2.1"/>
<path d="M864.8 386.8L868.4 383.7" stroke="#4a4a4a" stroke-width="3.8"/>
<path d="M864.8 386.8L868.4 383.7" stroke="#b1b1b1" stroke-width="2.1"/>
<path d="M864.9 444.4L861.1 435.9" stroke="#4a4a4a" stroke-width="3.8"/>
<path d="M864.9 444.4L861.1 435.9" stroke="#b1b1b1" stroke-width="2.1"/>
<path d="M908.1 412.9L913.2 411.2" stroke="#4a4a4a" stroke-width="3.8"/>
<path d="M908.1 412.9L913.2 411.2" stroke="#b1b1b1" stroke-width="2.1"/>
<path d="M815.7 430.8L820.3 430.8" stroke="#4a4a4a" stroke-width="3.8"/>
<path d="M815.7 430.8L820.3 430.8" stroke="#b1b1b1" stroke-width="2.1"/>
<path d="M900.4 463.0L895.8 457.3" stroke="#4a4a4a" stroke-width="3.8"/>
<path d="M900.4 463.0L895.8 457.3" stroke="#b1b1b1" stroke-width="2.1"/>
<path d="M928.1 398.5L932.8 400.7" stroke="#4a4a4a" stroke-width="3.8"/>
<path d="M928.1 398.5L932.8 400.7" stroke="#b2b2b2" stroke-width="2.1"/>
<path d="M802.1 422.7L804.3 416.3" stroke="#4a4a4a" stroke-width="3.8"/>
<path d="M802.1 422.7L804.3 416.3" stroke="#b2b2b2" stroke-width="2.1"/>
<path d="M904.5 453.3L902.9 445.9" stroke="#4a4a4a" stroke-width="3.8"/>
<path d="M904.5 453.3L902.9 445.9" stroke="#b2b2b2" stroke-width="2.1"/>
<path d="M863.0 484.3L860.2 479.9" stroke="#4a4a4a" stroke-width="3.8"/>
<path d="M863.0 484.3L861.6 482.1" stroke="#eec840" stroke-width="2.1"/>
<path d="M861.6 482.1L860.2 479.9" stroke="#b2b2b2" stroke-width="2.1"/>
<path d="M879.8 463.5L886.2 462.5" stroke="#4a4a4a" stroke-width="3.8"/>
<path d="M879.8 463.5L886.2 462.5" stroke="#b2b2b2" stroke-width="2.1"/>
<path d="M796.8 445.5L801.9 445.2" stroke="#4a4a4a" stroke-width="3.8"/>
<path d="M796.8 445.5L801.9 445.2" stroke="#b2b2b2" stroke-width="2.1"/>
<path d="M806.0 427.8L812.6 427.5" stroke="#4a4a4a" stroke-width="3.8"/>
<path d="M806.0 427.8L809.3 427.6" stroke="#b2b2b2" stroke-width="2.1"/>
<path d="M809.3 427.6L812.6 427.5" stroke="#eec840" stroke-width="2.1"/>
<path d="M898.2 377.0L901.7 375.0" stroke="#4a4a4a" stroke-width="3.8"/>
<path d="M898.2 377.0L901.7 375.0" stroke="#b2b2b2" stroke-width="2.1"/>
<path d="M875.4 458.5L879.8 463.5" stroke="#4a4a4a" stroke-width="3.8"/>
<path d="M875.4 458.5L879.8 463.5" stroke="#b2b2b2" stroke-width="2.1"/>
<path d="M910.0 399.9L904.9 401.6" stroke="#4a4a4a" stroke-width="3.8"/>
<path d="M910.0 399.9L904.9 401.6" stroke="#b2b2b2" stroke-width="2.1"/>
<path d="M849.7 425.7L849.1 425.7" stroke="#4a4a4a" stroke-width="3.8"/>
<path d="M849.7 425.7L849.4 425.7" stroke="#b2b2b2" stroke-width="2.1"/>
<path d="M849.4 425.7L849.1 425.7" stroke="#e42828" stroke-width="2.1"/>
<path d="M903.5 401.1L905.4 407.6" stroke="#4a4a4a" stroke-width="3.8"/>
<path d="M903.5 401.1L905.4 407.6" stroke="#b2b2b2" stroke-width="2.1"/>
<path d="M907.2 419.4L907.0 423.1" stroke="#4a4a4a" stroke-width="3.8"/>
<path d="M907.2 419.4L907.0 423.1" stroke="#b2b2b2" stroke-width="2.1"/>
<path d="M778.3 449.1L782.1 446.2" stroke="#4a4a4a" stroke-width="3.8"/>
<path d="M778.3 449.1L782.1 446.2" stroke="#b2b2b2" stroke-width="2.1"/>
<path d="M827.9 385.0L830.5 392.2" stroke="#4a4a4a" stroke-width="3.8"/>
<path d="M827.9 385.0L830.5 392.2" stroke="#b2b2b2" stroke-width="2.1"/>
<path d="M875.4 458.5L869.6 461.4" stroke="#4a4a4a" stroke-width="3.8"/>
<path d="M875.4 458.5L869.6 461.4" stroke="#b2b2b2" stroke-width="2.1"/>
<path d="M878.1 420.1L876.3 421.3" stroke="#4a4a4a" stroke-width="3.8"/>
<path d="M878.1 420.1L877.2 420.7" stroke="#b2b2b2" stroke-width="2.1"/>
<path d="M877.2 420.7L876.3 421.3" stroke="#e42828" stroke-width="2.1"/>
<path d="M898.0 382.8L895.1 379.3" stroke="#4a4a4a" stroke-width="3.8"/>
<path d="M898.0 382.8L895.1 379.3" stroke="#b2b2b2" stroke-width="2.1"/>
<path d="M887.5 408.3L883.5 416.2" stroke="#4a4a4a" stroke-width="3.8"/>
<path d="M887.5 408.3L883.5 416.2" stroke="#b2b2b2" stroke-width="2.1"/>
<path d="M861.1 435.9L861.0 435.5" stroke="#4a4a4a" stroke-width="3.8"/>
<path d="M861.1 435.9L861.0 435.7" stroke="#b2b2b2" stroke-width="2.1"/>
<path d="M861.0 435.7L861.0 435.5" stroke="#e42828" stroke-width="2.1"/>
<path d="M806.0 427.8L802.1 422.7" stroke="#4a4a4a" stroke-width="3.8"/>
<path d="M806.0 427.8L802.1 422.7" stroke="#b2b2b2" stroke-width="2.1"/>
<path d="M819.6 435.8L813.5 437.6" stroke="#4a4a4a" stroke-width="3.8"/>
<path d="M819.6 435.8L813.5 437.6" stroke="#b2b2b2" stroke-width="2.1"/>
<path d="M883.5 416.2L884.7 416.9" stroke="#4a4a4a" stroke-width="3.8"/>
<path d="M883.5 416.2L884.1 416.5" stroke="#b2b2b2" stroke-width="2.1"/>
<path d="M884.1 416.5L884.7 416.9" stroke="#8c8ce6" stroke-width="2.1"/>
<path d="M921.6 398.4L928.1 398.5" stroke="#4a4a4a" stroke-width="3.8"/>
<path d="M921.6 398.4L928.1 398.5" stroke="#b2b2b2" stroke-width="2.1"/>
<path d="M875.0 437.2L873.2 432.0" stroke="#4a4a4a" stroke-width="3.8"/>
<path d="M875.0 437.2L873.2 432.0" stroke="#b2b2b2" stroke-width="2.1"/>
<path d="M883.5 416.2L878.1 420.1" stroke="#4a4a4a" stroke-width="3.8"/>
<path d="M883.5 416.2L878.1 420.1" stroke="#b2b2b2" stroke-width="2.1"/>
<path d="M807.4 386.9L800.7 386.9" stroke="#4a4a4a" stroke-width="3.8"/>
<path d="M807.4 386.9L800.7 386.9" stroke="#b2b2b2" stroke-width="2.1"/>
<path d="M903.4 368.4L901.8 364.0" stroke="#4a4a4a" stroke-width="3.8"/>
<path d="M903.4 368.4L901.8 364.0" stroke="#b3b3b3" stroke-width="2.1"/>
<path d="M806.0 427.8L803.0 433.7" stroke="#4a4a4a" stroke-width="3.8"/>
<path d="M806.0 427.8L803.0 433.7" stroke="#b3b3b3" stroke-width="2.1"/>
<path d="M860.4 433.4L855.4 430.6" stroke="#4a4a4a" stroke-width="3.8"/>
<path d="M860.4 433.4L857.9 432.0" stroke="#8c8ce6" stroke-width="2.1"/>
<path d="M857.9 432.0L855.4 430.6" stroke="#b3b3b3" stroke-width="2.1"/>
<path d="M821.9 429.7L819.6 435.8" stroke="#4a4a4a" stroke-width="3.8"/>
<path d="M821.9 429.7L819.6 435.8" stroke="#b3b3b3" stroke-width="2.1"/>
<path d="M868.4 383.7L875.1 384.0" stroke="#4a4a4a" stroke-width="3.8"/>
<path d="M868.4 383.7L875.1 384.0" stroke="#b3b3b3" stroke-width="2.1"/>
<path d="M768.6 446.3L771.5 449.2" stroke="#4a4a4a" stroke-width="3.8"/>
<path d="M768.6 446.3L771.5 449.2" stroke="#b3b3b3" stroke-width="2.1"/>
<path d="M897.5 392.6L899.3 389.4" stroke="#4a4a4a" stroke-width="3.8"/>
<path d="M897.5 392.6L899.3 389.4" stroke="#b3b3b3" stroke-width="2.1"/>
<path d="M884.8 427.5L886.6 432.6" stroke="#4a4a4a" stroke-width="3.8"/>
<path d="M884.8 427.5L886.6 432.6" stroke="#b3b3b3" stroke-width="2.1"/>
<path d="M795.8 418.1L793.2 412.6" stroke="#4a4a4a" stroke-width="3.8"/>
<path d="M795.8 418.1L793.2 412.6" stroke="#b3b3b3" stroke-width="2.1"/>
<path d="M846.7 478.2L847.2 475.0" stroke="#4a4a4a" stroke-width="3.8"/>
<path d="M846.7 478.2L847.2 475.0" stroke="#b3b3b3" stroke-width="2.1"/>
<path d="M850.2 406.2L850.0 409.7" stroke="#4a4a4a" stroke-width="3.8"/>
<path d="M850.2 406.2L850.0 409.7" stroke="#b3b3b3" stroke-width="2.1"/>
<path d="M834.4 365.9L829.6 361.1" stroke="#4a4a4a" stroke-width="3.8"/>
<path d="M834.4 365.9L829.6 361.1" stroke="#b3b3b3" stroke-width="2.1"/>
<path d="M869.6 461.4L868.5 467.2" stroke="#4a4a4a" stroke-width="3.8"/>
<path d="M869.6 461.4L869.0 464.3" stroke="#b3b3b3" stroke-width="2.1"/>
<path d="M869.0 464.3L868.5 467.2" stroke="#e42828" stroke-width="2.1"/>
<path d="M851.8 395.4L851.1 399.0" stroke="#4a4a4a" stroke-width="3.8"/>
<path d="M851.8 395.4L851.1 399.0" stroke="#b3b3b3" stroke-width="2.1"/>
<path d="M849.7 425.7L856.7 431.7" stroke="#4a4a4a" stroke-width="3.8"/>
<path d="M849.7 425.7L856.7 431.7" stroke="#b3b3b3" stroke-width="2.1"/>
<path d="M869.6 461.4L863.8 458.5" stroke="#4a4a4a" stroke-width="3.8"/>
<path d="M869.6 461.4L863.8 458.5" stroke="#b3b3b3" stroke-width="2.1"/>
<path d="M805.0 439.4L803.0 433.7" stroke="#4a4a4a" stroke-width="3.8"/>
<path d="M805.0 439.4L803.0 433.7" stroke="#b3b3b3" stroke-width="2.1"/>
<path d="M836.0 419.1L839.9 421.1" stroke="#4a4a4a" stroke-width="3.8"/>
<path d="M836.0 419.1L839.9 421.1" stroke="#b3b3b3" stroke-width="2.1"/>
<path d="M798.4 423.1L795.8 418.1" stroke="#4a4a4a" stroke-width="3.8"/>
<path d="M798.4 423.1L795.8 418.1" stroke="#b3b3b3" stroke-width="2.1"/>
<path d="M892.5 403.1L887.5 408.3" stroke="#4a4a4a" stroke-width="3.8"/>
<path d="M892.5 403.1L890.0 405.7" stroke="#eec840" stroke-width="2.1"/>
<path d="M890.0 405.7L887.5 408.3" stroke="#b3b3b3" stroke-width="2.1"/>
<path d="M907.2 419.4L908.1 412.9" stroke="#4a4a4a" stroke-width="3.8"/>
<path d="M907.2 419.4L908.1 412.9" stroke="#b3b3b3" stroke-width="2.1"/>
<path d="M866.0 507.4L865.7 502.0" stroke="#4a4a4a" stroke-width="3.8"/>
<path d="M866.0 507.4L865.7 502.0" stroke="#b3b3b3" stroke-width="2.1"/>
<path d="M900.4 463.0L895.5 459.1" stroke="#4a4a4a" stroke-width="3.8"/>
<path d="M900.4 463.0L895.5 459.1" stroke="#b3b3b3" stroke-width="2.1"/>
<path d="M860.6 453.1L859.7 450.1" stroke="#4a4a4a" stroke-width="3.8"/>
<path d="M860.6 453.1L859.7 450.1" stroke="#b3b3b3" stroke-width="2.1"/>
<path d="M830.5 392.2L830.2 391.0" stroke="#4a4a4a" stroke-width="3.8"/>
<path d="M830.5 392.2L830.3 391.6" stroke="#b3b3b3" stroke-width="2.1"/>
<path d="M830.3 391.6L830.2 391.0" stroke="#e42828" stroke-width="2.1"/>
<path d="M823.7 430.8L815.7 430.8" stroke="#4a4a4a" stroke-width="3.8"/>
<path d="M823.7 430.8L815.7 430.8" stroke="#b3b3b3" stroke-width="2.1"/>
<path d="M857.7 483.6L863.7 486.5" stroke="#4a4a4a" stroke-width="3.8"/>
<path d="M857.7 483.6L863.7 486.5" stroke="#b4b4b4" stroke-width="2.1"/>
<path d="M904.0 408.1L908.1 412.9" stroke="#4a4a4a" stroke-width="3.8"/>
<path d="M904.0 408.1L908.1 412.9" stroke="#b4b4b4" stroke-width="2.1"/>
<path d="M898.8 399.3L903.5 401.1" stroke="#4a4a4a" stroke-width="3.8"/>
<path d="M898.8 399.3L903.5 401.1" stroke="#b4b4b4" stroke-width="2.1"/>
<path d="M801.9 445.2L805.0 439.4" stroke="#4a4a4a" stroke-width="3.8"/>
<path d="M801.9 445.2L805.0 439.4" stroke="#b4b4b4" stroke-width="2.1"/>
<path d="M837.7 484.4L841.9 483.0" stroke="#4a4a4a" stroke-width="3.8"/>
<path d="M837.7 484.4L841.9 483.0" stroke="#b4b4b4" stroke-width="2.1"/>
<path d="M904.9 401.6L904.0 408.1" stroke="#4a4a4a" stroke-width="3.8"/>
<path d="M904.9 401.6L904.0 408.1" stroke="#b4b4b4" stroke-width="2.1"/>
<path d="M865.7 502.0L864.1 495.9" stroke="#4a4a4a" stroke-width="3.8"/>
<path d="M865.7 502.0L864.1 495.9" stroke="#b4b4b4" stroke-width="2.1"/>
<path d="M901.7 375.0L903.4 368.4" stroke="#4a4a4a" stroke-width="3.8"/>
<path d="M901.7 375.0L903.4 368.4" stroke="#b4b4b4" stroke-width="2.1"/>
<path d="M821.9 429.7L825.7 428.9" stroke="#4a4a4a" stroke-width="3.8"/>
<path d="M821.9 429.7L825.7 428.9" stroke="#b4b4b4" stroke-width="2.1"/>
<path d="M863.8 458.5L857.5 461.0" stroke="#4a4a4a" stroke-width="3.8"/>
<path d="M863.8 458.5L857.5 461.0" stroke="#b4b4b4" stroke-width="2.1"/>
<path d="M864.7 463.6L866.8 463.9" stroke="#4a4a4a" stroke-width="3.8"/>
<path d="M864.7 463.6L866.8 463.9" stroke="#b4b4b4" stroke-width="2.1"/>
<path d="M800.7 386.9L797.2 389.5" stroke="#4a4a4a" stroke-width="3.8"/>
<path d="M800.7 386.9L797.2 389.5" stroke="#b4b4b4" stroke-width="2.1"/>
<path d="M810.8 389.5L807.4 386.9" stroke="#4a4a4a" stroke-width="3.8"/>
<path d="M810.8 389.5L807.4 386.9" stroke="#b4b4b4" stroke-width="2.1"/>
<path d="M863.7 490.5L864.1 495.9" stroke="#4a4a4a" stroke-width="3.8"/>
<path d="M863.7 490.5L864.1 495.9" stroke="#b5b5b5" stroke-width="2.1"/>
<path d="M863.7 490.5L863.0 484.3" stroke="#4a4a4a" stroke-width="3.8"/>
<path d="M863.7 490.5L863.3 487.4" stroke="#b5b5b5" stroke-width="2.1"/>
<path d="M863.3 487.4L863.0 484.3" stroke="#eec840" stroke-width="2.1"/>
<path d="M809.9 433.7L814.1 435.7" stroke="#4a4a4a" stroke-width="3.8"/>
<path d="M809.9 433.7L812.0 434.7" stroke="#b5b5b5" stroke-width="2.1"/>
<path d="M812.0 434.7L814.1 435.7" stroke="#e42828" stroke-width="2.1"/>
<path d="M863.7 486.5L868.9 485.4" stroke="#4a4a4a" stroke-width="3.8"/>
<path d="M863.7 486.5L868.9 485.4" stroke="#b5b5b5" stroke-width="2.1"/>
<path d="M898.8 399.3L892.5 403.1" stroke="#4a4a4a" stroke-width="3.8"/>
<path d="M898.8 399.3L895.6 401.2" stroke="#b5b5b5" stroke-width="2.1"/>
<path d="M895.6 401.2L892.5 403.1" stroke="#eec840" stroke-width="2.1"/>
<path d="M857.5 461.0L864.7 463.6" stroke="#4a4a4a" stroke-width="3.8"/>
<path d="M857.5 461.0L864.7 463.6" stroke="#b5b5b5" stroke-width="2.1"/>
<path d="M825.7 436.8L823.7 430.8" stroke="#4a4a4a" stroke-width="3.8"/>
<path d="M825.7 436.8L823.7 430.8" stroke="#b5b5b5" stroke-width="2.1"/>
<path d="M879.1 444.6L887.2 447.7" stroke="#4a4a4a" stroke-width="3.8"/>
<path d="M879.1 444.6L883.2 446.2" stroke="#b5b5b5" stroke-width="2.1"/>
<path d="M883.2 446.2L887.2 447.7" stroke="#e42828" stroke-width="2.1"/>
<path d="M825.7 436.8L821.0 440.1" stroke="#4a4a4a" stroke-width="3.8"/>
<path d="M825.7 436.8L823.3 438.5" stroke="#b5b5b5" stroke-width="2.1"/>
<path d="M823.3 438.5L821.0 440.1" stroke="#e42828" stroke-width="2.1"/>
<path d="M881.7 437.5L875.0 437.2" stroke="#4a4a4a" stroke-width="3.8"/>
<path d="M881.7 437.5L875.0 437.2" stroke="#b5b5b5" stroke-width="2.1"/>
<path d="M898.8 399.3L897.5 392.6" stroke="#4a4a4a" stroke-width="3.8"/>
<path d="M898.8 399.3L897.5 392.6" stroke="#b5b5b5" stroke-width="2.1"/>
<path d="M870.4 351.0L864.5 348.1" stroke="#4a4a4a" stroke-width="3.8"/>
<path d="M870.4 351.0L864.5 348.1" stroke="#b5b5b5" stroke-width="2.1"/>
<path d="M886.6 432.6L881.7 437.5" stroke="#4a4a4a" stroke-width="3.8"/>
<path d="M886.6 432.6L881.7 437.5" stroke="#b5b5b5" stroke-width="2.1"/>
<path d="M907.2 419.4L900.8 420.2" stroke="#4a4a4a" stroke-width="3.8"/>
<path d="M907.2 419.4L904.0 419.8" stroke="#b5b5b5" stroke-width="2.1"/>
<path d="M904.0 419.8L900.8 420.2" stroke="#eec840" stroke-width="2.1"/>
<path d="M851.1 399.0L850.2 406.2" stroke="#4a4a4a" stroke-width="3.8"/>
<path d="M851.1 399.0L850.2 406.2" stroke="#b5b5b5" stroke-width="2.1"/>
<path d="M907.2 419.4L912.3 421.5" stroke="#4a4a4a" stroke-width="3.8"/>
<path d="M907.2 419.4L912.3 421.5" stroke="#b5b5b5" stroke-width="2.1"/>
<path d="M841.9 483.0L846.7 478.2" stroke="#4a4a4a" stroke-width="3.8"/>
<path d="M841.9 483.0L846.7 478.2" stroke="#b5b5b5" stroke-width="2.1"/>
<path d="M806.0 427.8L807.1 427.3" stroke="#4a4a4a" stroke-width="3.8"/>
<path d="M806.0 427.8L807.1 427.3" stroke="#b5b5b5" stroke-width="2.1"/>
<path d="M837.3 351.4L843.3 352.3" stroke="#4a4a4a" stroke-width="3.8"/>
<path d="M837.3 351.4L843.3 352.3" stroke="#b5b5b5" stroke-width="2.1"/>
<path d="M837.4 435.7L844.0 438.2" stroke="#4a4a4a" stroke-width="3.8"/>
<path d="M837.4 435.7L844.0 438.2" stroke="#b5b5b5" stroke-width="2.1"/>
<path d="M803.4 435.9L809.9 433.7" stroke="#4a4a4a" stroke-width="3.8"/>
<path d="M803.4 435.9L809.9 433.7" stroke="#b6b6b6" stroke-width="2.1"/>
<path d="M886.8 378.0L892.3 378.2" stroke="#4a4a4a" stroke-width="3.8"/>
<path d="M886.8 378.0L889.6 378.1" stroke="#b6b6b6" stroke-width="2.1"/>
<path d="M889.6 378.1L892.3 378.2" stroke="#e42828" stroke-width="2.1"/>
<path d="M782.1 446.2L779.2 443.3" stroke="#4a4a4a" stroke-width="3.8"/>
<path d="M782.1 446.2L779.2 443.3" stroke="#b6b6b6" stroke-width="2.1"/>
<path d="M843.3 352.3L848.9 353.0" stroke="#4a4a4a" stroke-width="3.8"/>
<path d="M843.3 352.3L848.9 353.0" stroke="#b6b6b6" stroke-width="2.1"/>
<path d="M858.6 437.7L860.4 433.4" stroke="#4a4a4a" stroke-width="3.8"/>
<path d="M858.6 437.7L859.5 435.5" stroke="#b6b6b6" stroke-width="2.1"/>
<path d="M859.5 435.5L860.4 433.4" stroke="#8c8ce6" stroke-width="2.1"/>
<path d="M856.9 479.6L857.7 483.6" stroke="#4a4a4a" stroke-width="3.8"/>
<path d="M856.9 479.6L857.7 483.6" stroke="#b6b6b6" stroke-width="2.1"/>
<path d="M852.9 420.5L849.7 425.7" stroke="#4a4a4a" stroke-width="3.8"/>
<path d="M852.9 420.5L849.7 425.7" stroke="#b6b6b6" stroke-width="2.1"/>
<path d="M895.1 379.3L893.4 382.6" stroke="#4a4a4a" stroke-width="3.8"/>
<path d="M895.1 379.3L893.4 382.6" stroke="#b6b6b6" stroke-width="2.1"/>
<path d="M858.6 437.7L854.5 437.2" stroke="#4a4a4a" stroke-width="3.8"/>
<path d="M858.6 437.7L856.5 437.4" stroke="#b6b6b6" stroke-width="2.1"/>
<path d="M856.5 437.4L854.5 437.2" stroke="#e42828" stroke-width="2.1"/>
<path d="M832.6 424.7L836.0 419.1" stroke="#4a4a4a" stroke-width="3.8"/>
<path d="M832.6 424.7L836.0 419.1" stroke="#b6b6b6" stroke-width="2.1"/>
<path d="M831.7 438.8L837.4 435.7" stroke="#4a4a4a" stroke-width="3.8"/>
<path d="M831.7 438.8L837.4 435.7" stroke="#b6b6b6" stroke-width="2.1"/>
<path d="M864.5 348.1L859.1 349.0" stroke="#4a4a4a" stroke-width="3.8"/>
<path d="M864.5 348.1L859.1 349.0" stroke="#b6b6b6" stroke-width="2.1"/>
<path d="M852.3 450.9L854.1 451.7" stroke="#4a4a4a" stroke-width="3.8"/>
<path d="M852.3 450.9L853.2 451.3" stroke="#b6b6b6" stroke-width="2.1"/>
<path d="M853.2 451.3L854.1 451.7" stroke="#e42828" stroke-width="2.1"/>
<path d="M918.6 419.3L912.3 421.5" stroke="#4a4a4a" stroke-width="3.8"/>
<path d="M918.6 419.3L912.3 421.5" stroke="#b6b6b6" stroke-width="2.1"/>
<path d="M831.7 438.8L825.7 436.8" stroke="#4a4a4a" stroke-width="3.8"/>
<path d="M831.7 438.8L825.7 436.8" stroke="#b6b6b6" stroke-width="2.1"/>
<path d="M836.0 419.1L836.2 412.8" stroke="#4a4a4a" stroke-width="3.8"/>
<path d="M836.0 419.1L836.2 412.8" stroke="#b6b6b6" stroke-width="2.1"/>
<path d="M793.2 412.6L793.2 412.0" stroke="#4a4a4a" stroke-width="3.8"/>
<path d="M793.2 412.6L793.2 412.0" stroke="#b6b6b6" stroke-width="2.1"/>
<path d="M772.4 443.4L768.6 446.3" stroke="#4a4a4a" stroke-width="3.8"/>
<path d="M772.4 443.4L768.6 446.3" stroke="#b6b6b6" stroke-width="2.1"/>
<path d="M879.1 444.6L879.4 446.9" stroke="#4a4a4a" stroke-width="3.8"/>
<path d="M879.1 444.6L879.4 446.9" stroke="#b6b6b6" stroke-width="2.1"/>
<path d="M894.6 389.2L897.5 392.6" stroke="#4a4a4a" stroke-width="3.8"/>
<path d="M894.6 389.2L897.5 392.6" stroke="#b7b7b7" stroke-width="2.1"/>
<path d="M850.9 476.8L846.7 478.2" stroke="#4a4a4a" stroke-width="3.8"/>
<path d="M850.9 476.8L846.7 478.2" stroke="#b7b7b7" stroke-width="2.1"/>
<path d="M869.2 414.3L864.2 418.8" stroke="#4a4a4a" stroke-width="3.8"/>
<path d="M869.2 414.3L864.2 418.8" stroke="#b7b7b7" stroke-width="2.1"/>
<path d="M869.2 414.3L876.1 416.4" stroke="#4a4a4a" stroke-width="3.8"/>
<path d="M869.2 414.3L876.1 416.4" stroke="#b7b7b7" stroke-width="2.1"/>
<path d="M798.4 422.4L798.4 423.1" stroke="#4a4a4a" stroke-width="3.8"/>
<path d="M798.4 422.4L798.4 423.1" stroke="#b7b7b7" stroke-width="2.1"/>
<path d="M830.2 404.9L834.7 404.7" stroke="#4a4a4a" stroke-width="3.8"/>
<path d="M830.2 404.9L834.7 404.7" stroke="#b7b7b7" stroke-width="2.1"/>
<path d="M851.1 399.0L852.7 394.6" stroke="#4a4a4a" stroke-width="3.8"/>
<path d="M851.1 399.0L852.7 394.6" stroke="#b7b7b7" stroke-width="2.1"/>
<path d="M830.2 404.9L831.9 401.3" stroke="#4a4a4a" stroke-width="3.8"/>
<path d="M830.2 404.9L831.9 401.3" stroke="#b7b7b7" stroke-width="2.1"/>
<path d="M867.6 407.3L869.2 414.3" stroke="#4a4a4a" stroke-width="3.8"/>
<path d="M867.6 407.3L869.2 414.3" stroke="#b7b7b7" stroke-width="2.1"/>
<path d="M864.7 463.6L862.4 461.1" stroke="#4a4a4a" stroke-width="3.8"/>
<path d="M864.7 463.6L863.5 462.4" stroke="#b7b7b7" stroke-width="2.1"/>
<path d="M863.5 462.4L862.4 461.1" stroke="#e42828" stroke-width="2.1"/>
<path d="M923.8 421.4L918.6 419.3" stroke="#4a4a4a" stroke-width="3.8"/>
<path d="M923.8 421.4L918.6 419.3" stroke="#b7b7b7" stroke-width="2.1"/>
<path d="M864.2 418.8L864.8 424.9" stroke="#4a4a4a" stroke-width="3.8"/>
<path d="M864.2 418.8L864.5 421.9" stroke="#b7b7b7" stroke-width="2.1"/>
<path d="M864.5 421.9L864.8 424.9" stroke="#e42828" stroke-width="2.1"/>
<path d="M864.2 418.8L857.6 417.6" stroke="#4a4a4a" stroke-width="3.8"/>
<path d="M864.2 418.8L857.6 417.6" stroke="#b7b7b7" stroke-width="2.1"/>
<path d="M803.4 435.9L807.1 440.9" stroke="#4a4a4a" stroke-width="3.8"/>
<path d="M803.4 435.9L807.1 440.9" stroke="#b7b7b7" stroke-width="2.1"/>
<path d="M825.7 428.9L827.1 425.7" stroke="#4a4a4a" stroke-width="3.8"/>
<path d="M825.7 428.9L826.4 427.3" stroke="#b7b7b7" stroke-width="2.1"/>
<path d="M826.4 427.3L827.1 425.7" stroke="#e42828" stroke-width="2.1"/>
<path d="M852.7 457.3L854.9 458.5" stroke="#4a4a4a" stroke-width="3.8"/>
<path d="M852.7 457.3L853.8 457.9" stroke="#b7b7b7" stroke-width="2.1"/>
<path d="M853.8 457.9L854.9 458.5" stroke="#8c8ce6" stroke-width="2.1"/>
<path d="M863.7 490.5L869.3 490.2" stroke="#4a4a4a" stroke-width="3.8"/>
<path d="M863.7 490.5L869.3 490.2" stroke="#b7b7b7" stroke-width="2.1"/>
<path d="M825.7 428.9L828.5 431.5" stroke="#4a4a4a" stroke-width="3.8"/>
<path d="M825.7 428.9L828.5 431.5" stroke="#b7b7b7" stroke-width="2.1"/>
<path d="M933.7 435.5L929.7 430.5" stroke="#4a4a4a" stroke-width="3.8"/>
<path d="M933.7 435.5L929.7 430.5" stroke="#b7b7b7" stroke-width="2.1"/>
<path d="M855.1 450.3L860.6 453.1" stroke="#4a4a4a" stroke-width="3.8"/>
<path d="M855.1 450.3L857.9 451.7" stroke="#8c8ce6" stroke-width="2.1"/>
<path d="M857.9 451.7L860.6 453.1" stroke="#b7b7b7" stroke-width="2.1"/>
<path d="M863.7 490.5L858.4 491.2" stroke="#4a4a4a" stroke-width="3.8"/>
<path d="M863.7 490.5L858.4 491.2" stroke="#b7b7b7" stroke-width="2.1"/>
<path d="M881.7 437.5L882.8 442.7" stroke="#4a4a4a" stroke-width="3.8"/>
<path d="M881.7 437.5L882.8 442.7" stroke="#b7b7b7" stroke-width="2.1"/>
<path d="M844.0 438.2L844.9 443.8" stroke="#4a4a4a" stroke-width="3.8"/>
<path d="M844.0 438.2L844.9 443.8" stroke="#b7b7b7" stroke-width="2.1"/>
<path d="M898.8 399.3L901.1 400.5" stroke="#4a4a4a" stroke-width="3.8"/>
<path d="M898.8 399.3L901.1 400.5" stroke="#b8b8b8" stroke-width="2.1"/>
<path d="M900.8 420.2L894.7 420.1" stroke="#4a4a4a" stroke-width="3.8"/>
<path d="M900.8 420.2L897.7 420.1" stroke="#eec840" stroke-width="2.1"/>
<path d="M897.7 420.1L894.7 420.1" stroke="#b8b8b8" stroke-width="2.1"/>
<path d="M886.8 378.0L883.0 382.6" stroke="#4a4a4a" stroke-width="3.8"/>
<path d="M886.8 378.0L884.9 380.3" stroke="#b8b8b8" stroke-width="2.1"/>
<path d="M884.9 380.3L883.0 382.6" stroke="#e42828" stroke-width="2.1"/>
<path d="M876.1 416.4L881.3 411.6" stroke="#4a4a4a" stroke-width="3.8"/>
<path d="M876.1 416.4L881.3 411.6" stroke="#b8b8b8" stroke-width="2.1"/>
<path d="M857.6 417.6L852.9 420.5" stroke="#4a4a4a" stroke-width="3.8"/>
<path d="M857.6 417.6L852.9 420.5" stroke="#b8b8b8" stroke-width="2.1"/>
<path d="M875.0 444.0L879.1 444.6" stroke="#4a4a4a" stroke-width="3.8"/>
<path d="M875.0 444.0L879.1 444.6" stroke="#b8b8b8" stroke-width="2.1"/>
<path d="M933.8 441.5L933.7 435.5" stroke="#4a4a4a" stroke-width="3.8"/>
<path d="M933.8 441.5L933.7 435.5" stroke="#b8b8b8" stroke-width="2.1"/>
<path d="M852.7 457.3L852.3 450.9" stroke="#4a4a4a" stroke-width="3.8"/>
<path d="M852.7 457.3L852.3 450.9" stroke="#b8b8b8" stroke-width="2.1"/>
<path d="M779.2 443.3L772.4 443.4" stroke="#4a4a4a" stroke-width="3.8"/>
<path d="M779.2 443.3L772.4 443.4" stroke="#b8b8b8" stroke-width="2.1"/>
<path d="M872.8 402.5L867.6 407.3" stroke="#4a4a4a" stroke-width="3.8"/>
<path d="M872.8 402.5L867.6 407.3" stroke="#b8b8b8" stroke-width="2.1"/>
<path d="M871.0 354.6L870.4 351.0" stroke="#4a4a4a" stroke-width="3.8"/>
<path d="M871.0 354.6L870.4 351.0" stroke="#b8b8b8" stroke-width="2.1"/>
<path d="M874.4 486.1L869.3 490.2" stroke="#4a4a4a" stroke-width="3.8"/>
<path d="M874.4 486.1L869.3 490.2" stroke="#b8b8b8" stroke-width="2.1"/>
<path d="M797.2 389.5L800.6 392.0" stroke="#4a4a4a" stroke-width="3.8"/>
<path d="M797.2 389.5L800.6 392.0" stroke="#b8b8b8" stroke-width="2.1"/>
<path d="M895.5 459.1L896.2 459.3" stroke="#4a4a4a" stroke-width="3.8"/>
<path d="M895.5 459.1L895.8 459.2" stroke="#b8b8b8" stroke-width="2.1"/>
<path d="M895.8 459.2L896.2 459.3" stroke="#e42828" stroke-width="2.1"/>
<path d="M868.9 485.4L868.1 481.4" stroke="#4a4a4a" stroke-width="3.8"/>
<path d="M868.9 485.4L868.1 481.4" stroke="#b8b8b8" stroke-width="2.1"/>
<path d="M807.3 392.1L810.8 389.5" stroke="#4a4a4a" stroke-width="3.8"/>
<path d="M807.3 392.1L810.8 389.5" stroke="#b8b8b8" stroke-width="2.1"/>
<path d="M896.2 393.4L886.8 378.0" stroke="#4a4a4a" stroke-width="3.8"/>
<path d="M896.2 393.4L886.8 378.0" stroke="#b8b8b8" stroke-width="2.1"/>
<path d="M893.4 382.6L894.6 389.2" stroke="#4a4a4a" stroke-width="3.8"/>
<path d="M893.4 382.6L894.6 389.2" stroke="#b8b8b8" stroke-width="2.1"/>
<path d="M798.7 437.6L803.4 435.9" stroke="#4a4a4a" stroke-width="3.8"/>
<path d="M798.7 437.6L803.4 435.9" stroke="#b8b8b8" stroke-width="2.1"/>
<path d="M852.9 462.9L852.7 457.3" stroke="#4a4a4a" stroke-width="3.8"/>
<path d="M852.9 462.9L852.7 457.3" stroke="#b8b8b8" stroke-width="2.1"/>
<path d="M850.9 476.8L856.9 479.6" stroke="#4a4a4a" stroke-width="3.8"/>
<path d="M850.9 476.8L856.9 479.6" stroke="#b8b8b8" stroke-width="2.1"/>
<path d="M881.3 411.6L879.6 404.7" stroke="#4a4a4a" stroke-width="3.8"/>
<path d="M881.3 411.6L879.6 404.7" stroke="#b8b8b8" stroke-width="2.1"/>
<path d="M879.6 404.7L872.8 402.5" stroke="#4a4a4a" stroke-width="3.8"/>
<path d="M879.6 404.7L872.8 402.5" stroke="#b8b8b8" stroke-width="2.1"/>
<path d="M851.6 444.5L855.1 450.3" stroke="#4a4a4a" stroke-width="3.8"/>
<path d="M851.6 444.5L853.4 447.4" stroke="#b9b9b9" stroke-width="2.1"/>
<path d="M853.4 447.4L855.1 450.3" stroke="#8c8ce6" stroke-width="2.1"/>
<path d="M851.6 444.5L855.7 440.0" stroke="#4a4a4a" stroke-width="3.8"/>
<path d="M851.6 444.5L853.7 442.2" stroke="#b9b9b9" stroke-width="2.1"/>
<path d="M853.7 442.2L855.7 440.0" stroke="#e42828" stroke-width="2.1"/>
<path d="M912.3 421.5L911.2 425.7" stroke="#4a4a4a" stroke-width="3.8"/>
<path d="M912.3 421.5L911.2 425.7" stroke="#b9b9b9" stroke-width="2.1"/>
<path d="M807.1 427.3L813.2 425.7" stroke="#4a4a4a" stroke-width="3.8"/>
<path d="M807.1 427.3L813.2 425.7" stroke="#b9b9b9" stroke-width="2.1"/>
<path d="M880.0 485.8L874.4 486.1" stroke="#4a4a4a" stroke-width="3.8"/>
<path d="M880.0 485.8L874.4 486.1" stroke="#b9b9b9" stroke-width="2.1"/>
<path d="M832.6 444.5L831.7 438.8" stroke="#4a4a4a" stroke-width="3.8"/>
<path d="M832.6 444.5L831.7 438.8" stroke="#b9b9b9" stroke-width="2.1"/>
<path d="M860.9 441.6L858.6 437.7" stroke="#4a4a4a" stroke-width="3.8"/>
<path d="M860.9 441.6L858.6 437.7" stroke="#b9b9b9" stroke-width="2.1"/>
<path d="M844.9 443.8L851.6 444.5" stroke="#4a4a4a" stroke-width="3.8"/>
<path d="M844.9 443.8L851.6 444.5" stroke="#b9b9b9" stroke-width="2.1"/>
<path d="M879.6 404.7L884.6 400.1" stroke="#4a4a4a" stroke-width="3.8"/>
<path d="M879.6 404.7L884.6 400.1" stroke="#b9b9b9" stroke-width="2.1"/>
<path d="M850.9 476.8L851.7 469.4" stroke="#4a4a4a" stroke-width="3.8"/>
<path d="M850.9 476.8L851.3 473.1" stroke="#b9b9b9" stroke-width="2.1"/>
<path d="M851.3 473.1L851.7 469.4" stroke="#eec840" stroke-width="2.1"/>
<path d="M837.0 351.3L837.3 351.4" stroke="#4a4a4a" stroke-width="3.8"/>
<path d="M837.0 351.3L837.3 351.4" stroke="#b9b9b9" stroke-width="2.1"/>
<path d="M823.2 401.8L830.2 404.9" stroke="#4a4a4a" stroke-width="3.8"/>
<path d="M823.2 401.8L830.2 404.9" stroke="#b9b9b9" stroke-width="2.1"/>
<path d="M789.8 438.9L798.7 437.6" stroke="#4a4a4a" stroke-width="3.8"/>
<path d="M789.8 438.9L794.3 438.3" stroke="#eec840" stroke-width="2.1"/>
<path d="M794.3 438.3L798.7 437.6" stroke="#b9b9b9" stroke-width="2.1"/>
<path d="M858.4 491.2L854.1 486.0" stroke="#4a4a4a" stroke-width="3.8"/>
<path d="M858.4 491.2L854.1 486.0" stroke="#b9b9b9" stroke-width="2.1"/>
<path d="M851.7 469.4L852.9 462.9" stroke="#4a4a4a" stroke-width="3.8"/>
<path d="M851.7 469.4L852.3 466.2" stroke="#eec840" stroke-width="2.1"/>
<path d="M852.3 466.2L852.9 462.9" stroke="#b9b9b9" stroke-width="2.1"/>
<path d="M884.6 400.1L884.0 394.1" stroke="#4a4a4a" stroke-width="3.8"/>
<path d="M884.6 400.1L884.3 397.1" stroke="#b9b9b9" stroke-width="2.1"/>
<path d="M884.3 397.1L884.0 394.1" stroke="#e42828" stroke-width="2.1"/>
<path d="M783.0 440.3L779.2 443.3" stroke="#4a4a4a" stroke-width="3.8"/>
<path d="M783.0 440.3L779.2 443.3" stroke="#b9b9b9" stroke-width="2.1"/>
<path d="M891.2 401.4L896.2 393.4" stroke="#4a4a4a" stroke-width="3.8"/>
<path d="M891.2 401.4L896.2 393.4" stroke="#b9b9b9" stroke-width="2.1"/>
<path d="M884.6 400.1L891.2 401.4" stroke="#4a4a4a" stroke-width="3.8"/>
<path d="M884.6 400.1L891.2 401.4" stroke="#b9b9b9" stroke-width="2.1"/>
<path d="M801.9 428.4L807.1 427.3" stroke="#4a4a4a" stroke-width="3.8"/>
<path d="M801.9 428.4L807.1 427.3" stroke="#b9b9b9" stroke-width="2.1"/>
<path d="M829.4 424.1L832.6 424.7" stroke="#4a4a4a" stroke-width="3.8"/>
<path d="M829.4 424.1L832.6 424.7" stroke="#b9b9b9" stroke-width="2.1"/>
<path d="M862.1 478.6L856.9 479.6" stroke="#4a4a4a" stroke-width="3.8"/>
<path d="M862.1 478.6L856.9 479.6" stroke="#b9b9b9" stroke-width="2.1"/>
<path d="M848.9 353.0L848.6 352.8" stroke="#4a4a4a" stroke-width="3.8"/>
<path d="M848.9 353.0L848.6 352.8" stroke="#b9b9b9" stroke-width="2.1"/>
<path d="M859.1 349.0L859.6 352.6" stroke="#4a4a4a" stroke-width="3.8"/>
<path d="M859.1 349.0L859.6 352.6" stroke="#b9b9b9" stroke-width="2.1"/>
<path d="M882.8 442.7L887.1 444.8" stroke="#4a4a4a" stroke-width="3.8"/>
<path d="M882.8 442.7L884.9 443.8" stroke="#bababa" stroke-width="2.1"/>
<path d="M884.9 443.8L887.1 444.8" stroke="#e42828" stroke-width="2.1"/>
<path d="M852.7 394.6L850.3 391.1" stroke="#4a4a4a" stroke-width="3.8"/>
<path d="M852.7 394.6L851.5 392.8" stroke="#bababa" stroke-width="2.1"/>
<path d="M851.5 392.8L850.3 391.1" stroke="#e42828" stroke-width="2.1"/>
<path d="M882.8 442.7L879.2 446.7" stroke="#4a4a4a" stroke-width="3.8"/>
<path d="M882.8 442.7L879.2 446.7" stroke="#bababa" stroke-width="2.1"/>
<path d="M834.7 404.7L835.8 409.2" stroke="#4a4a4a" stroke-width="3.8"/>
<path d="M834.7 404.7L835.2 407.0" stroke="#bababa" stroke-width="2.1"/>
<path d="M835.2 407.0L835.8 409.2" stroke="#e42828" stroke-width="2.1"/>
<path d="M812.2 495.4L811.3 488.8" stroke="#4a4a4a" stroke-width="3.8"/>
<path d="M812.2 495.4L811.3 488.8" stroke="#bababa" stroke-width="2.1"/>
<path d="M836.2 412.8L833.1 412.2" stroke="#4a4a4a" stroke-width="3.8"/>
<path d="M836.2 412.8L833.1 412.2" stroke="#bababa" stroke-width="2.1"/>
<path d="M852.7 394.6L857.2 393.1" stroke="#4a4a4a" stroke-width="3.8"/>
<path d="M852.7 394.6L857.2 393.1" stroke="#bababa" stroke-width="2.1"/>
<path d="M868.7 439.3L875.0 444.0" stroke="#4a4a4a" stroke-width="3.8"/>
<path d="M868.7 439.3L875.0 444.0" stroke="#bababa" stroke-width="2.1"/>
<path d="M800.6 392.0L807.3 392.1" stroke="#4a4a4a" stroke-width="3.8"/>
<path d="M800.6 392.0L807.3 392.1" stroke="#bababa" stroke-width="2.1"/>
<path d="M783.0 440.3L789.8 438.9" stroke="#4a4a4a" stroke-width="3.8"/>
<path d="M783.0 440.3L786.4 439.6" stroke="#bababa" stroke-width="2.1"/>
<path d="M786.4 439.6L789.8 438.9" stroke="#eec840" stroke-width="2.1"/>
<path d="M857.3 497.1L858.4 491.2" stroke="#4a4a4a" stroke-width="3.8"/>
<path d="M857.3 497.1L858.4 491.2" stroke="#bababa" stroke-width="2.1"/>
<path d="M907.5 402.6L901.1 400.5" stroke="#4a4a4a" stroke-width="3.8"/>
<path d="M907.5 402.6L901.1 400.5" stroke="#bababa" stroke-width="2.1"/>
<path d="M793.2 412.0L795.8 416.9" stroke="#4a4a4a" stroke-width="3.8"/>
<path d="M793.2 412.0L795.8 416.9" stroke="#bababa" stroke-width="2.1"/>
<path d="M929.7 430.5L925.8 431.4" stroke="#4a4a4a" stroke-width="3.8"/>
<path d="M929.7 430.5L925.8 431.4" stroke="#bababa" stroke-width="2.1"/>
<path d="M844.9 443.8L839.2 446.9" stroke="#4a4a4a" stroke-width="3.8"/>
<path d="M844.9 443.8L839.2 446.9" stroke="#bababa" stroke-width="2.1"/>
<path d="M922.7 425.6L923.8 421.4" stroke="#4a4a4a" stroke-width="3.8"/>
<path d="M922.7 425.6L923.8 421.4" stroke="#bababa" stroke-width="2.1"/>
<path d="M795.8 416.9L798.4 422.4" stroke="#4a4a4a" stroke-width="3.8"/>
<path d="M795.8 416.9L798.4 422.4" stroke="#bababa" stroke-width="2.1"/>
<path d="M868.1 481.4L862.1 478.6" stroke="#4a4a4a" stroke-width="3.8"/>
<path d="M868.1 481.4L862.1 478.6" stroke="#bababa" stroke-width="2.1"/>
<path d="M894.7 420.1L885.3 417.9" stroke="#4a4a4a" stroke-width="3.8"/>
<path d="M894.7 420.1L885.3 417.9" stroke="#bababa" stroke-width="2.1"/>
<path d="M802.0 463.2L799.5 469.4" stroke="#4a4a4a" stroke-width="3.8"/>
<path d="M802.0 463.2L799.5 469.4" stroke="#bababa" stroke-width="2.1"/>
<path d="M855.4 446.3L860.9 441.6" stroke="#4a4a4a" stroke-width="3.8"/>
<path d="M855.4 446.3L860.9 441.6" stroke="#bababa" stroke-width="2.1"/>
<path d="M869.3 490.2L869.9 494.1" stroke="#4a4a4a" stroke-width="3.8"/>
<path d="M869.3 490.2L869.9 494.1" stroke="#bbbbbb" stroke-width="2.1"/>
<path d="M828.5 431.5L832.0 429.1" stroke="#4a4a4a" stroke-width="3.8"/>
<path d="M828.5 431.5L832.0 429.1" stroke="#bbbbbb" stroke-width="2.1"/>
<path d="M839.2 446.9L832.6 444.5" stroke="#4a4a4a" stroke-width="3.8"/>
<path d="M839.2 446.9L832.6 444.5" stroke="#bbbbbb" stroke-width="2.1"/>
<path d="M850.9 476.8L848.3 479.3" stroke="#4a4a4a" stroke-width="3.8"/>
<path d="M850.9 476.8L848.3 479.3" stroke="#bbbbbb" stroke-width="2.1"/>
<path d="M929.9 442.4L933.8 441.5" stroke="#4a4a4a" stroke-width="3.8"/>
<path d="M929.9 442.4L933.8 441.5" stroke="#bbbbbb" stroke-width="2.1"/>
<path d="M854.1 486.0L848.8 486.7" stroke="#4a4a4a" stroke-width="3.8"/>
<path d="M854.1 486.0L848.8 486.7" stroke="#bbbbbb" stroke-width="2.1"/>
<path d="M855.3 434.2L848.7 431.7" stroke="#4a4a4a" stroke-width="3.8"/>
<path d="M855.3 434.2L848.7 431.7" stroke="#bbbbbb" stroke-width="2.1"/>
<path d="M867.2 432.7L868.7 439.3" stroke="#4a4a4a" stroke-width="3.8"/>
<path d="M867.2 432.7L868.7 439.3" stroke="#bbbbbb" stroke-width="2.1"/>
<path d="M867.2 432.7L872.4 429.7" stroke="#4a4a4a" stroke-width="3.8"/>
<path d="M867.2 432.7L869.8 431.2" stroke="#bbbbbb" stroke-width="2.1"/>
<path d="M869.8 431.2L872.4 429.7" stroke="#e42828" stroke-width="2.1"/>
<path d="M811.3 488.8L810.6 484.5" stroke="#4a4a4a" stroke-width="3.8"/>
<path d="M811.3 488.8L810.6 484.5" stroke="#bbbbbb" stroke-width="2.1"/>
<path d="M865.6 355.5L871.0 354.6" stroke="#4a4a4a" stroke-width="3.8"/>
<path d="M865.6 355.5L871.0 354.6" stroke="#bbbbbb" stroke-width="2.1"/>
<path d="M861.0 430.0L855.3 434.2" stroke="#4a4a4a" stroke-width="3.8"/>
<path d="M861.0 430.0L855.3 434.2" stroke="#bbbbbb" stroke-width="2.1"/>
<path d="M860.9 441.6L867.3 443.6" stroke="#4a4a4a" stroke-width="3.8"/>
<path d="M860.9 441.6L867.3 443.6" stroke="#bbbbbb" stroke-width="2.1"/>
<path d="M856.4 452.9L855.4 446.3" stroke="#4a4a4a" stroke-width="3.8"/>
<path d="M856.4 452.9L855.4 446.3" stroke="#bbbbbb" stroke-width="2.1"/>
<path d="M861.0 430.0L867.2 432.7" stroke="#4a4a4a" stroke-width="3.8"/>
<path d="M861.0 430.0L867.2 432.7" stroke="#bcbcbc" stroke-width="2.1"/>
<path d="M816.5 398.6L823.2 401.8" stroke="#4a4a4a" stroke-width="3.8"/>
<path d="M816.5 398.6L819.9 400.2" stroke="#eec840" stroke-width="2.1"/>
<path d="M819.9 400.2L823.2 401.8" stroke="#bcbcbc" stroke-width="2.1"/>
<path d="M783.0 440.3L780.1 434.5" stroke="#4a4a4a" stroke-width="3.8"/>
<path d="M783.0 440.3L780.1 434.5" stroke="#bcbcbc" stroke-width="2.1"/>
<path d="M901.1 400.5L897.0 399.7" stroke="#4a4a4a" stroke-width="3.8"/>
<path d="M901.1 400.5L897.0 399.7" stroke="#bcbcbc" stroke-width="2.1"/>
<path d="M911.2 425.7L916.4 427.8" stroke="#4a4a4a" stroke-width="3.8"/>
<path d="M911.2 425.7L916.4 427.8" stroke="#bcbcbc" stroke-width="2.1"/>
<path d="M773.5 433.4L780.1 434.5" stroke="#4a4a4a" stroke-width="3.8"/>
<path d="M773.5 433.4L780.1 434.5" stroke="#bcbcbc" stroke-width="2.1"/>
<path d="M813.2 425.7L814.2 425.2" stroke="#4a4a4a" stroke-width="3.8"/>
<path d="M813.2 425.7L814.2 425.2" stroke="#bcbcbc" stroke-width="2.1"/>
<path d="M810.7 394.6L807.3 392.1" stroke="#4a4a4a" stroke-width="3.8"/>
<path d="M810.7 394.6L807.3 392.1" stroke="#bcbcbc" stroke-width="2.1"/>
<path d="M880.6 489.6L880.0 485.8" stroke="#4a4a4a" stroke-width="3.8"/>
<path d="M880.6 489.6L880.0 485.8" stroke="#bcbcbc" stroke-width="2.1"/>
<path d="M770.6 427.6L773.5 433.4" stroke="#4a4a4a" stroke-width="3.8"/>
<path d="M770.6 427.6L773.5 433.4" stroke="#bcbcbc" stroke-width="2.1"/>
<path d="M803.5 459.3L802.0 463.2" stroke="#4a4a4a" stroke-width="3.8"/>
<path d="M803.5 459.3L802.0 463.2" stroke="#bcbcbc" stroke-width="2.1"/>
<path d="M859.6 352.6L865.6 355.5" stroke="#4a4a4a" stroke-width="3.8"/>
<path d="M859.6 352.6L865.6 355.5" stroke="#bcbcbc" stroke-width="2.1"/>
<path d="M848.7 431.7L847.6 424.9" stroke="#4a4a4a" stroke-width="3.8"/>
<path d="M848.7 431.7L847.6 424.9" stroke="#bcbcbc" stroke-width="2.1"/>
<path d="M900.2 431.5L898.4 431.3" stroke="#4a4a4a" stroke-width="3.8"/>
<path d="M900.2 431.5L899.3 431.4" stroke="#bcbcbc" stroke-width="2.1"/>
<path d="M899.3 431.4L898.4 431.3" stroke="#e42828" stroke-width="2.1"/>
<path d="M885.3 417.9L884.3 418.9" stroke="#4a4a4a" stroke-width="3.8"/>
<path d="M885.3 417.9L884.3 418.9" stroke="#bcbcbc" stroke-width="2.1"/>
<path d="M812.3 497.7L812.2 495.4" stroke="#4a4a4a" stroke-width="3.8"/>
<path d="M812.3 497.7L812.2 495.4" stroke="#bcbcbc" stroke-width="2.1"/>
<path d="M860.0 423.2L861.0 430.0" stroke="#4a4a4a" stroke-width="3.8"/>
<path d="M860.0 423.2L861.0 430.0" stroke="#bdbdbd" stroke-width="2.1"/>
<path d="M909.8 403.8L907.5 402.6" stroke="#4a4a4a" stroke-width="3.8"/>
<path d="M909.8 403.8L907.5 402.6" stroke="#bdbdbd" stroke-width="2.1"/>
<path d="M851.9 497.8L857.3 497.1" stroke="#4a4a4a" stroke-width="3.8"/>
<path d="M851.9 497.8L857.3 497.1" stroke="#bdbdbd" stroke-width="2.1"/>
<path d="M916.4 427.8L922.7 425.6" stroke="#4a4a4a" stroke-width="3.8"/>
<path d="M916.4 427.8L922.7 425.6" stroke="#bdbdbd" stroke-width="2.1"/>
<path d="M842.6 351.9L837.0 351.3" stroke="#4a4a4a" stroke-width="3.8"/>
<path d="M842.6 351.9L837.0 351.3" stroke="#bdbdbd" stroke-width="2.1"/>
<path d="M857.2 393.1L856.2 385.4" stroke="#4a4a4a" stroke-width="3.8"/>
<path d="M857.2 393.1L856.2 385.4" stroke="#bdbdbd" stroke-width="2.1"/>
<path d="M783.0 440.3L783.5 444.5" stroke="#4a4a4a" stroke-width="3.8"/>
<path d="M783.0 440.3L783.5 444.5" stroke="#bdbdbd" stroke-width="2.1"/>
<path d="M829.7 417.9L829.4 424.1" stroke="#4a4a4a" stroke-width="3.8"/>
<path d="M829.7 417.9L829.4 424.1" stroke="#bdbdbd" stroke-width="2.1"/>
<path d="M848.6 352.8L842.6 351.9" stroke="#4a4a4a" stroke-width="3.8"/>
<path d="M848.6 352.8L842.6 351.9" stroke="#bdbdbd" stroke-width="2.1"/>
<path d="M810.7 394.6L816.5 398.6" stroke="#4a4a4a" stroke-width="3.8"/>
<path d="M810.7 394.6L813.6 396.6" stroke="#bdbdbd" stroke-width="2.1"/>
<path d="M813.6 396.6L816.5 398.6" stroke="#eec840" stroke-width="2.1"/>
<path d="M854.3 353.5L859.6 352.6" stroke="#4a4a4a" stroke-width="3.8"/>
<path d="M854.3 353.5L859.6 352.6" stroke="#bdbdbd" stroke-width="2.1"/>
<path d="M879.2 446.7L879.7 451.6" stroke="#4a4a4a" stroke-width="3.8"/>
<path d="M879.2 446.7L879.7 451.6" stroke="#bdbdbd" stroke-width="2.1"/>
<path d="M799.5 469.4L798.6 471.8" stroke="#4a4a4a" stroke-width="3.8"/>
<path d="M799.5 469.4L798.6 471.8" stroke="#bdbdbd" stroke-width="2.1"/>
<path d="M854.3 353.5L848.6 352.8" stroke="#4a4a4a" stroke-width="3.8"/>
<path d="M854.3 353.5L848.6 352.8" stroke="#bdbdbd" stroke-width="2.1"/>
<path d="M833.1 412.2L829.7 417.9" stroke="#4a4a4a" stroke-width="3.8"/>
<path d="M833.1 412.2L829.7 417.9" stroke="#bdbdbd" stroke-width="2.1"/>
<path d="M802.9 427.9L801.9 428.4" stroke="#4a4a4a" stroke-width="3.8"/>
<path d="M802.9 427.9L801.9 428.4" stroke="#bdbdbd" stroke-width="2.1"/>
<path d="M925.8 431.4L925.9 437.3" stroke="#4a4a4a" stroke-width="3.8"/>
<path d="M925.8 431.4L925.9 437.3" stroke="#bdbdbd" stroke-width="2.1"/>
<path d="M867.3 443.6L868.2 450.2" stroke="#4a4a4a" stroke-width="3.8"/>
<path d="M867.3 443.6L868.2 450.2" stroke="#bdbdbd" stroke-width="2.1"/>
<path d="M862.8 454.8L856.4 452.9" stroke="#4a4a4a" stroke-width="3.8"/>
<path d="M862.8 454.8L856.4 452.9" stroke="#bdbdbd" stroke-width="2.1"/>
<path d="M847.6 424.9L853.3 420.7" stroke="#4a4a4a" stroke-width="3.8"/>
<path d="M847.6 424.9L853.3 420.7" stroke="#bdbdbd" stroke-width="2.1"/>
<path d="M780.1 434.5L783.7 429.8" stroke="#4a4a4a" stroke-width="3.8"/>
<path d="M780.1 434.5L783.7 429.8" stroke="#bdbdbd" stroke-width="2.1"/>
<path d="M848.8 486.7L847.7 492.6" stroke="#4a4a4a" stroke-width="3.8"/>
<path d="M848.8 486.7L847.7 492.6" stroke="#bebebe" stroke-width="2.1"/>
<path d="M925.9 437.3L929.9 442.4" stroke="#4a4a4a" stroke-width="3.8"/>
<path d="M925.9 437.3L929.9 442.4" stroke="#bebebe" stroke-width="2.1"/>
<path d="M853.3 420.7L860.0 423.2" stroke="#4a4a4a" stroke-width="3.8"/>
<path d="M853.3 420.7L860.0 423.2" stroke="#bebebe" stroke-width="2.1"/>
<path d="M848.3 479.3L842.7 476.7" stroke="#4a4a4a" stroke-width="3.8"/>
<path d="M848.3 479.3L842.7 476.7" stroke="#bebebe" stroke-width="2.1"/>
<path d="M795.8 416.3L795.8 416.9" stroke="#4a4a4a" stroke-width="3.8"/>
<path d="M795.8 416.3L795.8 416.9" stroke="#bebebe" stroke-width="2.1"/>
<path d="M774.2 422.9L770.6 427.6" stroke="#4a4a4a" stroke-width="3.8"/>
<path d="M774.2 422.9L770.6 427.6" stroke="#bebebe" stroke-width="2.1"/>
<path d="M885.3 417.9L878.0 418.9" stroke="#4a4a4a" stroke-width="3.8"/>
<path d="M885.3 417.9L878.0 418.9" stroke="#bebebe" stroke-width="2.1"/>
<path d="M869.9 494.1L875.6 493.8" stroke="#4a4a4a" stroke-width="3.8"/>
<path d="M869.9 494.1L875.6 493.8" stroke="#bebebe" stroke-width="2.1"/>
<path d="M851.5 484.4L848.3 479.3" stroke="#4a4a4a" stroke-width="3.8"/>
<path d="M851.5 484.4L848.3 479.3" stroke="#bebebe" stroke-width="2.1"/>
<path d="M905.7 434.2L900.2 431.5" stroke="#4a4a4a" stroke-width="3.8"/>
<path d="M905.7 434.2L900.2 431.5" stroke="#bebebe" stroke-width="2.1"/>
<path d="M847.6 424.9L841.8 423.9" stroke="#4a4a4a" stroke-width="3.8"/>
<path d="M847.6 424.9L841.8 423.9" stroke="#bebebe" stroke-width="2.1"/>
<path d="M868.2 450.2L862.8 454.8" stroke="#4a4a4a" stroke-width="3.8"/>
<path d="M868.2 450.2L862.8 454.8" stroke="#bebebe" stroke-width="2.1"/>
<path d="M847.7 492.6L851.9 497.8" stroke="#4a4a4a" stroke-width="3.8"/>
<path d="M847.7 492.6L851.9 497.8" stroke="#bebebe" stroke-width="2.1"/>
<path d="M856.4 384.3L852.9 378.1" stroke="#4a4a4a" stroke-width="3.8"/>
<path d="M856.4 384.3L854.6 381.2" stroke="#bebebe" stroke-width="2.1"/>
<path d="M854.6 381.2L852.9 378.1" stroke="#e42828" stroke-width="2.1"/>
<path d="M789.0 399.7L791.2 405.9" stroke="#4a4a4a" stroke-width="3.8"/>
<path d="M789.0 399.7L791.2 405.9" stroke="#bfbfbf" stroke-width="2.1"/>
<path d="M875.6 493.8L880.6 489.6" stroke="#4a4a4a" stroke-width="3.8"/>
<path d="M875.6 493.8L880.6 489.6" stroke="#bfbfbf" stroke-width="2.1"/>
<path d="M856.2 385.4L856.4 384.3" stroke="#4a4a4a" stroke-width="3.8"/>
<path d="M856.2 385.4L856.4 384.3" stroke="#bfbfbf" stroke-width="2.1"/>
<path d="M905.7 434.2L903.9 438.9" stroke="#4a4a4a" stroke-width="3.8"/>
<path d="M905.7 434.2L903.9 438.9" stroke="#bfbfbf" stroke-width="2.1"/>
<path d="M877.7 450.2L877.2 449.4" stroke="#4a4a4a" stroke-width="3.8"/>
<path d="M877.7 450.2L877.4 449.8" stroke="#bfbfbf" stroke-width="2.1"/>
<path d="M877.4 449.8L877.2 449.4" stroke="#e42828" stroke-width="2.1"/>
<path d="M783.5 444.5L779.4 449.8" stroke="#4a4a4a" stroke-width="3.8"/>
<path d="M783.5 444.5L779.4 449.8" stroke="#bfbfbf" stroke-width="2.1"/>
<path d="M810.7 394.6L806.5 398.6" stroke="#4a4a4a" stroke-width="3.8"/>
<path d="M810.7 394.6L806.5 398.6" stroke="#bfbfbf" stroke-width="2.1"/>
<path d="M832.0 429.1L826.1 423.8" stroke="#4a4a4a" stroke-width="3.8"/>
<path d="M832.0 429.1L826.1 423.8" stroke="#bfbfbf" stroke-width="2.1"/>
<path d="M862.8 454.8L864.7 460.9" stroke="#4a4a4a" stroke-width="3.8"/>
<path d="M862.8 454.8L864.7 460.9" stroke="#bfbfbf" stroke-width="2.1"/>
<path d="M810.7 394.6L812.8 389.6" stroke="#4a4a4a" stroke-width="3.8"/>
<path d="M810.7 394.6L812.8 389.6" stroke="#bfbfbf" stroke-width="2.1"/>
<path d="M806.5 398.6L801.0 401.3" stroke="#4a4a4a" stroke-width="3.8"/>
<path d="M806.5 398.6L801.0 401.3" stroke="#bfbfbf" stroke-width="2.1"/>
<path d="M783.7 429.8L780.7 424.0" stroke="#4a4a4a" stroke-width="3.8"/>
<path d="M783.7 429.8L780.7 424.0" stroke="#bfbfbf" stroke-width="2.1"/>
<path d="M810.6 484.5L810.8 486.8" stroke="#4a4a4a" stroke-width="3.8"/>
<path d="M810.6 484.5L810.8 486.8" stroke="#bfbfbf" stroke-width="2.1"/>
<path d="M801.0 401.3L796.8 405.3" stroke="#4a4a4a" stroke-width="3.8"/>
<path d="M801.0 401.3L796.8 405.3" stroke="#bfbfbf" stroke-width="2.1"/>
<path d="M856.4 384.3L852.4 377.6" stroke="#4a4a4a" stroke-width="3.8"/>
<path d="M856.4 384.3L852.4 377.6" stroke="#bfbfbf" stroke-width="2.1"/>
<path d="M854.3 353.5L854.5 360.3" stroke="#4a4a4a" stroke-width="3.8"/>
<path d="M854.3 353.5L854.4 356.9" stroke="#bfbfbf" stroke-width="2.1"/>
<path d="M854.4 356.9L854.5 360.3" stroke="#eec840" stroke-width="2.1"/>
<path d="M780.7 424.0L774.2 422.9" stroke="#4a4a4a" stroke-width="3.8"/>
<path d="M780.7 424.0L774.2 422.9" stroke="#bfbfbf" stroke-width="2.1"/>
<path d="M878.0 418.9L876.5 423.0" stroke="#4a4a4a" stroke-width="3.8"/>
<path d="M878.0 418.9L877.2 421.0" stroke="#c0c0c0" stroke-width="2.1"/>
<path d="M877.2 421.0L876.5 423.0" stroke="#e42828" stroke-width="2.1"/>
<path d="M791.2 405.9L793.6 410.1" stroke="#4a4a4a" stroke-width="3.8"/>
<path d="M791.2 405.9L793.6 410.1" stroke="#c0c0c0" stroke-width="2.1"/>
<path d="M814.2 425.2L809.1 426.3" stroke="#4a4a4a" stroke-width="3.8"/>
<path d="M814.2 425.2L809.1 426.3" stroke="#c0c0c0" stroke-width="2.1"/>
<path d="M897.0 399.7L899.3 401.0" stroke="#4a4a4a" stroke-width="3.8"/>
<path d="M897.0 399.7L899.3 401.0" stroke="#c0c0c0" stroke-width="2.1"/>
<path d="M828.0 414.3L824.8 416.9" stroke="#4a4a4a" stroke-width="3.8"/>
<path d="M828.0 414.3L824.8 416.9" stroke="#c0c0c0" stroke-width="2.1"/>
<path d="M812.8 389.6L817.7 385.5" stroke="#4a4a4a" stroke-width="3.8"/>
<path d="M812.8 389.6L817.7 385.5" stroke="#c0c0c0" stroke-width="2.1"/>
<path d="M879.7 451.6L877.7 450.2" stroke="#4a4a4a" stroke-width="3.8"/>
<path d="M879.7 451.6L877.7 450.2" stroke="#c0c0c0" stroke-width="2.1"/>
<path d="M841.8 423.9L838.0 427.6" stroke="#4a4a4a" stroke-width="3.8"/>
<path d="M841.8 423.9L839.9 425.8" stroke="#c0c0c0" stroke-width="2.1"/>
<path d="M839.9 425.8L838.0 427.6" stroke="#e42828" stroke-width="2.1"/>
<path d="M841.8 423.9L839.1 418.7" stroke="#4a4a4a" stroke-width="3.8"/>
<path d="M841.8 423.9L839.1 418.7" stroke="#c0c0c0" stroke-width="2.1"/>
<path d="M854.3 353.5L854.3 348.7" stroke="#4a4a4a" stroke-width="3.8"/>
<path d="M854.3 353.5L854.3 348.7" stroke="#c0c0c0" stroke-width="2.1"/>
<path d="M829.7 417.9L826.4 415.9" stroke="#4a4a4a" stroke-width="3.8"/>
<path d="M829.7 417.9L826.4 415.9" stroke="#c0c0c0" stroke-width="2.1"/>
<path d="M802.7 461.6L803.5 459.3" stroke="#4a4a4a" stroke-width="3.8"/>
<path d="M802.7 461.6L803.5 459.3" stroke="#c0c0c0" stroke-width="2.1"/>
<path d="M864.7 460.9L870.2 462.8" stroke="#4a4a4a" stroke-width="3.8"/>
<path d="M864.7 460.9L867.5 461.9" stroke="#c0c0c0" stroke-width="2.1"/>
<path d="M867.5 461.9L870.2 462.8" stroke="#e42828" stroke-width="2.1"/>
<path d="M922.1 438.2L925.9 437.3" stroke="#4a4a4a" stroke-width="3.8"/>
<path d="M922.1 438.2L925.9 437.3" stroke="#c0c0c0" stroke-width="2.1"/>
<path d="M864.7 460.9L861.0 466.2" stroke="#4a4a4a" stroke-width="3.8"/>
<path d="M864.7 460.9L861.0 466.2" stroke="#c0c0c0" stroke-width="2.1"/>
<path d="M809.1 426.3L802.9 427.9" stroke="#4a4a4a" stroke-width="3.8"/>
<path d="M809.1 426.3L802.9 427.9" stroke="#c0c0c0" stroke-width="2.1"/>
<path d="M788.0 443.2L783.5 444.5" stroke="#4a4a4a" stroke-width="3.8"/>
<path d="M788.0 443.2L783.5 444.5" stroke="#c0c0c0" stroke-width="2.1"/>
<path d="M817.7 385.5L819.8 380.4" stroke="#4a4a4a" stroke-width="3.8"/>
<path d="M817.7 385.5L819.8 380.4" stroke="#c0c0c0" stroke-width="2.1"/>
<path d="M913.7 435.2L905.7 434.2" stroke="#4a4a4a" stroke-width="3.8"/>
<path d="M913.7 435.2L905.7 434.2" stroke="#c0c0c0" stroke-width="2.1"/>
<path d="M811.7 493.4L812.3 497.7" stroke="#4a4a4a" stroke-width="3.8"/>
<path d="M811.7 493.4L812.3 497.7" stroke="#c1c1c1" stroke-width="2.1"/>
<path d="M905.7 403.0L909.8 403.8" stroke="#4a4a4a" stroke-width="3.8"/>
<path d="M905.7 403.0L909.8 403.8" stroke="#c1c1c1" stroke-width="2.1"/>
<path d="M828.0 414.3L831.6 419.0" stroke="#4a4a4a" stroke-width="3.8"/>
<path d="M828.0 414.3L829.8 416.6" stroke="#c1c1c1" stroke-width="2.1"/>
<path d="M829.8 416.6L831.6 419.0" stroke="#e42828" stroke-width="2.1"/>
<path d="M842.7 476.7L840.1 479.2" stroke="#4a4a4a" stroke-width="3.8"/>
<path d="M842.7 476.7L840.1 479.2" stroke="#c1c1c1" stroke-width="2.1"/>
<path d="M795.8 416.3L793.6 410.1" stroke="#4a4a4a" stroke-width="3.8"/>
<path d="M795.8 416.3L793.6 410.1" stroke="#c1c1c1" stroke-width="2.1"/>
<path d="M779.4 449.8L779.8 454.0" stroke="#4a4a4a" stroke-width="3.8"/>
<path d="M779.4 449.8L779.8 454.0" stroke="#c1c1c1" stroke-width="2.1"/>
<path d="M854.5 360.3L854.2 363.3" stroke="#4a4a4a" stroke-width="3.8"/>
<path d="M854.5 360.3L854.3 361.8" stroke="#eec840" stroke-width="2.1"/>
<path d="M854.3 361.8L854.2 363.3" stroke="#c1c1c1" stroke-width="2.1"/>
<path d="M848.9 486.9L851.5 484.4" stroke="#4a4a4a" stroke-width="3.8"/>
<path d="M848.9 486.9L851.5 484.4" stroke="#c1c1c1" stroke-width="2.1"/>
<path d="M795.8 416.3L802.7 417.3" stroke="#4a4a4a" stroke-width="3.8"/>
<path d="M795.8 416.3L799.2 416.8" stroke="#c1c1c1" stroke-width="2.1"/>
<path d="M799.2 416.8L802.7 417.3" stroke="#eec840" stroke-width="2.1"/>
<path d="M795.8 416.3L791.6 420.9" stroke="#4a4a4a" stroke-width="3.8"/>
<path d="M795.8 416.3L791.6 420.9" stroke="#c1c1c1" stroke-width="2.1"/>
<path d="M798.6 471.8L800.2 467.9" stroke="#4a4a4a" stroke-width="3.8"/>
<path d="M798.6 471.8L800.2 467.9" stroke="#c1c1c1" stroke-width="2.1"/>
<path d="M852.5 342.4L854.3 348.7" stroke="#4a4a4a" stroke-width="3.8"/>
<path d="M852.5 342.4L854.3 348.7" stroke="#c1c1c1" stroke-width="2.1"/>
<path d="M816.6 441.4L822.9 434.0" stroke="#4a4a4a" stroke-width="3.8"/>
<path d="M816.6 441.4L822.9 434.0" stroke="#c1c1c1" stroke-width="2.1"/>
<path d="M789.2 397.6L789.0 399.7" stroke="#4a4a4a" stroke-width="3.8"/>
<path d="M789.2 397.6L789.0 399.7" stroke="#c1c1c1" stroke-width="2.1"/>
<path d="M861.0 466.2L863.8 470.7" stroke="#4a4a4a" stroke-width="3.8"/>
<path d="M861.0 466.2L863.8 470.7" stroke="#c2c2c2" stroke-width="2.1"/>
<path d="M922.1 438.2L914.9 436.8" stroke="#4a4a4a" stroke-width="3.8"/>
<path d="M922.1 438.2L918.5 437.5" stroke="#c2c2c2" stroke-width="2.1"/>
<path d="M918.5 437.5L914.9 436.8" stroke="#eec840" stroke-width="2.1"/>
<path d="M914.9 436.8L913.7 435.2" stroke="#4a4a4a" stroke-width="3.8"/>
<path d="M914.9 436.8L914.3 436.0" stroke="#eec840" stroke-width="2.1"/>
<path d="M914.3 436.0L913.7 435.2" stroke="#c2c2c2" stroke-width="2.1"/>
<path d="M816.6 441.4L820.9 443.2" stroke="#4a4a4a" stroke-width="3.8"/>
<path d="M816.6 441.4L818.7 442.3" stroke="#c2c2c2" stroke-width="2.1"/>
<path d="M818.7 442.3L820.9 443.2" stroke="#8c8ce6" stroke-width="2.1"/>
<path d="M810.8 486.8L811.7 493.4" stroke="#4a4a4a" stroke-width="3.8"/>
<path d="M810.8 486.8L811.7 493.4" stroke="#c2c2c2" stroke-width="2.1"/>
<path d="M839.1 418.7L833.6 417.1" stroke="#4a4a4a" stroke-width="3.8"/>
<path d="M839.1 418.7L833.6 417.1" stroke="#c2c2c2" stroke-width="2.1"/>
<path d="M793.3 427.4L791.6 420.9" stroke="#4a4a4a" stroke-width="3.8"/>
<path d="M793.3 427.4L791.6 420.9" stroke="#c2c2c2" stroke-width="2.1"/>
<path d="M877.7 450.2L877.6 448.4" stroke="#4a4a4a" stroke-width="3.8"/>
<path d="M877.7 450.2L877.6 449.3" stroke="#c2c2c2" stroke-width="2.1"/>
<path d="M877.6 449.3L877.6 448.4" stroke="#e42828" stroke-width="2.1"/>
<path d="M899.3 401.0L905.7 403.0" stroke="#4a4a4a" stroke-width="3.8"/>
<path d="M899.3 401.0L905.7 403.0" stroke="#c2c2c2" stroke-width="2.1"/>
<path d="M927.7 455.2L927.1 448.8" stroke="#4a4a4a" stroke-width="3.8"/>
<path d="M927.7 455.2L927.1 448.8" stroke="#c2c2c2" stroke-width="2.1"/>
<path d="M852.6 337.6L852.5 342.4" stroke="#4a4a4a" stroke-width="3.8"/>
<path d="M852.6 337.6L852.5 342.4" stroke="#c2c2c2" stroke-width="2.1"/>
<path d="M807.7 400.0L806.5 398.6" stroke="#4a4a4a" stroke-width="3.8"/>
<path d="M807.7 400.0L806.5 398.6" stroke="#c2c2c2" stroke-width="2.1"/>
<path d="M812.6 449.6L816.6 441.4" stroke="#4a4a4a" stroke-width="3.8"/>
<path d="M812.6 449.6L816.6 441.4" stroke="#c3c3c3" stroke-width="2.1"/>
<path d="M927.1 448.8L922.7 444.6" stroke="#4a4a4a" stroke-width="3.8"/>
<path d="M927.1 448.8L922.7 444.6" stroke="#c3c3c3" stroke-width="2.1"/>
<path d="M809.9 388.6L812.8 389.6" stroke="#4a4a4a" stroke-width="3.8"/>
<path d="M809.9 388.6L812.8 389.6" stroke="#c3c3c3" stroke-width="2.1"/>
<path d="M800.2 467.9L802.7 461.6" stroke="#4a4a4a" stroke-width="3.8"/>
<path d="M800.2 467.9L802.7 461.6" stroke="#c3c3c3" stroke-width="2.1"/>
<path d="M863.8 470.7L864.0 465.7" stroke="#4a4a4a" stroke-width="3.8"/>
<path d="M863.8 470.7L864.0 465.7" stroke="#c3c3c3" stroke-width="2.1"/>
<path d="M796.8 405.3L798.1 406.7" stroke="#4a4a4a" stroke-width="3.8"/>
<path d="M796.8 405.3L798.1 406.7" stroke="#c3c3c3" stroke-width="2.1"/>
<path d="M802.7 417.3L806.8 420.6" stroke="#4a4a4a" stroke-width="3.8"/>
<path d="M802.7 417.3L804.8 418.9" stroke="#eec840" stroke-width="2.1"/>
<path d="M804.8 418.9L806.8 420.6" stroke="#c3c3c3" stroke-width="2.1"/>
<path d="M854.2 363.3L852.5 367.5" stroke="#4a4a4a" stroke-width="3.8"/>
<path d="M854.2 363.3L852.5 367.5" stroke="#c3c3c3" stroke-width="2.1"/>
<path d="M833.6 417.1L828.0 414.3" stroke="#4a4a4a" stroke-width="3.8"/>
<path d="M833.6 417.1L828.0 414.3" stroke="#c3c3c3" stroke-width="2.1"/>
<path d="M864.0 465.7L864.3 463.3" stroke="#4a4a4a" stroke-width="3.8"/>
<path d="M864.0 465.7L864.3 463.3" stroke="#c3c3c3" stroke-width="2.1"/>
<path d="M922.1 438.2L922.7 444.6" stroke="#4a4a4a" stroke-width="3.8"/>
<path d="M922.1 438.2L922.7 444.6" stroke="#c3c3c3" stroke-width="2.1"/>
<path d="M789.1 432.0L793.3 427.4" stroke="#4a4a4a" stroke-width="3.8"/>
<path d="M789.1 432.0L793.3 427.4" stroke="#c3c3c3" stroke-width="2.1"/>
<path d="M791.6 420.9L785.7 418.9" stroke="#4a4a4a" stroke-width="3.8"/>
<path d="M791.6 420.9L785.7 418.9" stroke="#c3c3c3" stroke-width="2.1"/>
<path d="M826.4 415.9L823.2 417.3" stroke="#4a4a4a" stroke-width="3.8"/>
<path d="M826.4 415.9L824.8 416.6" stroke="#c3c3c3" stroke-width="2.1"/>
<path d="M824.8 416.6L823.2 417.3" stroke="#e42828" stroke-width="2.1"/>
<path d="M826.4 415.9L825.9 412.1" stroke="#4a4a4a" stroke-width="3.8"/>
<path d="M826.4 415.9L825.9 412.1" stroke="#c3c3c3" stroke-width="2.1"/>
<path d="M822.9 434.0L825.2 436.7" stroke="#4a4a4a" stroke-width="3.8"/>
<path d="M822.9 434.0L824.1 435.3" stroke="#c3c3c3" stroke-width="2.1"/>
<path d="M824.1 435.3L825.2 436.7" stroke="#e42828" stroke-width="2.1"/>
<path d="M826.1 423.8L822.4 428.2" stroke="#4a4a4a" stroke-width="3.8"/>
<path d="M826.1 423.8L824.3 426.0" stroke="#c3c3c3" stroke-width="2.1"/>
<path d="M824.3 426.0L822.4 428.2" stroke="#e42828" stroke-width="2.1"/>
<path d="M810.1 482.4L810.8 486.8" stroke="#4a4a4a" stroke-width="3.8"/>
<path d="M810.1 482.4L810.8 486.8" stroke="#c3c3c3" stroke-width="2.1"/>
<path d="M864.0 465.7L860.5 469.6" stroke="#4a4a4a" stroke-width="3.8"/>
<path d="M864.0 465.7L862.2 467.7" stroke="#c3c3c3" stroke-width="2.1"/>
<path d="M862.2 467.7L860.5 469.6" stroke="#e42828" stroke-width="2.1"/>
<path d="M793.6 410.1L793.8 408.0" stroke="#4a4a4a" stroke-width="3.8"/>
<path d="M793.6 410.1L793.8 408.0" stroke="#c4c4c4" stroke-width="2.1"/>
<path d="M840.1 479.2L843.3 484.3" stroke="#4a4a4a" stroke-width="3.8"/>
<path d="M840.1 479.2L843.3 484.3" stroke="#c4c4c4" stroke-width="2.1"/>
<path d="M826.1 423.8L827.2 426.1" stroke="#4a4a4a" stroke-width="3.8"/>
<path d="M826.1 423.8L826.6 425.0" stroke="#c4c4c4" stroke-width="2.1"/>
<path d="M826.6 425.0L827.2 426.1" stroke="#e42828" stroke-width="2.1"/>
<path d="M922.1 438.2L924.1 434.0" stroke="#4a4a4a" stroke-width="3.8"/>
<path d="M922.1 438.2L924.1 434.0" stroke="#c4c4c4" stroke-width="2.1"/>
<path d="M854.3 348.7L856.3 350.3" stroke="#4a4a4a" stroke-width="3.8"/>
<path d="M854.3 348.7L856.3 350.3" stroke="#c4c4c4" stroke-width="2.1"/>
<path d="M792.2 482.0L798.6 484.3" stroke="#4a4a4a" stroke-width="3.8"/>
<path d="M792.2 482.0L798.6 484.3" stroke="#c4c4c4" stroke-width="2.1"/>
<path d="M843.3 484.3L848.9 486.9" stroke="#4a4a4a" stroke-width="3.8"/>
<path d="M843.3 484.3L848.9 486.9" stroke="#c4c4c4" stroke-width="2.1"/>
<path d="M819.8 380.4L816.9 379.4" stroke="#4a4a4a" stroke-width="3.8"/>
<path d="M819.8 380.4L816.9 379.4" stroke="#c4c4c4" stroke-width="2.1"/>
<path d="M788.5 447.3L788.0 443.2" stroke="#4a4a4a" stroke-width="3.8"/>
<path d="M788.5 447.3L788.0 443.2" stroke="#c4c4c4" stroke-width="2.1"/>
<path d="M814.8 476.7L817.7 474.1" stroke="#4a4a4a" stroke-width="3.8"/>
<path d="M814.8 476.7L816.2 475.4" stroke="#eec840" stroke-width="2.1"/>
<path d="M816.2 475.4L817.7 474.1" stroke="#c4c4c4" stroke-width="2.1"/>
<path d="M810.5 453.9L812.6 449.6" stroke="#4a4a4a" stroke-width="3.8"/>
<path d="M810.5 453.9L811.5 451.8" stroke="#eec840" stroke-width="2.1"/>
<path d="M811.5 451.8L812.6 449.6" stroke="#c4c4c4" stroke-width="2.1"/>
<path d="M804.2 457.8L802.7 461.6" stroke="#4a4a4a" stroke-width="3.8"/>
<path d="M804.2 457.8L802.7 461.6" stroke="#c4c4c4" stroke-width="2.1"/>
<path d="M852.5 367.5L849.5 358.2" stroke="#4a4a4a" stroke-width="3.8"/>
<path d="M852.5 367.5L851.0 362.8" stroke="#c4c4c4" stroke-width="2.1"/>
<path d="M851.0 362.8L849.5 358.2" stroke="#8c8ce6" stroke-width="2.1"/>
<path d="M817.7 474.1L822.5 472.4" stroke="#4a4a4a" stroke-width="3.8"/>
<path d="M817.7 474.1L822.5 472.4" stroke="#c4c4c4" stroke-width="2.1"/>
<path d="M806.8 420.6L812.0 420.8" stroke="#4a4a4a" stroke-width="3.8"/>
<path d="M806.8 420.6L812.0 420.8" stroke="#c4c4c4" stroke-width="2.1"/>
<path d="M779.8 454.0L784.4 452.7" stroke="#4a4a4a" stroke-width="3.8"/>
<path d="M779.8 454.0L784.4 452.7" stroke="#c5c5c5" stroke-width="2.1"/>
<path d="M798.6 484.3L803.7 480.2" stroke="#4a4a4a" stroke-width="3.8"/>
<path d="M798.6 484.3L803.7 480.2" stroke="#c5c5c5" stroke-width="2.1"/>
<path d="M788.5 449.4L793.6 453.6" stroke="#4a4a4a" stroke-width="3.8"/>
<path d="M788.5 449.4L793.6 453.6" stroke="#c5c5c5" stroke-width="2.1"/>
<path d="M827.0 468.3L831.1 465.1" stroke="#4a4a4a" stroke-width="3.8"/>
<path d="M827.0 468.3L829.0 466.7" stroke="#c5c5c5" stroke-width="2.1"/>
<path d="M829.0 466.7L831.1 465.1" stroke="#e42828" stroke-width="2.1"/>
<path d="M790.9 475.7L792.2 482.0" stroke="#4a4a4a" stroke-width="3.8"/>
<path d="M790.9 475.7L792.2 482.0" stroke="#c5c5c5" stroke-width="2.1"/>
<path d="M783.2 430.1L789.1 432.0" stroke="#4a4a4a" stroke-width="3.8"/>
<path d="M783.2 430.1L789.1 432.0" stroke="#c5c5c5" stroke-width="2.1"/>
<path d="M785.7 418.9L781.5 423.5" stroke="#4a4a4a" stroke-width="3.8"/>
<path d="M785.7 418.9L781.5 423.5" stroke="#c5c5c5" stroke-width="2.1"/>
<path d="M810.1 482.4L814.8 476.7" stroke="#4a4a4a" stroke-width="3.8"/>
<path d="M810.1 482.4L812.4 479.6" stroke="#c5c5c5" stroke-width="2.1"/>
<path d="M812.4 479.6L814.8 476.7" stroke="#eec840" stroke-width="2.1"/>
<path d="M924.0 457.4L927.7 455.2" stroke="#4a4a4a" stroke-width="3.8"/>
<path d="M924.0 457.4L927.7 455.2" stroke="#c5c5c5" stroke-width="2.1"/>
<path d="M822.5 472.4L827.0 468.3" stroke="#4a4a4a" stroke-width="3.8"/>
<path d="M822.5 472.4L827.0 468.3" stroke="#c5c5c5" stroke-width="2.1"/>
<path d="M924.1 434.0L928.1 428.7" stroke="#4a4a4a" stroke-width="3.8"/>
<path d="M924.1 434.0L928.1 428.7" stroke="#c5c5c5" stroke-width="2.1"/>
<path d="M812.0 420.8L815.3 413.3" stroke="#4a4a4a" stroke-width="3.8"/>
<path d="M812.0 420.8L813.7 417.1" stroke="#c5c5c5" stroke-width="2.1"/>
<path d="M813.7 417.1L815.3 413.3" stroke="#8c8ce6" stroke-width="2.1"/>
<path d="M822.5 472.4L822.0 471.2" stroke="#4a4a4a" stroke-width="3.8"/>
<path d="M822.5 472.4L822.0 471.2" stroke="#c5c5c5" stroke-width="2.1"/>
<path d="M810.1 482.4L803.7 480.2" stroke="#4a4a4a" stroke-width="3.8"/>
<path d="M810.1 482.4L803.7 480.2" stroke="#c5c5c5" stroke-width="2.1"/>
<path d="M791.6 401.8L789.2 397.6" stroke="#4a4a4a" stroke-width="3.8"/>
<path d="M791.6 401.8L789.2 397.6" stroke="#c5c5c5" stroke-width="2.1"/>
<path d="M804.2 457.8L810.5 453.9" stroke="#4a4a4a" stroke-width="3.8"/>
<path d="M804.2 457.8L807.4 455.8" stroke="#c6c6c6" stroke-width="2.1"/>
<path d="M807.4 455.8L810.5 453.9" stroke="#eec840" stroke-width="2.1"/>
<path d="M793.6 453.6L799.1 453.5" stroke="#4a4a4a" stroke-width="3.8"/>
<path d="M793.6 453.6L799.1 453.5" stroke="#c6c6c6" stroke-width="2.1"/>
<path d="M922.7 444.6L919.0 446.8" stroke="#4a4a4a" stroke-width="3.8"/>
<path d="M922.7 444.6L919.0 446.8" stroke="#c6c6c6" stroke-width="2.1"/>
<path d="M852.5 367.5L853.3 373.8" stroke="#4a4a4a" stroke-width="3.8"/>
<path d="M852.5 367.5L853.3 373.8" stroke="#c6c6c6" stroke-width="2.1"/>
<path d="M781.5 423.5L783.2 430.1" stroke="#4a4a4a" stroke-width="3.8"/>
<path d="M781.5 423.5L783.2 430.1" stroke="#c6c6c6" stroke-width="2.1"/>
<path d="M812.0 420.8L821.9 423.2" stroke="#4a4a4a" stroke-width="3.8"/>
<path d="M812.0 420.8L821.9 423.2" stroke="#c6c6c6" stroke-width="2.1"/>
<path d="M803.5 404.0L807.7 400.0" stroke="#4a4a4a" stroke-width="3.8"/>
<path d="M803.5 404.0L807.7 400.0" stroke="#c6c6c6" stroke-width="2.1"/>
<path d="M803.7 480.2L802.4 473.9" stroke="#4a4a4a" stroke-width="3.8"/>
<path d="M803.7 480.2L802.4 473.9" stroke="#c6c6c6" stroke-width="2.1"/>
<path d="M820.6 413.1L823.4 414.7" stroke="#4a4a4a" stroke-width="3.8"/>
<path d="M820.6 413.1L823.4 414.7" stroke="#c6c6c6" stroke-width="2.1"/>
<path d="M784.4 452.7L788.5 447.3" stroke="#4a4a4a" stroke-width="3.8"/>
<path d="M784.4 452.7L788.5 447.3" stroke="#c6c6c6" stroke-width="2.1"/>
<path d="M825.9 412.1L823.0 410.1" stroke="#4a4a4a" stroke-width="3.8"/>
<path d="M825.9 412.1L823.0 410.1" stroke="#c6c6c6" stroke-width="2.1"/>
<path d="M811.9 383.5L809.9 388.6" stroke="#4a4a4a" stroke-width="3.8"/>
<path d="M811.9 383.5L809.9 388.6" stroke="#c6c6c6" stroke-width="2.1"/>
<path d="M798.1 406.7L803.5 404.0" stroke="#4a4a4a" stroke-width="3.8"/>
<path d="M798.1 406.7L803.5 404.0" stroke="#c6c6c6" stroke-width="2.1"/>
<path d="M796.0 471.7L790.9 475.7" stroke="#4a4a4a" stroke-width="3.8"/>
<path d="M796.0 471.7L790.9 475.7" stroke="#c6c6c6" stroke-width="2.1"/>
<path d="M928.1 428.7L930.2 424.5" stroke="#4a4a4a" stroke-width="3.8"/>
<path d="M928.1 428.7L930.2 424.5" stroke="#c6c6c6" stroke-width="2.1"/>
<path d="M854.5 339.2L852.6 337.6" stroke="#4a4a4a" stroke-width="3.8"/>
<path d="M854.5 339.2L852.6 337.6" stroke="#c6c6c6" stroke-width="2.1"/>
<path d="M821.9 423.2L824.8 431.6" stroke="#4a4a4a" stroke-width="3.8"/>
<path d="M821.9 423.2L823.4 427.4" stroke="#c6c6c6" stroke-width="2.1"/>
<path d="M823.4 427.4L824.8 431.6" stroke="#e42828" stroke-width="2.1"/>
<path d="M793.8 408.0L791.6 401.8" stroke="#4a4a4a" stroke-width="3.8"/>
<path d="M793.8 408.0L791.6 401.8" stroke="#c7c7c7" stroke-width="2.1"/>
<path d="M804.2 457.8L799.1 453.5" stroke="#4a4a4a" stroke-width="3.8"/>
<path d="M804.2 457.8L799.1 453.5" stroke="#c7c7c7" stroke-width="2.1"/>
<path d="M802.4 473.9L796.0 471.7" stroke="#4a4a4a" stroke-width="3.8"/>
<path d="M802.4 473.9L796.0 471.7" stroke="#c7c7c7" stroke-width="2.1"/>
<path d="M788.9 445.0L788.5 449.4" stroke="#4a4a4a" stroke-width="3.8"/>
<path d="M788.9 445.0L788.5 449.4" stroke="#c7c7c7" stroke-width="2.1"/>
<path d="M816.9 379.4L811.9 383.5" stroke="#4a4a4a" stroke-width="3.8"/>
<path d="M816.9 379.4L811.9 383.5" stroke="#c7c7c7" stroke-width="2.1"/>
<path d="M810.1 482.4L811.5 485.7" stroke="#4a4a4a" stroke-width="3.8"/>
<path d="M810.1 482.4L811.5 485.7" stroke="#c7c7c7" stroke-width="2.1"/>
<path d="M823.0 410.1L820.6 413.1" stroke="#4a4a4a" stroke-width="3.8"/>
<path d="M823.0 410.1L820.6 413.1" stroke="#c7c7c7" stroke-width="2.1"/>
<path d="M853.3 373.8L853.4 378.8" stroke="#4a4a4a" stroke-width="3.8"/>
<path d="M853.3 373.8L853.3 376.3" stroke="#c8c8c8" stroke-width="2.1"/>
<path d="M853.3 376.3L853.4 378.8" stroke="#e42828" stroke-width="2.1"/>
<path d="M919.7 453.2L924.0 457.4" stroke="#4a4a4a" stroke-width="3.8"/>
<path d="M919.7 453.2L924.0 457.4" stroke="#c8c8c8" stroke-width="2.1"/>
<path d="M856.3 350.3L856.4 345.5" stroke="#4a4a4a" stroke-width="3.8"/>
<path d="M856.3 350.3L856.4 345.5" stroke="#c8c8c8" stroke-width="2.1"/>
<path d="M922.3 435.1L924.1 434.0" stroke="#4a4a4a" stroke-width="3.8"/>
<path d="M922.3 435.1L924.1 434.0" stroke="#c8c8c8" stroke-width="2.1"/>
<path d="M804.2 457.8L805.2 461.7" stroke="#4a4a4a" stroke-width="3.8"/>
<path d="M804.2 457.8L805.2 461.7" stroke="#c8c8c8" stroke-width="2.1"/>
<path d="M919.0 446.8L919.7 453.2" stroke="#4a4a4a" stroke-width="3.8"/>
<path d="M919.0 446.8L919.7 453.2" stroke="#c8c8c8" stroke-width="2.1"/>
<path d="M820.6 413.1L820.0 413.2" stroke="#4a4a4a" stroke-width="3.8"/>
<path d="M820.6 413.1L820.3 413.2" stroke="#c9c9c9" stroke-width="2.1"/>
<path d="M820.3 413.2L820.0 413.2" stroke="#e42828" stroke-width="2.1"/>
<path d="M799.1 453.5L799.5 449.1" stroke="#4a4a4a" stroke-width="3.8"/>
<path d="M799.1 453.5L799.5 449.1" stroke="#c9c9c9" stroke-width="2.1"/>
<path d="M856.4 345.5L854.5 339.2" stroke="#4a4a4a" stroke-width="3.8"/>
<path d="M856.4 345.5L854.5 339.2" stroke="#c9c9c9" stroke-width="2.1"/>
<path d="M815.5 491.1L811.5 485.7" stroke="#4a4a4a" stroke-width="3.8"/>
<path d="M815.5 491.1L811.5 485.7" stroke="#c9c9c9" stroke-width="2.1"/>
<path d="M794.4 444.8L788.9 445.0" stroke="#4a4a4a" stroke-width="3.8"/>
<path d="M794.4 444.8L788.9 445.0" stroke="#cacaca" stroke-width="2.1"/>
<path d="M930.2 424.5L928.3 425.6" stroke="#4a4a4a" stroke-width="3.8"/>
<path d="M930.2 424.5L928.3 425.6" stroke="#cacaca" stroke-width="2.1"/>
<path d="M805.2 461.7L800.6 466.4" stroke="#4a4a4a" stroke-width="3.8"/>
<path d="M805.2 461.7L800.6 466.4" stroke="#cbcbcb" stroke-width="2.1"/>
<path d="M799.5 449.1L794.4 444.8" stroke="#4a4a4a" stroke-width="3.8"/>
<path d="M799.5 449.1L794.4 444.8" stroke="#cbcbcb" stroke-width="2.1"/>
<path d="M810.8 461.0L805.2 461.7" stroke="#4a4a4a" stroke-width="3.8"/>
<path d="M810.8 461.0L805.2 461.7" stroke="#cbcbcb" stroke-width="2.1"/>
<path d="M816.8 494.4L815.5 491.1" stroke="#4a4a4a" stroke-width="3.8"/>
<path d="M816.8 494.4L815.5 491.1" stroke="#cbcbcb" stroke-width="2.1"/>
<path d="M811.5 485.7L808.8 483.4" stroke="#4a4a4a" stroke-width="3.8"/>
<path d="M811.5 485.7L808.8 483.4" stroke="#cbcbcb" stroke-width="2.1"/>
<path d="M924.3 430.9L922.3 435.1" stroke="#4a4a4a" stroke-width="3.8"/>
<path d="M924.3 430.9L922.3 435.1" stroke="#cccccc" stroke-width="2.1"/>
<path d="M800.6 466.4L801.5 470.3" stroke="#4a4a4a" stroke-width="3.8"/>
<path d="M800.6 466.4L801.5 470.3" stroke="#cdcdcd" stroke-width="2.1"/>
<path d="M928.3 425.6L924.3 430.9" stroke="#4a4a4a" stroke-width="3.8"/>
<path d="M928.3 425.6L924.3 430.9" stroke="#cdcdcd" stroke-width="2.1"/>
<path d="M811.7 465.0L810.8 461.0" stroke="#4a4a4a" stroke-width="3.8"/>
<path d="M811.7 465.0L810.8 461.0" stroke="#cecece" stroke-width="2.1"/>
<path d="M814.2 492.1L816.8 494.4" stroke="#4a4a4a" stroke-width="3.8"/>
<path d="M814.2 492.1L816.8 494.4" stroke="#cfcfcf" stroke-width="2.1"/>
<path d="M808.8 483.4L810.2 486.7" stroke="#4a4a4a" stroke-width="3.8"/>
<path d="M808.8 483.4L810.2 486.7" stroke="#cfcfcf" stroke-width="2.1"/>
<path d="M801.5 470.3L807.1 469.6" stroke="#4a4a4a" stroke-width="3.8"/>
<path d="M801.5 470.3L807.1 469.6" stroke="#d0d0d0" stroke-width="2.1"/>
<path d="M807.1 469.6L811.7 465.0" stroke="#4a4a4a" stroke-width="3.8"/>
<path d="M807.1 469.6L811.7 465.0" stroke="#d1d1d1" stroke-width="2.1"/>
<path d="M810.2 486.7L814.2 492.1" stroke="#4a4a4a" stroke-width="3.8"/>
<path d="M810.2 486.7L814.2 492.1" stroke="#d1d1d1" stroke-width="2.1"/>
</g>
</svg>
</body></html>
